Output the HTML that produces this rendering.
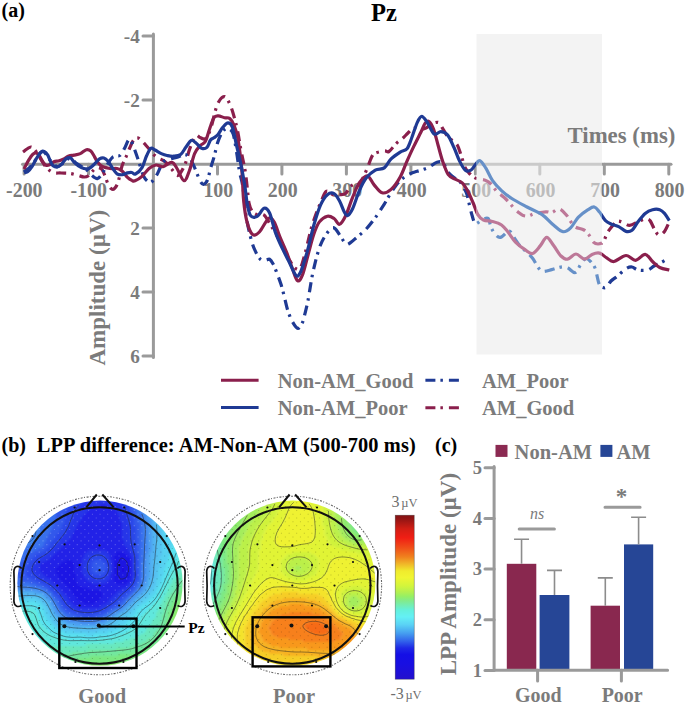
<!DOCTYPE html>
<html><head><meta charset="utf-8"><title>Figure</title>
<style>html,body{margin:0;padding:0;background:#fff;width:685px;height:707px;overflow:hidden}
svg{display:block}</style></head>
<body><svg width="685" height="707" viewBox="0 0 685 707">
<rect width="685" height="707" fill="#fff"/>
<rect x="476.5" y="34" width="125.5" height="320.5" fill="#f3f3f3"/>
<g stroke="#9a9a9a" stroke-width="3" stroke-linecap="round" fill="none">
<path d="M153.4,34V357.5"/>
<path d="M22.5,164.2H671"/>
<path d="M143,36.0H153.4"/>
<path d="M143,100.0H153.4"/>
<path d="M143,228.0H153.4"/>
<path d="M143,292.0H153.4"/>
<path d="M143,356.0H153.4"/>
<path d="M24.1,164.2V174"/>
<path d="M88.5,164.2V174"/>
<path d="M217.5,164.2V174"/>
<path d="M281.9,164.2V174"/>
<path d="M346.4,164.2V174"/>
<path d="M410.9,164.2V174"/>
<path d="M475.4,164.2V174"/>
<path d="M539.8,164.2V174"/>
<path d="M604.3,164.2V174"/>
<path d="M668.8,164.2V174"/>
</g>
<g fill="#7b7b7b" style='font-family:"Liberation Serif",serif;font-weight:bold;font-size:19.9px' text-anchor="middle">
<text x="24.3" y="197.3">-200</text>
<text x="88.7" y="197.3">-100</text>
<text x="218.3" y="197.3">100</text>
<text x="282.7" y="197.3">200</text>
<text x="347.2" y="197.3">300</text>
<text x="411.7" y="197.3">400</text>
<text x="476.2" y="197.3">500</text>
<text x="540.6" y="197.3">600</text>
<text x="605.1" y="197.3">700</text>
<text x="669.6" y="197.3">800</text>
</g>
<g fill="#7b7b7b" style='font-family:"Liberation Serif",serif;font-weight:bold;font-size:19.2px' text-anchor="end">
<text x="139.8" y="43.2">-4</text>
<text x="139.8" y="107.2">-2</text>
<text x="139.8" y="235.2">2</text>
<text x="139.8" y="299.2">4</text>
<text x="139.8" y="363.2">6</text>
</g>
<text x="567.5" y="142.5" fill="#7b7b7b" style='font-family:"Liberation Serif",serif;font-weight:bold;font-size:22.8px'>Times (ms)</text>
<text transform="translate(105.3,365.5) rotate(-90)" fill="#7b7b7b" style='font-family:"Liberation Serif",serif;font-weight:bold;font-size:23px'>Amplitude (&#181;V)</text>
<text x="1.5" y="17.3" fill="#000" style='font-family:"Liberation Serif",serif;font-weight:bold;font-size:20px'>(a)</text>
<text x="371" y="20.6" fill="#000" style='font-family:"Liberation Serif",serif;font-weight:bold;font-size:24.5px'>Pz</text>
<defs><clipPath id="cin"><rect x="476.5" y="0" width="125.5" height="400"/></clipPath><clipPath id="cout"><path d="M0,0H476.5V400H0Z M602,0H685V400H602Z"/></clipPath></defs>
<rect x="476.5" y="150" width="125.5" height="50" fill="#f3f3f3" fill-opacity="0.55"/>
<g clip-path="url(#cout)" fill="none" stroke-width="3.2" stroke-linejoin="round">
<path d="M23.0,152.0C23.7,151.5 25.7,149.8 27.0,149.0C28.3,148.2 29.7,146.8 31.0,147.0C32.3,147.2 33.5,148.2 35.0,150.0C36.5,151.8 38.2,155.2 40.0,158.0C41.8,160.8 43.8,164.6 46.0,167.0C48.2,169.4 50.5,171.5 53.0,172.5C55.5,173.5 58.2,172.8 61.0,173.0C63.8,173.2 67.2,173.1 70.0,173.5C72.8,173.9 75.7,174.8 78.0,175.4C80.3,176.0 82.3,176.9 84.0,177.0C85.7,177.1 86.6,177.0 88.0,176.0C89.4,175.0 91.0,172.6 92.5,171.2C94.0,169.8 95.4,167.8 97.0,167.5C98.6,167.2 100.7,168.1 102.0,169.5C103.3,170.9 104.0,173.6 105.0,176.0C106.0,178.4 107.0,181.9 108.0,184.0C109.0,186.1 110.0,187.7 111.0,188.5C112.0,189.3 112.8,190.0 114.0,189.0C115.2,188.0 116.7,186.3 118.0,182.5C119.3,178.7 120.7,170.2 122.0,166.0C123.3,161.8 124.8,159.9 126.0,157.0C127.2,154.1 128.3,151.2 129.5,148.5C130.7,145.8 131.8,142.8 133.0,141.0C134.2,139.2 135.7,138.0 137.0,137.8C138.3,137.6 139.6,138.8 141.0,140.0C142.4,141.2 144.0,143.1 145.5,144.8C147.0,146.5 148.8,148.5 150.0,150.0C151.2,151.5 151.3,152.3 152.6,153.6C153.9,154.9 156.0,156.7 158.0,158.0C160.0,159.3 162.5,159.6 164.8,161.5C167.1,163.4 169.8,167.0 171.8,169.3C173.8,171.6 175.5,175.1 177.0,175.5C178.5,175.9 179.5,174.2 181.0,172.0C182.5,169.8 184.4,166.0 185.8,162.3C187.2,158.7 187.7,154.5 189.3,150.1C190.9,145.7 193.7,138.2 195.5,136.1C197.3,134.0 198.4,137.0 200.0,137.5C201.6,138.0 203.5,139.8 205.0,139.0C206.5,138.2 207.8,135.5 209.0,133.0C210.2,130.5 211.1,127.3 212.1,123.8C213.1,120.3 214.0,115.5 215.0,112.0C216.0,108.5 216.8,105.4 218.0,103.0C219.2,100.6 220.7,98.4 222.0,97.5C223.3,96.6 224.5,95.9 226.0,97.5C227.5,99.1 229.5,103.2 231.0,107.0C232.5,110.8 233.8,115.7 235.0,120.0C236.2,124.3 237.1,128.6 238.0,133.0C238.9,137.4 239.5,142.1 240.3,146.6C241.1,151.1 242.1,155.6 243.0,160.0C243.9,164.4 244.8,168.0 245.5,173.0C246.2,178.0 246.9,185.0 247.5,190.0C248.1,195.0 248.2,199.3 249.0,203.0C249.8,206.7 251.1,210.0 252.6,212.0C254.1,214.0 256.1,214.5 258.0,215.0C259.9,215.5 261.9,213.4 264.0,215.1C266.1,216.8 268.6,221.7 270.8,225.3C273.1,228.9 275.2,232.4 277.5,236.6C279.8,240.8 282.4,246.4 284.3,250.2C286.2,254.0 287.1,256.2 288.9,259.2C290.7,262.2 293.1,266.5 295.0,268.0C296.9,269.5 298.6,270.5 300.2,268.3C301.8,266.1 303.4,259.2 304.7,254.7C306.0,250.2 307.0,245.6 308.1,241.1C309.2,236.6 310.2,232.0 311.5,227.5C312.8,223.0 314.5,218.1 316.0,214.0C317.5,209.9 318.8,206.8 320.5,203.0C322.2,199.2 324.1,192.7 326.2,191.3C328.3,189.9 330.7,194.1 333.0,194.7C335.3,195.3 337.7,194.9 339.8,194.7C341.9,194.5 343.8,194.9 345.5,193.6C347.2,192.3 348.4,188.6 350.0,187.0C351.6,185.4 353.4,184.3 355.0,184.0C356.6,183.7 358.1,186.0 359.4,185.0C360.7,184.0 361.7,180.8 363.0,178.0C364.3,175.2 365.9,171.5 367.4,167.9C368.9,164.3 370.6,159.1 371.9,156.6C373.2,154.1 373.2,154.1 375.3,153.2C377.4,152.2 382.0,151.2 384.3,150.9C386.6,150.6 387.1,152.6 389.0,151.5C390.9,150.4 393.4,146.3 395.6,144.1C397.8,141.9 400.3,140.3 402.4,138.5C404.5,136.7 406.1,134.7 408.0,133.0C409.9,131.3 411.7,128.9 413.8,128.3C415.9,127.7 418.6,129.5 420.6,129.4C422.6,129.3 424.1,128.9 426.0,128.0C427.9,127.1 429.8,124.7 431.9,123.8C434.0,122.9 436.8,121.7 438.7,122.6C440.6,123.5 441.6,127.0 443.2,129.4C444.8,131.8 446.4,135.1 448.0,137.0C449.6,138.9 451.4,139.6 453.0,141.0C454.6,142.4 456.1,143.1 457.4,145.3C458.7,147.5 459.5,150.5 460.8,154.3C462.1,158.1 463.8,164.6 465.3,167.9C466.8,171.2 468.3,172.3 470.0,174.0C471.7,175.7 472.9,177.0 475.5,178.1C478.1,179.2 483.1,179.4 485.7,180.4C488.3,181.4 489.1,182.1 491.0,184.0C492.9,185.9 494.8,189.4 497.0,191.7C499.2,194.0 502.4,195.9 504.5,197.8C506.6,199.7 507.8,201.2 509.5,203.0C511.2,204.8 512.9,207.2 514.6,208.9C516.4,210.7 518.6,212.4 520.0,213.5C521.4,214.6 521.8,215.1 523.1,215.5C524.4,215.9 526.0,216.3 528.0,216.0C530.0,215.7 532.0,214.2 535.0,213.5C538.0,212.8 543.1,212.0 545.9,211.8C548.7,211.6 549.8,213.0 552.0,212.5C554.2,212.0 556.7,208.4 559.2,208.9C561.7,209.4 564.8,213.3 566.8,215.5C568.8,217.7 569.6,220.1 571.0,222.0C572.4,223.9 573.1,225.7 575.3,227.0C577.5,228.3 581.7,228.7 584.0,230.0C586.3,231.3 587.4,233.0 589.0,235.0C590.6,237.0 591.9,240.6 593.4,242.1C594.9,243.6 596.4,244.0 598.0,244.0C599.6,244.0 601.7,243.6 603.0,242.3C604.3,241.0 605.0,238.0 606.0,236.0C607.0,234.0 607.4,232.6 609.1,230.2C610.8,227.8 614.1,223.2 616.3,221.8C618.4,220.4 619.8,221.4 622.0,222.0C624.2,222.6 626.9,225.4 629.6,225.4C632.3,225.4 635.4,222.9 638.0,221.8C640.6,220.7 643.0,219.2 645.0,219.0C647.0,218.8 648.4,218.7 650.0,220.6C651.6,222.5 653.4,227.8 654.9,230.2C656.4,232.6 657.4,234.8 659.0,235.0C660.6,235.2 662.8,233.6 664.5,231.4C666.2,229.2 668.5,223.4 669.3,221.8" stroke="#8a1f4c" stroke-dasharray="10 5 2.5 6"/>
<path d="M24.0,172.0C25.3,170.8 29.3,168.2 32.0,165.0C34.7,161.8 38.0,155.2 40.0,153.0C42.0,150.8 42.3,150.8 44.0,152.0C45.7,153.2 47.8,157.6 50.0,160.0C52.2,162.4 55.0,165.8 57.0,166.5C59.0,167.2 59.8,165.4 62.0,164.0C64.2,162.6 67.7,158.2 70.0,158.0C72.3,157.8 73.7,161.3 76.0,163.0C78.3,164.7 82.0,166.7 84.0,168.0C86.0,169.3 86.7,169.8 88.0,171.0C89.3,172.2 90.5,174.2 92.0,175.5C93.5,176.8 95.6,178.8 97.3,178.6C99.0,178.3 100.4,176.3 102.0,174.0C103.6,171.7 105.3,167.7 107.0,165.0C108.7,162.3 110.5,159.1 112.2,157.6C113.9,156.1 115.6,156.4 117.0,156.0C118.4,155.6 119.2,156.4 120.5,155.0C121.8,153.6 123.7,149.9 125.0,147.5C126.3,145.1 127.4,141.4 128.4,140.3C129.4,139.2 130.0,139.7 131.0,141.0C132.0,142.3 132.9,145.0 134.2,148.3C135.4,151.6 136.9,155.9 138.5,160.6C140.1,165.3 141.9,172.8 143.8,176.4C145.7,180.1 148.3,182.1 150.0,182.5C151.7,182.9 152.7,180.6 154.0,179.0C155.3,177.4 156.3,175.7 157.8,172.9C159.3,170.1 161.0,164.6 163.0,162.3C165.0,160.0 167.5,159.9 170.0,159.0C172.5,158.1 175.7,157.8 178.0,157.0C180.3,156.2 182.1,154.5 184.0,154.5C185.9,154.5 187.5,154.9 189.3,157.1C191.1,159.3 192.8,163.7 194.6,167.6C196.4,171.5 198.4,177.7 199.9,180.5C201.4,183.3 202.2,184.4 203.5,184.3C204.8,184.2 206.3,182.6 207.5,180.0C208.7,177.4 209.4,172.4 210.5,168.6C211.6,164.8 212.8,161.3 214.0,157.1C215.2,152.8 216.2,147.2 217.5,143.1C218.8,139.0 220.4,135.1 221.9,132.6C223.4,130.1 225.0,128.8 226.3,128.2C227.6,127.6 228.3,128.0 229.5,129.0C230.7,130.0 232.1,130.2 233.3,134.3C234.5,138.4 235.8,147.5 236.8,153.6C237.8,159.7 238.4,165.5 239.4,171.1C240.4,176.7 241.8,179.8 242.9,186.9C244.0,194.1 244.6,205.7 245.8,214.0C247.1,222.3 248.9,230.6 250.4,236.6C251.9,242.6 253.2,246.4 254.9,250.2C256.6,254.0 258.8,257.9 260.6,259.5C262.5,261.1 264.5,260.1 266.0,260.0C267.5,259.9 268.4,258.6 269.6,259.2C270.8,259.8 271.9,261.7 273.0,263.8C274.1,265.9 275.1,268.3 276.4,271.7C277.7,275.1 279.6,280.0 280.9,284.1C282.2,288.2 283.2,292.2 284.3,296.6C285.4,301.0 286.4,306.1 287.7,310.2C289.0,314.3 290.6,318.5 292.3,321.5C294.0,324.5 296.2,328.1 297.9,328.3C299.6,328.5 301.3,324.9 302.4,322.6C303.5,320.3 303.8,318.5 304.7,314.7C305.6,310.9 307.0,305.9 308.1,300.0C309.2,294.1 310.4,285.6 311.5,279.6C312.6,273.6 313.6,269.1 314.9,263.8C316.2,258.5 317.9,252.2 319.4,247.9C320.9,243.6 322.1,240.9 324.0,237.7C325.9,234.5 328.9,230.2 330.7,228.7C332.5,227.2 333.4,227.3 335.0,228.5C336.6,229.7 338.4,233.2 340.2,235.8C342.0,238.4 344.2,242.6 345.8,243.8C347.4,245.0 348.1,244.1 350.0,243.0C351.9,241.9 354.5,239.3 357.2,237.0C359.9,234.7 363.2,232.2 366.2,229.0C369.2,225.8 372.3,221.8 375.3,217.7C378.3,213.5 382.0,207.7 384.3,204.1C386.6,200.5 387.0,199.2 388.9,196.2C390.8,193.2 393.4,188.9 395.6,186.0C397.8,183.1 399.5,181.1 402.0,179.0C404.5,176.9 407.9,174.9 410.4,173.6C412.9,172.3 414.4,172.2 417.2,171.3C420.0,170.4 424.1,169.4 427.4,167.9C430.7,166.4 434.4,163.1 437.0,162.3C439.6,161.5 441.1,161.3 443.0,163.0C444.9,164.7 446.1,169.7 448.3,172.4C450.5,175.1 454.1,177.4 456.2,179.2C458.3,181.0 459.3,180.7 461.0,183.0C462.7,185.3 465.1,189.7 466.4,192.8C467.7,196.0 467.8,198.1 468.7,201.9C469.6,205.7 471.0,211.9 472.1,215.5C473.2,219.1 473.9,222.6 475.5,223.4C477.1,224.2 479.3,221.1 481.4,220.3C483.5,219.5 486.4,217.3 488.0,218.4C489.6,219.5 489.8,224.4 490.9,226.9C492.0,229.4 493.1,231.8 494.7,233.6C496.3,235.3 498.0,237.8 500.4,237.4C502.8,237.0 506.8,231.2 508.9,231.0C511.0,230.8 511.1,233.5 513.0,236.0C514.9,238.5 518.0,243.6 520.0,246.0C522.0,248.4 522.9,248.4 525.0,250.5C527.1,252.6 530.4,255.4 532.6,258.3C534.8,261.2 536.5,265.5 538.3,267.7C540.0,269.9 540.9,271.2 543.1,271.5C545.3,271.8 549.3,270.2 551.6,269.6C553.9,269.0 555.1,268.5 557.0,268.0C558.9,267.5 561.2,266.8 563.0,266.8C564.8,266.8 566.0,267.1 568.0,268.0C570.0,268.9 573.1,273.2 575.3,272.5C577.5,271.8 579.2,266.3 581.0,264.0C582.8,261.7 584.3,258.8 586.0,258.5C587.7,258.2 589.5,260.3 591.0,262.0C592.5,263.7 593.9,265.1 595.3,268.7C596.6,272.3 597.8,280.8 599.1,283.9C600.4,287.0 601.7,287.0 603.0,287.5C604.3,288.0 605.4,287.9 606.7,286.8C608.0,285.7 609.2,282.8 611.0,281.0C612.8,279.2 615.0,278.1 617.5,276.0C620.0,273.9 623.6,270.2 626.0,268.7C628.4,267.2 630.0,266.8 632.0,267.0C634.0,267.2 635.4,269.5 638.0,270.0C640.6,270.5 644.9,270.7 647.6,270.0C650.3,269.3 651.8,267.2 654.0,266.0C656.2,264.8 658.4,264.0 660.9,262.7C663.4,261.4 667.6,258.8 669.0,258.0" stroke="#1f3a94" stroke-dasharray="10 5 2.5 6"/>
<path d="M24.0,169.0C24.8,167.6 27.0,162.8 28.5,160.4C30.0,158.0 31.6,155.5 32.9,154.3C34.2,153.1 35.3,152.7 36.4,153.0C37.5,153.3 38.5,154.6 39.5,156.0C40.5,157.4 41.4,159.8 42.5,161.3C43.6,162.8 44.8,164.6 46.0,165.2C47.2,165.8 48.2,165.4 49.5,164.8C50.8,164.2 52.3,162.4 53.9,161.7C55.5,161.0 57.5,161.3 59.2,160.8C61.0,160.3 62.8,159.4 64.4,158.6C66.0,157.8 67.2,156.6 68.8,156.0C70.4,155.4 72.1,155.5 74.0,155.1C75.9,154.7 78.2,154.5 80.3,153.6C82.4,152.7 84.7,150.1 86.4,149.7C88.2,149.3 89.5,149.9 90.8,151.0C92.1,152.1 93.1,154.4 94.3,156.3C95.5,158.2 96.3,160.7 97.8,162.4C99.2,164.2 101.0,165.8 103.0,166.8C105.0,167.8 107.7,168.2 110.0,168.5C112.3,168.8 115.0,168.1 117.0,168.5C119.0,168.9 120.5,169.7 122.3,171.2C124.0,172.7 125.9,175.8 127.5,177.3C129.1,178.8 130.7,179.8 131.9,180.4C133.2,181.0 133.3,181.5 135.0,180.8C136.7,180.1 139.7,178.5 142.0,176.4C144.3,174.3 146.7,170.4 149.0,168.5C151.3,166.6 153.7,165.3 156.0,165.0C158.3,164.7 160.4,167.1 163.0,166.7C165.6,166.2 169.5,162.0 171.8,162.3C174.1,162.6 175.0,165.4 177.0,168.5C179.0,171.6 181.9,180.3 184.0,180.7C186.1,181.1 187.5,175.5 189.3,171.0C191.1,166.5 192.8,157.8 194.6,153.6C196.4,149.4 198.2,147.7 200.0,145.7C201.8,143.7 203.7,144.3 205.3,141.5C206.9,138.7 208.2,133.0 209.6,129.0C211.0,125.0 212.5,119.9 214.0,117.7C215.5,115.5 216.7,115.9 218.4,115.9C220.2,115.9 222.6,117.3 224.5,117.7C226.4,118.1 228.2,117.2 229.8,118.5C231.4,119.8 232.9,122.3 234.2,125.5C235.5,128.7 236.7,132.8 237.7,137.8C238.7,142.8 239.6,149.6 240.3,155.3C241.0,161.0 241.4,164.6 242.0,172.0C242.6,179.4 242.8,191.7 243.6,200.0C244.4,208.3 245.5,216.2 247.0,222.0C248.5,227.8 250.5,232.8 252.6,234.5C254.7,236.2 256.8,234.7 259.4,232.0C262.0,229.3 266.1,220.2 268.5,218.5C270.9,216.8 272.2,218.9 274.1,221.9C276.0,224.9 277.7,231.5 279.8,236.6C281.9,241.7 284.5,247.1 286.6,252.4C288.7,257.7 290.5,263.6 292.3,268.3C294.1,273.0 295.8,279.6 297.5,280.7C299.2,281.8 300.6,279.4 302.4,275.1C304.2,270.8 306.2,261.5 308.1,254.7C310.0,247.9 311.9,239.8 313.8,234.3C315.7,228.8 317.1,224.9 319.4,221.9C321.7,218.9 324.9,216.8 327.4,216.2C329.8,215.6 332.1,217.2 334.1,218.5C336.1,219.8 337.6,224.8 339.5,224.3C341.4,223.8 343.6,220.0 345.8,215.5C348.0,211.0 350.3,202.9 352.6,197.4C354.9,191.9 356.9,186.2 359.4,182.6C361.9,179.0 364.9,175.4 367.4,175.8C369.8,176.2 371.7,182.1 374.1,184.9C376.6,187.7 379.3,192.1 382.1,192.8C384.9,193.6 388.1,192.0 391.1,189.4C394.1,186.8 397.6,181.7 400.2,177.0C402.8,172.3 404.7,166.2 407.0,161.1C409.3,156.0 411.5,151.1 413.8,146.4C416.1,141.7 418.7,136.6 420.6,132.8C422.5,129.0 423.6,125.4 425.0,123.5C426.4,121.6 427.6,120.5 429.0,121.5C430.4,122.5 432.1,125.4 433.6,129.4C435.1,133.4 436.6,140.0 438.1,145.3C439.6,150.6 440.9,156.2 442.6,161.1C444.3,166.0 446.2,171.7 448.3,174.7C450.4,177.7 452.8,177.9 455.1,179.2C457.4,180.5 459.8,180.7 461.9,182.6C464.0,184.5 465.6,187.2 467.5,190.6C469.4,194.0 471.5,199.1 473.2,203.0C474.9,206.9 476.0,211.5 477.7,214.3C479.4,217.1 480.9,218.8 483.4,220.0C485.8,221.2 489.4,220.7 492.4,221.5C495.4,222.3 498.9,223.2 501.5,225.0C504.1,226.8 505.7,229.2 508.0,232.0C510.3,234.8 512.7,239.2 515.5,242.1C518.3,245.0 522.1,247.8 525.0,249.7C527.9,251.6 530.1,254.1 532.6,253.5C535.1,252.9 537.9,248.6 540.2,245.9C542.6,243.2 544.5,237.5 546.7,237.4C548.9,237.3 551.2,242.4 553.6,245.5C556.0,248.6 558.7,253.7 561.0,256.0C563.3,258.3 565.0,259.5 567.5,259.2C570.0,258.9 573.2,254.0 576.0,254.0C578.8,254.0 581.8,259.1 584.5,259.2C587.2,259.3 589.5,255.4 592.0,254.4C594.5,253.4 597.0,252.5 599.5,253.1C602.0,253.7 604.3,256.5 606.7,257.9C609.1,259.3 610.7,261.9 613.9,261.5C617.1,261.1 622.4,255.7 626.0,255.5C629.6,255.3 632.4,260.5 635.6,260.3C638.8,260.1 642.4,254.1 645.2,254.3C648.0,254.5 650.1,259.3 652.5,261.5C654.9,263.7 656.9,266.1 659.7,267.5C662.5,268.9 667.7,269.6 669.3,270.0" stroke="#8a1f4c"/>
<path d="M24.0,172.7C24.6,172.5 26.3,172.8 27.6,171.8C28.9,170.8 30.5,168.7 32.0,166.5C33.5,164.3 34.9,160.9 36.4,158.6C37.9,156.3 39.5,153.7 40.8,152.5C42.1,151.3 43.1,151.2 44.3,151.6C45.5,152.0 46.8,153.5 47.8,155.1C48.8,156.7 49.5,159.6 50.4,161.3C51.3,163.1 51.8,164.7 53.0,165.6C54.2,166.5 55.9,167.3 57.4,167.0C58.9,166.7 60.3,165.3 61.8,163.9C63.3,162.5 64.8,159.6 66.2,158.6C67.7,157.6 69.2,157.2 70.5,157.8C71.8,158.4 72.7,160.8 74.0,162.1C75.3,163.4 76.9,164.8 78.5,165.9C80.1,167.0 82.0,168.1 83.8,168.5C85.5,168.9 87.2,169.2 89.0,168.5C90.8,167.8 92.5,165.8 94.3,164.2C96.0,162.6 97.9,159.9 99.5,158.9C101.1,157.9 102.4,157.6 103.9,158.0C105.4,158.4 106.8,159.8 108.3,161.5C109.8,163.2 111.2,166.4 112.7,168.5C114.2,170.6 115.4,172.8 117.0,173.8C118.6,174.8 120.5,174.8 122.3,174.7C124.0,174.5 125.9,173.3 127.5,172.9C129.1,172.5 130.6,172.3 131.9,172.5C133.2,172.7 133.8,174.8 135.5,174.0C137.2,173.2 140.2,170.6 142.0,167.6C143.8,164.6 145.0,159.2 146.5,156.0C148.0,152.8 149.4,149.3 150.8,148.3C152.2,147.3 153.2,149.1 155.0,150.0C156.8,150.9 159.3,152.7 161.3,153.6C163.3,154.5 164.9,155.1 167.0,155.5C169.1,155.9 171.3,156.4 173.6,156.2C175.9,156.0 178.5,156.0 180.6,154.5C182.7,153.0 184.2,149.3 186.0,147.0C187.8,144.7 189.4,141.1 191.1,140.4C192.8,139.7 194.2,141.7 196.0,143.0C197.8,144.3 199.8,147.6 201.6,148.3C203.4,149.0 205.4,148.8 206.9,147.4C208.4,146.0 209.3,141.6 210.5,140.0C211.7,138.4 212.7,138.7 213.9,137.8C215.2,136.9 216.5,136.2 218.0,134.5C219.5,132.8 221.1,129.2 222.8,127.3C224.5,125.4 226.4,122.9 228.0,122.9C229.6,122.9 230.9,123.3 232.4,127.3C233.9,131.2 235.3,140.2 236.8,146.6C238.3,153.0 239.9,159.4 241.2,165.8C242.5,172.2 243.7,179.1 244.7,185.1C245.7,191.1 246.1,196.9 247.0,202.0C247.9,207.1 248.7,213.0 250.4,215.4C252.1,217.8 254.9,217.6 257.2,216.4C259.5,215.2 261.9,208.9 264.0,208.3C266.1,207.7 267.7,209.0 269.6,213.0C271.5,217.0 273.2,226.3 275.3,232.1C277.4,237.9 279.8,243.0 282.1,247.9C284.4,252.8 286.6,257.0 288.9,261.5C291.2,266.0 293.8,273.2 295.7,275.1C297.6,277.0 298.3,276.6 300.2,272.8C302.1,269.0 304.7,260.3 307.0,252.4C309.3,244.5 311.5,233.2 313.8,225.3C316.1,217.4 318.3,210.0 320.6,204.9C322.9,199.8 325.1,196.6 327.4,194.7C329.6,192.8 332.0,192.5 334.1,193.6C336.2,194.7 338.1,198.4 339.8,201.5C341.5,204.6 343.0,209.7 344.3,212.0C345.6,214.3 346.1,216.1 347.5,215.5C348.9,214.9 350.6,212.8 352.6,208.7C354.6,204.5 357.1,195.7 359.4,190.6C361.7,185.5 363.5,181.5 366.2,178.1C368.9,174.7 372.3,171.9 375.3,170.2C378.3,168.5 381.7,169.8 384.3,167.9C386.9,166.0 388.5,161.5 391.1,158.9C393.8,156.3 397.6,153.8 400.2,152.1C402.8,150.4 405.1,151.0 407.0,148.7C408.9,146.4 409.8,142.8 411.5,138.5C413.2,134.2 415.5,126.3 417.2,122.6C418.9,118.9 420.0,116.3 421.7,116.3C423.4,116.3 425.3,119.6 427.4,122.6C429.5,125.5 431.9,132.5 434.1,134.0C436.4,135.5 438.6,131.5 440.9,131.7C443.2,131.9 445.5,132.5 447.7,135.1C449.9,137.7 452.0,143.2 454.0,147.5C456.0,151.8 457.7,157.3 459.6,161.1C461.5,164.9 463.4,168.7 465.3,170.2C467.2,171.7 469.2,171.1 470.9,170.2C472.6,169.2 474.0,166.1 475.5,164.5C477.0,162.9 478.3,160.1 480.0,160.7C481.7,161.3 483.6,164.6 485.7,167.9C487.8,171.2 489.8,176.6 492.4,180.4C495.0,184.2 498.3,187.6 501.5,190.6C504.7,193.6 507.6,195.8 511.8,198.5C516.0,201.2 522.0,204.3 527.0,207.0C532.0,209.7 537.7,211.6 542.1,214.6C546.5,217.6 550.0,222.2 553.5,225.0C557.0,227.8 560.1,231.2 563.0,231.7C565.9,232.2 568.1,230.3 570.6,227.9C573.1,225.5 575.4,220.4 578.2,217.4C581.1,214.4 585.0,211.6 587.7,209.9C590.4,208.2 592.3,206.6 594.3,207.0C596.3,207.4 597.6,209.8 599.5,212.1C601.4,214.4 603.5,218.6 605.5,220.6C607.5,222.6 609.3,223.2 611.5,224.2C613.7,225.2 616.3,225.4 618.7,226.6C621.1,227.8 623.8,230.8 626.0,231.4C628.2,232.0 630.0,231.8 632.0,230.2C634.0,228.6 635.8,224.6 638.0,221.8C640.2,219.0 642.8,215.4 645.2,213.4C647.6,211.4 650.1,210.3 652.5,209.7C654.9,209.1 657.7,209.1 659.7,209.7C661.7,210.3 662.9,211.6 664.5,213.4C666.1,215.2 668.5,219.4 669.3,220.6" stroke="#1f3a94"/>
</g>
<g clip-path="url(#cin)" fill="none" stroke-width="3.2" stroke-linejoin="round">
<path d="M23.0,152.0C23.7,151.5 25.7,149.8 27.0,149.0C28.3,148.2 29.7,146.8 31.0,147.0C32.3,147.2 33.5,148.2 35.0,150.0C36.5,151.8 38.2,155.2 40.0,158.0C41.8,160.8 43.8,164.6 46.0,167.0C48.2,169.4 50.5,171.5 53.0,172.5C55.5,173.5 58.2,172.8 61.0,173.0C63.8,173.2 67.2,173.1 70.0,173.5C72.8,173.9 75.7,174.8 78.0,175.4C80.3,176.0 82.3,176.9 84.0,177.0C85.7,177.1 86.6,177.0 88.0,176.0C89.4,175.0 91.0,172.6 92.5,171.2C94.0,169.8 95.4,167.8 97.0,167.5C98.6,167.2 100.7,168.1 102.0,169.5C103.3,170.9 104.0,173.6 105.0,176.0C106.0,178.4 107.0,181.9 108.0,184.0C109.0,186.1 110.0,187.7 111.0,188.5C112.0,189.3 112.8,190.0 114.0,189.0C115.2,188.0 116.7,186.3 118.0,182.5C119.3,178.7 120.7,170.2 122.0,166.0C123.3,161.8 124.8,159.9 126.0,157.0C127.2,154.1 128.3,151.2 129.5,148.5C130.7,145.8 131.8,142.8 133.0,141.0C134.2,139.2 135.7,138.0 137.0,137.8C138.3,137.6 139.6,138.8 141.0,140.0C142.4,141.2 144.0,143.1 145.5,144.8C147.0,146.5 148.8,148.5 150.0,150.0C151.2,151.5 151.3,152.3 152.6,153.6C153.9,154.9 156.0,156.7 158.0,158.0C160.0,159.3 162.5,159.6 164.8,161.5C167.1,163.4 169.8,167.0 171.8,169.3C173.8,171.6 175.5,175.1 177.0,175.5C178.5,175.9 179.5,174.2 181.0,172.0C182.5,169.8 184.4,166.0 185.8,162.3C187.2,158.7 187.7,154.5 189.3,150.1C190.9,145.7 193.7,138.2 195.5,136.1C197.3,134.0 198.4,137.0 200.0,137.5C201.6,138.0 203.5,139.8 205.0,139.0C206.5,138.2 207.8,135.5 209.0,133.0C210.2,130.5 211.1,127.3 212.1,123.8C213.1,120.3 214.0,115.5 215.0,112.0C216.0,108.5 216.8,105.4 218.0,103.0C219.2,100.6 220.7,98.4 222.0,97.5C223.3,96.6 224.5,95.9 226.0,97.5C227.5,99.1 229.5,103.2 231.0,107.0C232.5,110.8 233.8,115.7 235.0,120.0C236.2,124.3 237.1,128.6 238.0,133.0C238.9,137.4 239.5,142.1 240.3,146.6C241.1,151.1 242.1,155.6 243.0,160.0C243.9,164.4 244.8,168.0 245.5,173.0C246.2,178.0 246.9,185.0 247.5,190.0C248.1,195.0 248.2,199.3 249.0,203.0C249.8,206.7 251.1,210.0 252.6,212.0C254.1,214.0 256.1,214.5 258.0,215.0C259.9,215.5 261.9,213.4 264.0,215.1C266.1,216.8 268.6,221.7 270.8,225.3C273.1,228.9 275.2,232.4 277.5,236.6C279.8,240.8 282.4,246.4 284.3,250.2C286.2,254.0 287.1,256.2 288.9,259.2C290.7,262.2 293.1,266.5 295.0,268.0C296.9,269.5 298.6,270.5 300.2,268.3C301.8,266.1 303.4,259.2 304.7,254.7C306.0,250.2 307.0,245.6 308.1,241.1C309.2,236.6 310.2,232.0 311.5,227.5C312.8,223.0 314.5,218.1 316.0,214.0C317.5,209.9 318.8,206.8 320.5,203.0C322.2,199.2 324.1,192.7 326.2,191.3C328.3,189.9 330.7,194.1 333.0,194.7C335.3,195.3 337.7,194.9 339.8,194.7C341.9,194.5 343.8,194.9 345.5,193.6C347.2,192.3 348.4,188.6 350.0,187.0C351.6,185.4 353.4,184.3 355.0,184.0C356.6,183.7 358.1,186.0 359.4,185.0C360.7,184.0 361.7,180.8 363.0,178.0C364.3,175.2 365.9,171.5 367.4,167.9C368.9,164.3 370.6,159.1 371.9,156.6C373.2,154.1 373.2,154.1 375.3,153.2C377.4,152.2 382.0,151.2 384.3,150.9C386.6,150.6 387.1,152.6 389.0,151.5C390.9,150.4 393.4,146.3 395.6,144.1C397.8,141.9 400.3,140.3 402.4,138.5C404.5,136.7 406.1,134.7 408.0,133.0C409.9,131.3 411.7,128.9 413.8,128.3C415.9,127.7 418.6,129.5 420.6,129.4C422.6,129.3 424.1,128.9 426.0,128.0C427.9,127.1 429.8,124.7 431.9,123.8C434.0,122.9 436.8,121.7 438.7,122.6C440.6,123.5 441.6,127.0 443.2,129.4C444.8,131.8 446.4,135.1 448.0,137.0C449.6,138.9 451.4,139.6 453.0,141.0C454.6,142.4 456.1,143.1 457.4,145.3C458.7,147.5 459.5,150.5 460.8,154.3C462.1,158.1 463.8,164.6 465.3,167.9C466.8,171.2 468.3,172.3 470.0,174.0C471.7,175.7 472.9,177.0 475.5,178.1C478.1,179.2 483.1,179.4 485.7,180.4C488.3,181.4 489.1,182.1 491.0,184.0C492.9,185.9 494.8,189.4 497.0,191.7C499.2,194.0 502.4,195.9 504.5,197.8C506.6,199.7 507.8,201.2 509.5,203.0C511.2,204.8 512.9,207.2 514.6,208.9C516.4,210.7 518.6,212.4 520.0,213.5C521.4,214.6 521.8,215.1 523.1,215.5C524.4,215.9 526.0,216.3 528.0,216.0C530.0,215.7 532.0,214.2 535.0,213.5C538.0,212.8 543.1,212.0 545.9,211.8C548.7,211.6 549.8,213.0 552.0,212.5C554.2,212.0 556.7,208.4 559.2,208.9C561.7,209.4 564.8,213.3 566.8,215.5C568.8,217.7 569.6,220.1 571.0,222.0C572.4,223.9 573.1,225.7 575.3,227.0C577.5,228.3 581.7,228.7 584.0,230.0C586.3,231.3 587.4,233.0 589.0,235.0C590.6,237.0 591.9,240.6 593.4,242.1C594.9,243.6 596.4,244.0 598.0,244.0C599.6,244.0 601.7,243.6 603.0,242.3C604.3,241.0 605.0,238.0 606.0,236.0C607.0,234.0 607.4,232.6 609.1,230.2C610.8,227.8 614.1,223.2 616.3,221.8C618.4,220.4 619.8,221.4 622.0,222.0C624.2,222.6 626.9,225.4 629.6,225.4C632.3,225.4 635.4,222.9 638.0,221.8C640.6,220.7 643.0,219.2 645.0,219.0C647.0,218.8 648.4,218.7 650.0,220.6C651.6,222.5 653.4,227.8 654.9,230.2C656.4,232.6 657.4,234.8 659.0,235.0C660.6,235.2 662.8,233.6 664.5,231.4C666.2,229.2 668.5,223.4 669.3,221.8" stroke="#bd7898" stroke-dasharray="10 5 2.5 6"/>
<path d="M24.0,172.0C25.3,170.8 29.3,168.2 32.0,165.0C34.7,161.8 38.0,155.2 40.0,153.0C42.0,150.8 42.3,150.8 44.0,152.0C45.7,153.2 47.8,157.6 50.0,160.0C52.2,162.4 55.0,165.8 57.0,166.5C59.0,167.2 59.8,165.4 62.0,164.0C64.2,162.6 67.7,158.2 70.0,158.0C72.3,157.8 73.7,161.3 76.0,163.0C78.3,164.7 82.0,166.7 84.0,168.0C86.0,169.3 86.7,169.8 88.0,171.0C89.3,172.2 90.5,174.2 92.0,175.5C93.5,176.8 95.6,178.8 97.3,178.6C99.0,178.3 100.4,176.3 102.0,174.0C103.6,171.7 105.3,167.7 107.0,165.0C108.7,162.3 110.5,159.1 112.2,157.6C113.9,156.1 115.6,156.4 117.0,156.0C118.4,155.6 119.2,156.4 120.5,155.0C121.8,153.6 123.7,149.9 125.0,147.5C126.3,145.1 127.4,141.4 128.4,140.3C129.4,139.2 130.0,139.7 131.0,141.0C132.0,142.3 132.9,145.0 134.2,148.3C135.4,151.6 136.9,155.9 138.5,160.6C140.1,165.3 141.9,172.8 143.8,176.4C145.7,180.1 148.3,182.1 150.0,182.5C151.7,182.9 152.7,180.6 154.0,179.0C155.3,177.4 156.3,175.7 157.8,172.9C159.3,170.1 161.0,164.6 163.0,162.3C165.0,160.0 167.5,159.9 170.0,159.0C172.5,158.1 175.7,157.8 178.0,157.0C180.3,156.2 182.1,154.5 184.0,154.5C185.9,154.5 187.5,154.9 189.3,157.1C191.1,159.3 192.8,163.7 194.6,167.6C196.4,171.5 198.4,177.7 199.9,180.5C201.4,183.3 202.2,184.4 203.5,184.3C204.8,184.2 206.3,182.6 207.5,180.0C208.7,177.4 209.4,172.4 210.5,168.6C211.6,164.8 212.8,161.3 214.0,157.1C215.2,152.8 216.2,147.2 217.5,143.1C218.8,139.0 220.4,135.1 221.9,132.6C223.4,130.1 225.0,128.8 226.3,128.2C227.6,127.6 228.3,128.0 229.5,129.0C230.7,130.0 232.1,130.2 233.3,134.3C234.5,138.4 235.8,147.5 236.8,153.6C237.8,159.7 238.4,165.5 239.4,171.1C240.4,176.7 241.8,179.8 242.9,186.9C244.0,194.1 244.6,205.7 245.8,214.0C247.1,222.3 248.9,230.6 250.4,236.6C251.9,242.6 253.2,246.4 254.9,250.2C256.6,254.0 258.8,257.9 260.6,259.5C262.5,261.1 264.5,260.1 266.0,260.0C267.5,259.9 268.4,258.6 269.6,259.2C270.8,259.8 271.9,261.7 273.0,263.8C274.1,265.9 275.1,268.3 276.4,271.7C277.7,275.1 279.6,280.0 280.9,284.1C282.2,288.2 283.2,292.2 284.3,296.6C285.4,301.0 286.4,306.1 287.7,310.2C289.0,314.3 290.6,318.5 292.3,321.5C294.0,324.5 296.2,328.1 297.9,328.3C299.6,328.5 301.3,324.9 302.4,322.6C303.5,320.3 303.8,318.5 304.7,314.7C305.6,310.9 307.0,305.9 308.1,300.0C309.2,294.1 310.4,285.6 311.5,279.6C312.6,273.6 313.6,269.1 314.9,263.8C316.2,258.5 317.9,252.2 319.4,247.9C320.9,243.6 322.1,240.9 324.0,237.7C325.9,234.5 328.9,230.2 330.7,228.7C332.5,227.2 333.4,227.3 335.0,228.5C336.6,229.7 338.4,233.2 340.2,235.8C342.0,238.4 344.2,242.6 345.8,243.8C347.4,245.0 348.1,244.1 350.0,243.0C351.9,241.9 354.5,239.3 357.2,237.0C359.9,234.7 363.2,232.2 366.2,229.0C369.2,225.8 372.3,221.8 375.3,217.7C378.3,213.5 382.0,207.7 384.3,204.1C386.6,200.5 387.0,199.2 388.9,196.2C390.8,193.2 393.4,188.9 395.6,186.0C397.8,183.1 399.5,181.1 402.0,179.0C404.5,176.9 407.9,174.9 410.4,173.6C412.9,172.3 414.4,172.2 417.2,171.3C420.0,170.4 424.1,169.4 427.4,167.9C430.7,166.4 434.4,163.1 437.0,162.3C439.6,161.5 441.1,161.3 443.0,163.0C444.9,164.7 446.1,169.7 448.3,172.4C450.5,175.1 454.1,177.4 456.2,179.2C458.3,181.0 459.3,180.7 461.0,183.0C462.7,185.3 465.1,189.7 466.4,192.8C467.7,196.0 467.8,198.1 468.7,201.9C469.6,205.7 471.0,211.9 472.1,215.5C473.2,219.1 473.9,222.6 475.5,223.4C477.1,224.2 479.3,221.1 481.4,220.3C483.5,219.5 486.4,217.3 488.0,218.4C489.6,219.5 489.8,224.4 490.9,226.9C492.0,229.4 493.1,231.8 494.7,233.6C496.3,235.3 498.0,237.8 500.4,237.4C502.8,237.0 506.8,231.2 508.9,231.0C511.0,230.8 511.1,233.5 513.0,236.0C514.9,238.5 518.0,243.6 520.0,246.0C522.0,248.4 522.9,248.4 525.0,250.5C527.1,252.6 530.4,255.4 532.6,258.3C534.8,261.2 536.5,265.5 538.3,267.7C540.0,269.9 540.9,271.2 543.1,271.5C545.3,271.8 549.3,270.2 551.6,269.6C553.9,269.0 555.1,268.5 557.0,268.0C558.9,267.5 561.2,266.8 563.0,266.8C564.8,266.8 566.0,267.1 568.0,268.0C570.0,268.9 573.1,273.2 575.3,272.5C577.5,271.8 579.2,266.3 581.0,264.0C582.8,261.7 584.3,258.8 586.0,258.5C587.7,258.2 589.5,260.3 591.0,262.0C592.5,263.7 593.9,265.1 595.3,268.7C596.6,272.3 597.8,280.8 599.1,283.9C600.4,287.0 601.7,287.0 603.0,287.5C604.3,288.0 605.4,287.9 606.7,286.8C608.0,285.7 609.2,282.8 611.0,281.0C612.8,279.2 615.0,278.1 617.5,276.0C620.0,273.9 623.6,270.2 626.0,268.7C628.4,267.2 630.0,266.8 632.0,267.0C634.0,267.2 635.4,269.5 638.0,270.0C640.6,270.5 644.9,270.7 647.6,270.0C650.3,269.3 651.8,267.2 654.0,266.0C656.2,264.8 658.4,264.0 660.9,262.7C663.4,261.4 667.6,258.8 669.0,258.0" stroke="#6690c8" stroke-dasharray="10 5 2.5 6"/>
<path d="M24.0,169.0C24.8,167.6 27.0,162.8 28.5,160.4C30.0,158.0 31.6,155.5 32.9,154.3C34.2,153.1 35.3,152.7 36.4,153.0C37.5,153.3 38.5,154.6 39.5,156.0C40.5,157.4 41.4,159.8 42.5,161.3C43.6,162.8 44.8,164.6 46.0,165.2C47.2,165.8 48.2,165.4 49.5,164.8C50.8,164.2 52.3,162.4 53.9,161.7C55.5,161.0 57.5,161.3 59.2,160.8C61.0,160.3 62.8,159.4 64.4,158.6C66.0,157.8 67.2,156.6 68.8,156.0C70.4,155.4 72.1,155.5 74.0,155.1C75.9,154.7 78.2,154.5 80.3,153.6C82.4,152.7 84.7,150.1 86.4,149.7C88.2,149.3 89.5,149.9 90.8,151.0C92.1,152.1 93.1,154.4 94.3,156.3C95.5,158.2 96.3,160.7 97.8,162.4C99.2,164.2 101.0,165.8 103.0,166.8C105.0,167.8 107.7,168.2 110.0,168.5C112.3,168.8 115.0,168.1 117.0,168.5C119.0,168.9 120.5,169.7 122.3,171.2C124.0,172.7 125.9,175.8 127.5,177.3C129.1,178.8 130.7,179.8 131.9,180.4C133.2,181.0 133.3,181.5 135.0,180.8C136.7,180.1 139.7,178.5 142.0,176.4C144.3,174.3 146.7,170.4 149.0,168.5C151.3,166.6 153.7,165.3 156.0,165.0C158.3,164.7 160.4,167.1 163.0,166.7C165.6,166.2 169.5,162.0 171.8,162.3C174.1,162.6 175.0,165.4 177.0,168.5C179.0,171.6 181.9,180.3 184.0,180.7C186.1,181.1 187.5,175.5 189.3,171.0C191.1,166.5 192.8,157.8 194.6,153.6C196.4,149.4 198.2,147.7 200.0,145.7C201.8,143.7 203.7,144.3 205.3,141.5C206.9,138.7 208.2,133.0 209.6,129.0C211.0,125.0 212.5,119.9 214.0,117.7C215.5,115.5 216.7,115.9 218.4,115.9C220.2,115.9 222.6,117.3 224.5,117.7C226.4,118.1 228.2,117.2 229.8,118.5C231.4,119.8 232.9,122.3 234.2,125.5C235.5,128.7 236.7,132.8 237.7,137.8C238.7,142.8 239.6,149.6 240.3,155.3C241.0,161.0 241.4,164.6 242.0,172.0C242.6,179.4 242.8,191.7 243.6,200.0C244.4,208.3 245.5,216.2 247.0,222.0C248.5,227.8 250.5,232.8 252.6,234.5C254.7,236.2 256.8,234.7 259.4,232.0C262.0,229.3 266.1,220.2 268.5,218.5C270.9,216.8 272.2,218.9 274.1,221.9C276.0,224.9 277.7,231.5 279.8,236.6C281.9,241.7 284.5,247.1 286.6,252.4C288.7,257.7 290.5,263.6 292.3,268.3C294.1,273.0 295.8,279.6 297.5,280.7C299.2,281.8 300.6,279.4 302.4,275.1C304.2,270.8 306.2,261.5 308.1,254.7C310.0,247.9 311.9,239.8 313.8,234.3C315.7,228.8 317.1,224.9 319.4,221.9C321.7,218.9 324.9,216.8 327.4,216.2C329.8,215.6 332.1,217.2 334.1,218.5C336.1,219.8 337.6,224.8 339.5,224.3C341.4,223.8 343.6,220.0 345.8,215.5C348.0,211.0 350.3,202.9 352.6,197.4C354.9,191.9 356.9,186.2 359.4,182.6C361.9,179.0 364.9,175.4 367.4,175.8C369.8,176.2 371.7,182.1 374.1,184.9C376.6,187.7 379.3,192.1 382.1,192.8C384.9,193.6 388.1,192.0 391.1,189.4C394.1,186.8 397.6,181.7 400.2,177.0C402.8,172.3 404.7,166.2 407.0,161.1C409.3,156.0 411.5,151.1 413.8,146.4C416.1,141.7 418.7,136.6 420.6,132.8C422.5,129.0 423.6,125.4 425.0,123.5C426.4,121.6 427.6,120.5 429.0,121.5C430.4,122.5 432.1,125.4 433.6,129.4C435.1,133.4 436.6,140.0 438.1,145.3C439.6,150.6 440.9,156.2 442.6,161.1C444.3,166.0 446.2,171.7 448.3,174.7C450.4,177.7 452.8,177.9 455.1,179.2C457.4,180.5 459.8,180.7 461.9,182.6C464.0,184.5 465.6,187.2 467.5,190.6C469.4,194.0 471.5,199.1 473.2,203.0C474.9,206.9 476.0,211.5 477.7,214.3C479.4,217.1 480.9,218.8 483.4,220.0C485.8,221.2 489.4,220.7 492.4,221.5C495.4,222.3 498.9,223.2 501.5,225.0C504.1,226.8 505.7,229.2 508.0,232.0C510.3,234.8 512.7,239.2 515.5,242.1C518.3,245.0 522.1,247.8 525.0,249.7C527.9,251.6 530.1,254.1 532.6,253.5C535.1,252.9 537.9,248.6 540.2,245.9C542.6,243.2 544.5,237.5 546.7,237.4C548.9,237.3 551.2,242.4 553.6,245.5C556.0,248.6 558.7,253.7 561.0,256.0C563.3,258.3 565.0,259.5 567.5,259.2C570.0,258.9 573.2,254.0 576.0,254.0C578.8,254.0 581.8,259.1 584.5,259.2C587.2,259.3 589.5,255.4 592.0,254.4C594.5,253.4 597.0,252.5 599.5,253.1C602.0,253.7 604.3,256.5 606.7,257.9C609.1,259.3 610.7,261.9 613.9,261.5C617.1,261.1 622.4,255.7 626.0,255.5C629.6,255.3 632.4,260.5 635.6,260.3C638.8,260.1 642.4,254.1 645.2,254.3C648.0,254.5 650.1,259.3 652.5,261.5C654.9,263.7 656.9,266.1 659.7,267.5C662.5,268.9 667.7,269.6 669.3,270.0" stroke="#bd7898"/>
<path d="M24.0,172.7C24.6,172.5 26.3,172.8 27.6,171.8C28.9,170.8 30.5,168.7 32.0,166.5C33.5,164.3 34.9,160.9 36.4,158.6C37.9,156.3 39.5,153.7 40.8,152.5C42.1,151.3 43.1,151.2 44.3,151.6C45.5,152.0 46.8,153.5 47.8,155.1C48.8,156.7 49.5,159.6 50.4,161.3C51.3,163.1 51.8,164.7 53.0,165.6C54.2,166.5 55.9,167.3 57.4,167.0C58.9,166.7 60.3,165.3 61.8,163.9C63.3,162.5 64.8,159.6 66.2,158.6C67.7,157.6 69.2,157.2 70.5,157.8C71.8,158.4 72.7,160.8 74.0,162.1C75.3,163.4 76.9,164.8 78.5,165.9C80.1,167.0 82.0,168.1 83.8,168.5C85.5,168.9 87.2,169.2 89.0,168.5C90.8,167.8 92.5,165.8 94.3,164.2C96.0,162.6 97.9,159.9 99.5,158.9C101.1,157.9 102.4,157.6 103.9,158.0C105.4,158.4 106.8,159.8 108.3,161.5C109.8,163.2 111.2,166.4 112.7,168.5C114.2,170.6 115.4,172.8 117.0,173.8C118.6,174.8 120.5,174.8 122.3,174.7C124.0,174.5 125.9,173.3 127.5,172.9C129.1,172.5 130.6,172.3 131.9,172.5C133.2,172.7 133.8,174.8 135.5,174.0C137.2,173.2 140.2,170.6 142.0,167.6C143.8,164.6 145.0,159.2 146.5,156.0C148.0,152.8 149.4,149.3 150.8,148.3C152.2,147.3 153.2,149.1 155.0,150.0C156.8,150.9 159.3,152.7 161.3,153.6C163.3,154.5 164.9,155.1 167.0,155.5C169.1,155.9 171.3,156.4 173.6,156.2C175.9,156.0 178.5,156.0 180.6,154.5C182.7,153.0 184.2,149.3 186.0,147.0C187.8,144.7 189.4,141.1 191.1,140.4C192.8,139.7 194.2,141.7 196.0,143.0C197.8,144.3 199.8,147.6 201.6,148.3C203.4,149.0 205.4,148.8 206.9,147.4C208.4,146.0 209.3,141.6 210.5,140.0C211.7,138.4 212.7,138.7 213.9,137.8C215.2,136.9 216.5,136.2 218.0,134.5C219.5,132.8 221.1,129.2 222.8,127.3C224.5,125.4 226.4,122.9 228.0,122.9C229.6,122.9 230.9,123.3 232.4,127.3C233.9,131.2 235.3,140.2 236.8,146.6C238.3,153.0 239.9,159.4 241.2,165.8C242.5,172.2 243.7,179.1 244.7,185.1C245.7,191.1 246.1,196.9 247.0,202.0C247.9,207.1 248.7,213.0 250.4,215.4C252.1,217.8 254.9,217.6 257.2,216.4C259.5,215.2 261.9,208.9 264.0,208.3C266.1,207.7 267.7,209.0 269.6,213.0C271.5,217.0 273.2,226.3 275.3,232.1C277.4,237.9 279.8,243.0 282.1,247.9C284.4,252.8 286.6,257.0 288.9,261.5C291.2,266.0 293.8,273.2 295.7,275.1C297.6,277.0 298.3,276.6 300.2,272.8C302.1,269.0 304.7,260.3 307.0,252.4C309.3,244.5 311.5,233.2 313.8,225.3C316.1,217.4 318.3,210.0 320.6,204.9C322.9,199.8 325.1,196.6 327.4,194.7C329.6,192.8 332.0,192.5 334.1,193.6C336.2,194.7 338.1,198.4 339.8,201.5C341.5,204.6 343.0,209.7 344.3,212.0C345.6,214.3 346.1,216.1 347.5,215.5C348.9,214.9 350.6,212.8 352.6,208.7C354.6,204.5 357.1,195.7 359.4,190.6C361.7,185.5 363.5,181.5 366.2,178.1C368.9,174.7 372.3,171.9 375.3,170.2C378.3,168.5 381.7,169.8 384.3,167.9C386.9,166.0 388.5,161.5 391.1,158.9C393.8,156.3 397.6,153.8 400.2,152.1C402.8,150.4 405.1,151.0 407.0,148.7C408.9,146.4 409.8,142.8 411.5,138.5C413.2,134.2 415.5,126.3 417.2,122.6C418.9,118.9 420.0,116.3 421.7,116.3C423.4,116.3 425.3,119.6 427.4,122.6C429.5,125.5 431.9,132.5 434.1,134.0C436.4,135.5 438.6,131.5 440.9,131.7C443.2,131.9 445.5,132.5 447.7,135.1C449.9,137.7 452.0,143.2 454.0,147.5C456.0,151.8 457.7,157.3 459.6,161.1C461.5,164.9 463.4,168.7 465.3,170.2C467.2,171.7 469.2,171.1 470.9,170.2C472.6,169.2 474.0,166.1 475.5,164.5C477.0,162.9 478.3,160.1 480.0,160.7C481.7,161.3 483.6,164.6 485.7,167.9C487.8,171.2 489.8,176.6 492.4,180.4C495.0,184.2 498.3,187.6 501.5,190.6C504.7,193.6 507.6,195.8 511.8,198.5C516.0,201.2 522.0,204.3 527.0,207.0C532.0,209.7 537.7,211.6 542.1,214.6C546.5,217.6 550.0,222.2 553.5,225.0C557.0,227.8 560.1,231.2 563.0,231.7C565.9,232.2 568.1,230.3 570.6,227.9C573.1,225.5 575.4,220.4 578.2,217.4C581.1,214.4 585.0,211.6 587.7,209.9C590.4,208.2 592.3,206.6 594.3,207.0C596.3,207.4 597.6,209.8 599.5,212.1C601.4,214.4 603.5,218.6 605.5,220.6C607.5,222.6 609.3,223.2 611.5,224.2C613.7,225.2 616.3,225.4 618.7,226.6C621.1,227.8 623.8,230.8 626.0,231.4C628.2,232.0 630.0,231.8 632.0,230.2C634.0,228.6 635.8,224.6 638.0,221.8C640.2,219.0 642.8,215.4 645.2,213.4C647.6,211.4 650.1,210.3 652.5,209.7C654.9,209.1 657.7,209.1 659.7,209.7C661.7,210.3 662.9,211.6 664.5,213.4C666.1,215.2 668.5,219.4 669.3,220.6" stroke="#6690c8"/>
</g>
<g stroke-width="3" fill="none">
<path d="M221,380.3H258.6" stroke="#8a1f4c"/>
<path d="M221,407.6H258.6" stroke="#1f3a94"/>
<path d="M425.4,380.2H460.8" stroke="#1f3a94" stroke-dasharray="10 5 2.5 6"/>
<path d="M425.4,407.8H460.8" stroke="#8a1f4c" stroke-dasharray="10 5 2.5 6"/>
</g>
<g fill="#7b7b7b" style='font-family:"Liberation Serif",serif;font-weight:bold;font-size:20.5px'>
<text x="277.8" y="387.5">Non-AM_Good</text>
<text x="277.8" y="414.9">Non-AM_Poor</text>
<text x="482" y="387.8">AM_Poor</text>
<text x="482" y="415">AM_Good</text>
</g>
<text x="1.5" y="451.8" fill="#000" style='font-family:"Liberation Serif",serif;font-weight:bold;font-size:20px'>(b)</text>
<text x="36.8" y="451.8" fill="#000" textLength="379" lengthAdjust="spacing" style='font-family:"Liberation Serif",serif;font-weight:bold;font-size:20.4px'>LPP difference: AM-Non-AM (500-700 ms)</text>
<defs><filter id="bl" x="-5%" y="-5%" width="110%" height="110%"><feGaussianBlur stdDeviation="0.9"/></filter>
<clipPath id="disk0"><circle cx="100" cy="583.2" r="82.6"/></clipPath>
<clipPath id="disk1"><circle cx="292.8" cy="583.2" r="82.6"/></clipPath>
</defs>
<g clip-path="url(#disk0)"><g filter="url(#bl)"><path fill="#1d11dd" d="M122 566h2v2h-2zM122 568h2v2h-2zM122 570h2v2h-2z"/>
<path fill="#1d14e1" d="M120 558h6v2h-6zM118 560h8v2h-8zM118 562h10v2h-10zM118 564h10v2h-10zM118 566h4v2h-4zM124 566h4v2h-4zM118 568h4v2h-4zM124 568h4v2h-4zM118 570h4v2h-4zM124 570h4v2h-4zM118 572h10v2h-10zM118 574h10v2h-10zM118 576h8v2h-8zM120 578h4v2h-4z"/>
<path fill="#1e18e4" d="M116 552h8v2h-8zM116 554h10v2h-10zM114 556h14v2h-14zM114 558h6v2h-6zM126 558h4v2h-4zM66 560h6v2h-6zM114 560h4v2h-4zM126 560h4v2h-4zM62 562h12v2h-12zM114 562h4v2h-4zM128 562h2v2h-2zM60 564h14v2h-14zM114 564h4v2h-4zM128 564h2v2h-2zM58 566h16v2h-16zM114 566h4v2h-4zM128 566h2v2h-2zM56 568h18v2h-18zM114 568h4v2h-4zM128 568h2v2h-2zM56 570h18v2h-18zM114 570h4v2h-4zM128 570h2v2h-2zM56 572h18v2h-18zM114 572h4v2h-4zM128 572h2v2h-2zM58 574h18v2h-18zM114 574h4v2h-4zM128 574h2v2h-2zM58 576h18v2h-18zM114 576h4v2h-4zM126 576h4v2h-4zM60 578h16v2h-16zM114 578h6v2h-6zM124 578h4v2h-4zM62 580h14v2h-14zM114 580h14v2h-14zM64 582h14v2h-14zM116 582h10v2h-10zM66 584h12v2h-12zM68 586h14v2h-14zM70 588h18v2h-18zM72 590h28v2h-28zM72 592h30v2h-30zM74 594h28v2h-28zM76 596h26v2h-26zM76 598h24v2h-24zM80 600h18v2h-18zM84 602h10v2h-10z"/>
<path fill="#2124e7" d="M100 504h6v2h-6zM94 506h18v2h-18zM90 508h24v2h-24zM88 510h28v2h-28zM86 512h32v2h-32zM84 514h34v2h-34zM82 516h38v2h-38zM82 518h38v2h-38zM80 520h40v2h-40zM78 522h44v2h-44zM78 524h44v2h-44zM76 526h46v2h-46zM76 528h46v2h-46zM74 530h48v2h-48zM74 532h48v2h-48zM72 534h50v2h-50zM72 536h50v2h-50zM70 538h52v2h-52zM68 540h56v2h-56zM66 542h58v2h-58zM64 544h60v2h-60zM62 546h64v2h-64zM60 548h68v2h-68zM58 550h30v2h-30zM106 550h22v2h-22zM56 552h30v2h-30zM108 552h8v2h-8zM124 552h6v2h-6zM54 554h30v2h-30zM110 554h6v2h-6zM126 554h4v2h-4zM52 556h32v2h-32zM110 556h4v2h-4zM128 556h4v2h-4zM50 558h32v2h-32zM110 558h4v2h-4zM130 558h2v2h-2zM46 560h20v2h-20zM72 560h10v2h-10zM112 560h2v2h-2zM130 560h2v2h-2zM42 562h20v2h-20zM74 562h8v2h-8zM112 562h2v2h-2zM130 562h2v2h-2zM40 564h20v2h-20zM74 564h8v2h-8zM112 564h2v2h-2zM130 564h2v2h-2zM40 566h18v2h-18zM74 566h8v2h-8zM112 566h2v2h-2zM130 566h2v2h-2zM40 568h16v2h-16zM74 568h8v2h-8zM112 568h2v2h-2zM130 568h2v2h-2zM40 570h16v2h-16zM74 570h8v2h-8zM112 570h2v2h-2zM130 570h2v2h-2zM42 572h14v2h-14zM74 572h8v2h-8zM112 572h2v2h-2zM130 572h2v2h-2zM44 574h14v2h-14zM76 574h8v2h-8zM110 574h4v2h-4zM130 574h2v2h-2zM46 576h12v2h-12zM76 576h8v2h-8zM110 576h4v2h-4zM130 576h2v2h-2zM50 578h10v2h-10zM76 578h10v2h-10zM110 578h4v2h-4zM128 578h4v2h-4zM52 580h10v2h-10zM76 580h12v2h-12zM108 580h6v2h-6zM128 580h4v2h-4zM54 582h10v2h-10zM78 582h14v2h-14zM106 582h10v2h-10zM126 582h4v2h-4zM56 584h10v2h-10zM78 584h50v2h-50zM58 586h10v2h-10zM82 586h44v2h-44zM60 588h10v2h-10zM88 588h34v2h-34zM62 590h10v2h-10zM100 590h18v2h-18zM64 592h8v2h-8zM102 592h14v2h-14zM66 594h8v2h-8zM102 594h12v2h-12zM68 596h8v2h-8zM102 596h10v2h-10zM68 598h8v2h-8zM100 598h10v2h-10zM70 600h10v2h-10zM98 600h10v2h-10zM72 602h12v2h-12zM94 602h12v2h-12zM74 604h28v2h-28zM78 606h22v2h-22z"/>
<path fill="#2636e8" d="M86 498h32v2h-32zM84 500h36v2h-36zM82 502h40v2h-40zM80 504h20v2h-20zM106 504h16v2h-16zM78 506h16v2h-16zM112 506h12v2h-12zM78 508h12v2h-12zM114 508h10v2h-10zM76 510h12v2h-12zM116 510h10v2h-10zM74 512h12v2h-12zM118 512h8v2h-8zM74 514h10v2h-10zM118 514h8v2h-8zM72 516h10v2h-10zM120 516h8v2h-8zM72 518h10v2h-10zM120 518h8v2h-8zM72 520h8v2h-8zM120 520h8v2h-8zM70 522h8v2h-8zM122 522h6v2h-6zM70 524h8v2h-8zM122 524h8v2h-8zM68 526h8v2h-8zM122 526h8v2h-8zM68 528h8v2h-8zM122 528h8v2h-8zM66 530h8v2h-8zM122 530h8v2h-8zM66 532h8v2h-8zM122 532h8v2h-8zM64 534h8v2h-8zM122 534h8v2h-8zM62 536h10v2h-10zM122 536h8v2h-8zM60 538h10v2h-10zM122 538h8v2h-8zM60 540h8v2h-8zM124 540h6v2h-6zM58 542h8v2h-8zM124 542h6v2h-6zM56 544h8v2h-8zM124 544h8v2h-8zM54 546h8v2h-8zM126 546h6v2h-6zM52 548h8v2h-8zM128 548h4v2h-4zM50 550h8v2h-8zM88 550h18v2h-18zM128 550h4v2h-4zM48 552h8v2h-8zM86 552h22v2h-22zM130 552h4v2h-4zM46 554h8v2h-8zM84 554h10v2h-10zM102 554h8v2h-8zM130 554h4v2h-4zM42 556h10v2h-10zM84 556h6v2h-6zM106 556h4v2h-4zM132 556h2v2h-2zM40 558h10v2h-10zM82 558h8v2h-8zM106 558h4v2h-4zM132 558h2v2h-2zM36 560h10v2h-10zM82 560h6v2h-6zM108 560h4v2h-4zM132 560h2v2h-2zM34 562h8v2h-8zM82 562h6v2h-6zM108 562h4v2h-4zM132 562h2v2h-2zM34 564h6v2h-6zM82 564h4v2h-4zM108 564h4v2h-4zM132 564h2v2h-2zM32 566h8v2h-8zM82 566h4v2h-4zM110 566h2v2h-2zM132 566h2v2h-2zM32 568h8v2h-8zM82 568h4v2h-4zM110 568h2v2h-2zM132 568h2v2h-2zM32 570h8v2h-8zM82 570h6v2h-6zM108 570h4v2h-4zM132 570h2v2h-2zM34 572h8v2h-8zM82 572h6v2h-6zM108 572h4v2h-4zM132 572h4v2h-4zM36 574h8v2h-8zM84 574h6v2h-6zM106 574h4v2h-4zM132 574h4v2h-4zM38 576h8v2h-8zM84 576h8v2h-8zM106 576h4v2h-4zM132 576h2v2h-2zM40 578h10v2h-10zM86 578h10v2h-10zM102 578h8v2h-8zM132 578h2v2h-2zM44 580h8v2h-8zM88 580h20v2h-20zM132 580h2v2h-2zM48 582h6v2h-6zM92 582h14v2h-14zM130 582h2v2h-2zM50 584h6v2h-6zM128 584h4v2h-4zM54 586h4v2h-4zM126 586h4v2h-4zM56 588h4v2h-4zM122 588h6v2h-6zM58 590h4v2h-4zM118 590h8v2h-8zM60 592h4v2h-4zM116 592h6v2h-6zM60 594h6v2h-6zM114 594h6v2h-6zM62 596h6v2h-6zM112 596h6v2h-6zM64 598h4v2h-4zM110 598h6v2h-6zM64 600h6v2h-6zM108 600h6v2h-6zM66 602h6v2h-6zM106 602h6v2h-6zM68 604h6v2h-6zM102 604h8v2h-8zM70 606h8v2h-8zM100 606h6v2h-6zM72 608h30v2h-30zM78 610h20v2h-20z"/>
<path fill="#2b47e9" d="M80 498h6v2h-6zM74 500h10v2h-10zM120 500h6v2h-6zM70 502h12v2h-12zM122 502h6v2h-6zM68 504h12v2h-12zM122 504h8v2h-8zM68 506h10v2h-10zM124 506h6v2h-6zM68 508h10v2h-10zM124 508h6v2h-6zM66 510h10v2h-10zM126 510h4v2h-4zM66 512h8v2h-8zM126 512h6v2h-6zM66 514h8v2h-8zM126 514h6v2h-6zM64 516h8v2h-8zM128 516h4v2h-4zM64 518h8v2h-8zM128 518h6v2h-6zM64 520h8v2h-8zM128 520h6v2h-6zM64 522h6v2h-6zM128 522h6v2h-6zM62 524h8v2h-8zM130 524h4v2h-4zM62 526h6v2h-6zM130 526h6v2h-6zM60 528h8v2h-8zM130 528h6v2h-6zM60 530h6v2h-6zM130 530h6v2h-6zM58 532h8v2h-8zM130 532h6v2h-6zM56 534h8v2h-8zM130 534h6v2h-6zM56 536h6v2h-6zM130 536h6v2h-6zM54 538h6v2h-6zM130 538h6v2h-6zM52 540h8v2h-8zM130 540h6v2h-6zM50 542h8v2h-8zM130 542h6v2h-6zM50 544h6v2h-6zM132 544h4v2h-4zM48 546h6v2h-6zM132 546h4v2h-4zM46 548h6v2h-6zM132 548h4v2h-4zM44 550h6v2h-6zM132 550h4v2h-4zM40 552h8v2h-8zM134 552h2v2h-2zM36 554h10v2h-10zM94 554h8v2h-8zM134 554h4v2h-4zM34 556h8v2h-8zM90 556h16v2h-16zM134 556h4v2h-4zM32 558h8v2h-8zM90 558h16v2h-16zM134 558h4v2h-4zM30 560h6v2h-6zM88 560h6v2h-6zM102 560h6v2h-6zM134 560h4v2h-4zM28 562h6v2h-6zM88 562h4v2h-4zM104 562h4v2h-4zM134 562h4v2h-4zM28 564h6v2h-6zM86 564h6v2h-6zM106 564h2v2h-2zM134 564h4v2h-4zM26 566h6v2h-6zM86 566h6v2h-6zM106 566h4v2h-4zM134 566h2v2h-2zM26 568h6v2h-6zM86 568h6v2h-6zM106 568h4v2h-4zM134 568h4v2h-4zM26 570h6v2h-6zM88 570h4v2h-4zM104 570h4v2h-4zM134 570h4v2h-4zM26 572h8v2h-8zM88 572h6v2h-6zM104 572h4v2h-4zM136 572h2v2h-2zM26 574h10v2h-10zM90 574h16v2h-16zM136 574h2v2h-2zM28 576h10v2h-10zM92 576h14v2h-14zM134 576h4v2h-4zM32 578h8v2h-8zM96 578h6v2h-6zM134 578h4v2h-4zM36 580h8v2h-8zM134 580h2v2h-2zM40 582h8v2h-8zM132 582h4v2h-4zM44 584h6v2h-6zM132 584h2v2h-2zM48 586h6v2h-6zM130 586h4v2h-4zM50 588h6v2h-6zM128 588h4v2h-4zM52 590h6v2h-6zM126 590h4v2h-4zM54 592h6v2h-6zM122 592h6v2h-6zM56 594h4v2h-4zM120 594h6v2h-6zM58 596h4v2h-4zM118 596h6v2h-6zM60 598h4v2h-4zM116 598h6v2h-6zM60 600h4v2h-4zM114 600h6v2h-6zM62 602h4v2h-4zM112 602h6v2h-6zM62 604h6v2h-6zM110 604h6v2h-6zM64 606h6v2h-6zM106 606h6v2h-6zM66 608h6v2h-6zM102 608h6v2h-6zM70 610h8v2h-8zM98 610h8v2h-8zM74 612h28v2h-28zM82 614h12v2h-12z"/>
<path fill="#3059eb" d="M68 502h2v2h-2zM128 502h4v2h-4zM62 504h6v2h-6zM130 504h4v2h-4zM58 506h10v2h-10zM130 506h4v2h-4zM56 508h12v2h-12zM130 508h4v2h-4zM56 510h10v2h-10zM130 510h6v2h-6zM56 512h10v2h-10zM132 512h4v2h-4zM56 514h10v2h-10zM132 514h4v2h-4zM56 516h8v2h-8zM132 516h6v2h-6zM56 518h8v2h-8zM134 518h4v2h-4zM54 520h10v2h-10zM134 520h4v2h-4zM54 522h10v2h-10zM134 522h6v2h-6zM54 524h8v2h-8zM134 524h6v2h-6zM52 526h10v2h-10zM136 526h4v2h-4zM52 528h8v2h-8zM136 528h4v2h-4zM50 530h10v2h-10zM136 530h4v2h-4zM50 532h8v2h-8zM136 532h4v2h-4zM48 534h8v2h-8zM136 534h4v2h-4zM48 536h8v2h-8zM136 536h4v2h-4zM46 538h8v2h-8zM136 538h4v2h-4zM46 540h6v2h-6zM136 540h4v2h-4zM44 542h6v2h-6zM136 542h4v2h-4zM44 544h6v2h-6zM136 544h4v2h-4zM42 546h6v2h-6zM136 546h4v2h-4zM38 548h8v2h-8zM136 548h4v2h-4zM34 550h10v2h-10zM136 550h4v2h-4zM30 552h10v2h-10zM136 552h4v2h-4zM28 554h8v2h-8zM138 554h2v2h-2zM26 556h8v2h-8zM138 556h2v2h-2zM24 558h8v2h-8zM138 558h2v2h-2zM22 560h8v2h-8zM94 560h8v2h-8zM138 560h2v2h-2zM20 562h8v2h-8zM92 562h12v2h-12zM138 562h2v2h-2zM20 564h8v2h-8zM92 564h14v2h-14zM138 564h2v2h-2zM18 566h8v2h-8zM92 566h6v2h-6zM100 566h6v2h-6zM136 566h4v2h-4zM18 568h8v2h-8zM92 568h14v2h-14zM138 568h2v2h-2zM16 570h10v2h-10zM92 570h12v2h-12zM138 570h2v2h-2zM16 572h10v2h-10zM94 572h10v2h-10zM138 572h2v2h-2zM18 574h8v2h-8zM138 574h2v2h-2zM18 576h10v2h-10zM138 576h2v2h-2zM20 578h12v2h-12zM138 578h2v2h-2zM22 580h14v2h-14zM136 580h4v2h-4zM30 582h10v2h-10zM136 582h2v2h-2zM36 584h8v2h-8zM134 584h4v2h-4zM42 586h6v2h-6zM134 586h2v2h-2zM46 588h4v2h-4zM132 588h4v2h-4zM48 590h4v2h-4zM130 590h4v2h-4zM52 592h2v2h-2zM128 592h4v2h-4zM52 594h4v2h-4zM126 594h4v2h-4zM54 596h4v2h-4zM124 596h4v2h-4zM56 598h4v2h-4zM122 598h4v2h-4zM58 600h2v2h-2zM120 600h4v2h-4zM58 602h4v2h-4zM118 602h4v2h-4zM60 604h2v2h-2zM116 604h4v2h-4zM60 606h4v2h-4zM112 606h6v2h-6zM62 608h4v2h-4zM108 608h6v2h-6zM64 610h6v2h-6zM106 610h4v2h-4zM66 612h8v2h-8zM102 612h6v2h-6zM70 614h12v2h-12zM94 614h10v2h-10zM76 616h22v2h-22z"/>
<path fill="#396fed" d="M134 504h2v2h-2zM134 506h4v2h-4zM134 508h4v2h-4zM52 510h4v2h-4zM136 510h4v2h-4zM48 512h8v2h-8zM136 512h4v2h-4zM46 514h10v2h-10zM136 514h6v2h-6zM44 516h12v2h-12zM138 516h4v2h-4zM42 518h14v2h-14zM138 518h4v2h-4zM42 520h12v2h-12zM138 520h4v2h-4zM42 522h12v2h-12zM140 522h4v2h-4zM40 524h14v2h-14zM140 524h4v2h-4zM40 526h12v2h-12zM140 526h4v2h-4zM40 528h12v2h-12zM140 528h4v2h-4zM40 530h10v2h-10zM140 530h4v2h-4zM40 532h10v2h-10zM140 532h4v2h-4zM38 534h10v2h-10zM140 534h4v2h-4zM38 536h10v2h-10zM140 536h4v2h-4zM38 538h8v2h-8zM140 538h4v2h-4zM36 540h10v2h-10zM140 540h4v2h-4zM34 542h10v2h-10zM140 542h4v2h-4zM30 544h14v2h-14zM140 544h4v2h-4zM26 546h16v2h-16zM140 546h4v2h-4zM24 548h14v2h-14zM140 548h4v2h-4zM20 550h14v2h-14zM140 550h4v2h-4zM18 552h12v2h-12zM140 552h4v2h-4zM16 554h12v2h-12zM140 554h4v2h-4zM16 556h10v2h-10zM140 556h4v2h-4zM16 558h8v2h-8zM140 558h4v2h-4zM14 560h8v2h-8zM140 560h4v2h-4zM14 562h6v2h-6zM140 562h2v2h-2zM14 564h6v2h-6zM140 564h2v2h-2zM12 566h6v2h-6zM98 566h2v2h-2zM140 566h2v2h-2zM12 568h6v2h-6zM140 568h2v2h-2zM12 570h4v2h-4zM140 570h2v2h-2zM12 572h4v2h-4zM140 572h2v2h-2zM12 574h6v2h-6zM140 574h2v2h-2zM12 576h6v2h-6zM140 576h2v2h-2zM12 578h8v2h-8zM140 578h2v2h-2zM12 580h10v2h-10zM140 580h2v2h-2zM12 582h18v2h-18zM138 582h4v2h-4zM16 584h20v2h-20zM138 584h2v2h-2zM32 586h10v2h-10zM136 586h4v2h-4zM40 588h6v2h-6zM136 588h2v2h-2zM44 590h4v2h-4zM134 590h2v2h-2zM48 592h4v2h-4zM132 592h2v2h-2zM50 594h2v2h-2zM130 594h2v2h-2zM52 596h2v2h-2zM128 596h2v2h-2zM52 598h4v2h-4zM126 598h2v2h-2zM54 600h4v2h-4zM124 600h2v2h-2zM56 602h2v2h-2zM122 602h4v2h-4zM56 604h4v2h-4zM120 604h4v2h-4zM58 606h2v2h-2zM118 606h4v2h-4zM58 608h4v2h-4zM114 608h4v2h-4zM60 610h4v2h-4zM110 610h4v2h-4zM62 612h4v2h-4zM108 612h4v2h-4zM64 614h6v2h-6zM104 614h4v2h-4zM66 616h10v2h-10zM98 616h8v2h-8zM72 618h30v2h-30z"/>
<path fill="#4287ef" d="M138 506h2v2h-2zM138 508h6v2h-6zM140 510h4v2h-4zM140 512h4v2h-4zM142 514h4v2h-4zM142 516h4v2h-4zM142 518h4v2h-4zM38 520h4v2h-4zM142 520h6v2h-6zM36 522h6v2h-6zM144 522h4v2h-4zM34 524h6v2h-6zM144 524h4v2h-4zM34 526h6v2h-6zM144 526h4v2h-4zM32 528h8v2h-8zM144 528h4v2h-4zM30 530h10v2h-10zM144 530h4v2h-4zM28 532h12v2h-12zM144 532h4v2h-4zM26 534h12v2h-12zM144 534h4v2h-4zM26 536h12v2h-12zM144 536h4v2h-4zM24 538h14v2h-14zM144 538h4v2h-4zM24 540h12v2h-12zM144 540h4v2h-4zM22 542h12v2h-12zM144 542h4v2h-4zM20 544h10v2h-10zM144 544h4v2h-4zM20 546h6v2h-6zM144 546h4v2h-4zM18 548h6v2h-6zM144 548h4v2h-4zM18 550h2v2h-2zM144 550h4v2h-4zM144 552h4v2h-4zM144 554h2v2h-2zM144 556h2v2h-2zM144 558h2v2h-2zM144 560h2v2h-2zM142 562h4v2h-4zM142 564h4v2h-4zM142 566h4v2h-4zM142 568h4v2h-4zM142 570h4v2h-4zM142 572h4v2h-4zM142 574h4v2h-4zM142 576h4v2h-4zM142 578h4v2h-4zM142 580h4v2h-4zM142 582h2v2h-2zM12 584h4v2h-4zM140 584h4v2h-4zM12 586h20v2h-20zM140 586h2v2h-2zM14 588h26v2h-26zM138 588h4v2h-4zM38 590h6v2h-6zM136 590h4v2h-4zM44 592h4v2h-4zM134 592h4v2h-4zM46 594h4v2h-4zM132 594h4v2h-4zM48 596h4v2h-4zM130 596h4v2h-4zM50 598h2v2h-2zM128 598h4v2h-4zM52 600h2v2h-2zM126 600h4v2h-4zM52 602h4v2h-4zM126 602h2v2h-2zM54 604h2v2h-2zM124 604h2v2h-2zM54 606h4v2h-4zM122 606h2v2h-2zM56 608h2v2h-2zM118 608h4v2h-4zM56 610h4v2h-4zM114 610h6v2h-6zM58 612h4v2h-4zM112 612h4v2h-4zM60 614h4v2h-4zM108 614h6v2h-6zM62 616h4v2h-4zM106 616h4v2h-4zM64 618h8v2h-8zM102 618h6v2h-6zM68 620h36v2h-36zM80 622h16v2h-16z"/>
<path fill="#4c9ff1" d="M144 510h4v2h-4zM144 512h6v2h-6zM146 514h4v2h-4zM146 516h4v2h-4zM146 518h6v2h-6zM148 520h4v2h-4zM148 522h4v2h-4zM148 524h4v2h-4zM148 526h4v2h-4zM148 528h4v2h-4zM148 530h4v2h-4zM148 532h4v2h-4zM148 534h4v2h-4zM148 536h4v2h-4zM148 538h4v2h-4zM148 540h4v2h-4zM148 542h4v2h-4zM148 544h4v2h-4zM148 546h4v2h-4zM148 548h4v2h-4zM148 550h4v2h-4zM148 552h2v2h-2zM146 554h4v2h-4zM146 556h4v2h-4zM146 558h4v2h-4zM146 560h4v2h-4zM146 562h4v2h-4zM146 564h4v2h-4zM146 566h4v2h-4zM146 568h4v2h-4zM146 570h4v2h-4zM146 572h4v2h-4zM146 574h4v2h-4zM146 576h4v2h-4zM146 578h2v2h-2zM146 580h2v2h-2zM144 582h4v2h-4zM144 584h4v2h-4zM142 586h4v2h-4zM12 588h2v2h-2zM142 588h4v2h-4zM12 590h26v2h-26zM140 590h4v2h-4zM34 592h10v2h-10zM138 592h4v2h-4zM42 594h4v2h-4zM136 594h4v2h-4zM44 596h4v2h-4zM134 596h4v2h-4zM46 598h4v2h-4zM132 598h4v2h-4zM48 600h4v2h-4zM130 600h4v2h-4zM50 602h2v2h-2zM128 602h4v2h-4zM50 604h4v2h-4zM126 604h4v2h-4zM52 606h2v2h-2zM124 606h4v2h-4zM52 608h4v2h-4zM122 608h4v2h-4zM54 610h2v2h-2zM120 610h4v2h-4zM54 612h4v2h-4zM116 612h4v2h-4zM56 614h4v2h-4zM114 614h4v2h-4zM58 616h4v2h-4zM110 616h4v2h-4zM60 618h4v2h-4zM108 618h4v2h-4zM62 620h6v2h-6zM104 620h6v2h-6zM66 622h14v2h-14zM96 622h10v2h-10zM74 624h26v2h-26z"/>
<path fill="#51b3f2" d="M150 514h2v2h-2zM150 516h6v2h-6zM152 518h4v2h-4zM152 520h4v2h-4zM152 522h4v2h-4zM152 524h4v2h-4zM152 526h4v2h-4zM152 528h4v2h-4zM152 530h6v2h-6zM152 532h6v2h-6zM152 534h6v2h-6zM152 536h6v2h-6zM152 538h4v2h-4zM152 540h4v2h-4zM152 542h4v2h-4zM152 544h4v2h-4zM152 546h4v2h-4zM152 548h4v2h-4zM152 550h4v2h-4zM150 552h6v2h-6zM150 554h6v2h-6zM150 556h6v2h-6zM150 558h4v2h-4zM150 560h4v2h-4zM150 562h4v2h-4zM150 564h4v2h-4zM150 566h4v2h-4zM150 568h4v2h-4zM150 570h4v2h-4zM150 572h4v2h-4zM150 574h4v2h-4zM150 576h4v2h-4zM148 578h4v2h-4zM148 580h4v2h-4zM148 582h4v2h-4zM148 584h2v2h-2zM146 586h4v2h-4zM146 588h2v2h-2zM144 590h4v2h-4zM12 592h22v2h-22zM142 592h4v2h-4zM12 594h30v2h-30zM140 594h4v2h-4zM40 596h4v2h-4zM138 596h4v2h-4zM42 598h4v2h-4zM136 598h4v2h-4zM44 600h4v2h-4zM134 600h4v2h-4zM46 602h4v2h-4zM132 602h4v2h-4zM48 604h2v2h-2zM130 604h4v2h-4zM48 606h4v2h-4zM128 606h4v2h-4zM50 608h2v2h-2zM126 608h4v2h-4zM50 610h4v2h-4zM124 610h4v2h-4zM52 612h2v2h-2zM120 612h6v2h-6zM52 614h4v2h-4zM118 614h4v2h-4zM54 616h4v2h-4zM114 616h6v2h-6zM56 618h4v2h-4zM112 618h6v2h-6zM56 620h6v2h-6zM110 620h4v2h-4zM58 622h8v2h-8zM106 622h6v2h-6zM62 624h12v2h-12zM100 624h8v2h-8zM68 626h36v2h-36z"/>
<path fill="#54c3f1" d="M156 518h2v2h-2zM156 520h4v2h-4zM156 522h6v2h-6zM156 524h6v2h-6zM156 526h6v2h-6zM156 528h6v2h-6zM158 530h4v2h-4zM158 532h4v2h-4zM158 534h4v2h-4zM158 536h4v2h-4zM156 538h6v2h-6zM156 540h6v2h-6zM156 542h6v2h-6zM156 544h6v2h-6zM156 546h6v2h-6zM156 548h6v2h-6zM156 550h6v2h-6zM156 552h6v2h-6zM156 554h6v2h-6zM156 556h4v2h-4zM154 558h6v2h-6zM154 560h6v2h-6zM154 562h6v2h-6zM154 564h6v2h-6zM154 566h6v2h-6zM154 568h4v2h-4zM154 570h4v2h-4zM154 572h4v2h-4zM154 574h4v2h-4zM154 576h4v2h-4zM152 578h4v2h-4zM152 580h4v2h-4zM152 582h4v2h-4zM150 584h6v2h-6zM150 586h4v2h-4zM148 588h6v2h-6zM148 590h4v2h-4zM146 592h4v2h-4zM144 594h4v2h-4zM12 596h28v2h-28zM142 596h6v2h-6zM12 598h12v2h-12zM36 598h6v2h-6zM140 598h4v2h-4zM40 600h4v2h-4zM138 600h4v2h-4zM42 602h4v2h-4zM136 602h4v2h-4zM44 604h4v2h-4zM134 604h2v2h-2zM46 606h2v2h-2zM132 606h4v2h-4zM46 608h4v2h-4zM130 608h4v2h-4zM48 610h2v2h-2zM128 610h4v2h-4zM48 612h4v2h-4zM126 612h4v2h-4zM50 614h2v2h-2zM122 614h6v2h-6zM50 616h4v2h-4zM120 616h6v2h-6zM52 618h4v2h-4zM118 618h4v2h-4zM52 620h4v2h-4zM114 620h6v2h-6zM54 622h4v2h-4zM112 622h6v2h-6zM56 624h6v2h-6zM108 624h8v2h-8zM58 626h10v2h-10zM104 626h8v2h-8zM64 628h44v2h-44zM74 630h24v2h-24z"/>
<path fill="#57d2f1" d="M162 524h2v2h-2zM162 526h4v2h-4zM162 528h6v2h-6zM162 530h8v2h-8zM162 532h8v2h-8zM162 534h8v2h-8zM162 536h8v2h-8zM162 538h10v2h-10zM162 540h10v2h-10zM162 542h10v2h-10zM162 544h10v2h-10zM162 546h10v2h-10zM162 548h8v2h-8zM162 550h8v2h-8zM162 552h8v2h-8zM162 554h8v2h-8zM160 556h8v2h-8zM160 558h8v2h-8zM160 560h8v2h-8zM160 562h6v2h-6zM160 564h6v2h-6zM160 566h6v2h-6zM158 568h6v2h-6zM158 570h6v2h-6zM158 572h6v2h-6zM158 574h6v2h-6zM158 576h4v2h-4zM156 578h6v2h-6zM156 580h6v2h-6zM156 582h4v2h-4zM156 584h4v2h-4zM154 586h4v2h-4zM154 588h4v2h-4zM152 590h4v2h-4zM150 592h6v2h-6zM148 594h6v2h-6zM148 596h4v2h-4zM24 598h12v2h-12zM144 598h6v2h-6zM12 600h28v2h-28zM142 600h6v2h-6zM12 602h8v2h-8zM36 602h6v2h-6zM140 602h6v2h-6zM40 604h4v2h-4zM136 604h6v2h-6zM42 606h4v2h-4zM136 606h4v2h-4zM42 608h4v2h-4zM134 608h4v2h-4zM44 610h4v2h-4zM132 610h4v2h-4zM44 612h4v2h-4zM130 612h6v2h-6zM44 614h6v2h-6zM128 614h6v2h-6zM46 616h4v2h-4zM126 616h6v2h-6zM46 618h6v2h-6zM122 618h8v2h-8zM48 620h4v2h-4zM120 620h8v2h-8zM50 622h4v2h-4zM118 622h8v2h-8zM52 624h4v2h-4zM116 624h8v2h-8zM54 626h4v2h-4zM112 626h8v2h-8zM56 628h8v2h-8zM108 628h10v2h-10zM58 630h16v2h-16zM98 630h16v2h-16zM64 632h44v2h-44zM86 634h8v2h-8z"/>
<path fill="#59e2f0" d="M170 534h2v2h-2zM170 536h4v2h-4zM172 538h2v2h-2zM172 540h4v2h-4zM172 542h6v2h-6zM172 544h6v2h-6zM172 546h8v2h-8zM170 548h10v2h-10zM170 550h10v2h-10zM170 552h10v2h-10zM170 554h8v2h-8zM168 556h10v2h-10zM168 558h10v2h-10zM168 560h8v2h-8zM166 562h10v2h-10zM166 564h8v2h-8zM166 566h8v2h-8zM164 568h8v2h-8zM164 570h8v2h-8zM164 572h6v2h-6zM164 574h6v2h-6zM162 576h6v2h-6zM162 578h6v2h-6zM162 580h4v2h-4zM160 582h6v2h-6zM160 584h4v2h-4zM158 586h6v2h-6zM158 588h4v2h-4zM156 590h6v2h-6zM156 592h4v2h-4zM154 594h6v2h-6zM152 596h6v2h-6zM150 598h8v2h-8zM148 600h8v2h-8zM20 602h16v2h-16zM146 602h8v2h-8zM14 604h26v2h-26zM142 604h10v2h-10zM14 606h28v2h-28zM140 606h10v2h-10zM14 608h6v2h-6zM34 608h8v2h-8zM138 608h10v2h-10zM14 610h2v2h-2zM36 610h8v2h-8zM136 610h10v2h-10zM38 612h6v2h-6zM136 612h8v2h-8zM38 614h6v2h-6zM134 614h8v2h-8zM38 616h8v2h-8zM132 616h8v2h-8zM40 618h6v2h-6zM130 618h10v2h-10zM40 620h8v2h-8zM128 620h10v2h-10zM40 622h10v2h-10zM126 622h10v2h-10zM42 624h10v2h-10zM124 624h12v2h-12zM44 626h10v2h-10zM120 626h14v2h-14zM46 628h10v2h-10zM118 628h12v2h-12zM48 630h10v2h-10zM114 630h14v2h-14zM50 632h14v2h-14zM108 632h16v2h-16zM54 634h32v2h-32zM94 634h24v2h-24zM60 636h52v2h-52zM68 638h30v2h-30z"/>
<path fill="#60e8dd" d="M180 552h2v2h-2zM178 554h4v2h-4zM178 556h6v2h-6zM178 558h6v2h-6zM176 560h8v2h-8zM176 562h8v2h-8zM174 564h8v2h-8zM174 566h8v2h-8zM172 568h8v2h-8zM172 570h8v2h-8zM170 572h8v2h-8zM170 574h6v2h-6zM168 576h8v2h-8zM168 578h6v2h-6zM166 580h6v2h-6zM166 582h6v2h-6zM164 584h6v2h-6zM164 586h6v2h-6zM162 588h6v2h-6zM162 590h6v2h-6zM160 592h6v2h-6zM160 594h6v2h-6zM158 596h6v2h-6zM158 598h6v2h-6zM156 600h6v2h-6zM154 602h8v2h-8zM152 604h8v2h-8zM150 606h10v2h-10zM20 608h14v2h-14zM148 608h10v2h-10zM16 610h20v2h-20zM146 610h12v2h-12zM16 612h22v2h-22zM144 612h12v2h-12zM16 614h22v2h-22zM142 614h14v2h-14zM16 616h22v2h-22zM140 616h16v2h-16zM18 618h22v2h-22zM140 618h14v2h-14zM18 620h22v2h-22zM138 620h14v2h-14zM20 622h20v2h-20zM136 622h16v2h-16zM22 624h20v2h-20zM136 624h14v2h-14zM24 626h20v2h-20zM134 626h14v2h-14zM28 628h18v2h-18zM130 628h16v2h-16zM28 630h20v2h-20zM128 630h18v2h-18zM30 632h20v2h-20zM124 632h20v2h-20zM32 634h22v2h-22zM118 634h22v2h-22zM34 636h26v2h-26zM112 636h24v2h-24zM36 638h32v2h-32zM98 638h32v2h-32zM38 640h86v2h-86zM42 642h72v2h-72zM50 644h36v2h-36z"/>
<path fill="#69e8be" d="M184 562h2v2h-2zM182 564h4v2h-4zM182 566h4v2h-4zM180 568h6v2h-6zM180 570h6v2h-6zM178 572h8v2h-8zM176 574h8v2h-8zM176 576h6v2h-6zM174 578h8v2h-8zM172 580h8v2h-8zM172 582h6v2h-6zM170 584h6v2h-6zM170 586h6v2h-6zM168 588h6v2h-6zM168 590h6v2h-6zM166 592h6v2h-6zM166 594h4v2h-4zM164 596h6v2h-6zM164 598h4v2h-4zM162 600h6v2h-6zM162 602h4v2h-4zM160 604h6v2h-6zM160 606h6v2h-6zM158 608h6v2h-6zM158 610h6v2h-6zM156 612h8v2h-8zM156 614h6v2h-6zM156 616h6v2h-6zM154 618h8v2h-8zM152 620h10v2h-10zM152 622h8v2h-8zM20 624h2v2h-2zM150 624h10v2h-10zM22 626h2v2h-2zM148 626h10v2h-10zM22 628h6v2h-6zM146 628h12v2h-12zM24 630h4v2h-4zM146 630h10v2h-10zM24 632h6v2h-6zM144 632h10v2h-10zM26 634h6v2h-6zM140 634h14v2h-14zM28 636h6v2h-6zM136 636h16v2h-16zM30 638h6v2h-6zM130 638h18v2h-18zM30 640h8v2h-8zM124 640h22v2h-22zM32 642h10v2h-10zM114 642h28v2h-28zM34 644h16v2h-16zM86 644h50v2h-50zM36 646h94v2h-94zM38 648h78v2h-78zM40 650h48v2h-48zM42 652h30v2h-30zM44 654h16v2h-16z"/>
<path fill="#72e89f" d="M186 572h2v2h-2zM184 574h4v2h-4zM182 576h6v2h-6zM182 578h6v2h-6zM180 580h8v2h-8zM178 582h8v2h-8zM176 584h8v2h-8zM176 586h6v2h-6zM174 588h6v2h-6zM174 590h6v2h-6zM172 592h6v2h-6zM170 594h6v2h-6zM170 596h6v2h-6zM168 598h6v2h-6zM168 600h6v2h-6zM166 602h6v2h-6zM166 604h6v2h-6zM166 606h4v2h-4zM164 608h6v2h-6zM164 610h6v2h-6zM164 612h4v2h-4zM162 614h6v2h-6zM162 616h6v2h-6zM162 618h6v2h-6zM162 620h4v2h-4zM160 622h6v2h-6zM160 624h6v2h-6zM158 626h6v2h-6zM158 628h6v2h-6zM156 630h8v2h-8zM154 632h8v2h-8zM154 634h8v2h-8zM152 636h8v2h-8zM148 638h10v2h-10zM146 640h12v2h-12zM142 642h14v2h-14zM136 644h16v2h-16zM130 646h20v2h-20zM116 648h30v2h-30zM88 650h54v2h-54zM72 652h64v2h-64zM60 654h58v2h-58zM48 656h42v2h-42zM50 658h28v2h-28zM54 660h18v2h-18zM56 662h10v2h-10z"/>
<path fill="#7ae881" d="M186 582h2v2h-2zM184 584h4v2h-4zM182 586h6v2h-6zM180 588h8v2h-8zM180 590h6v2h-6zM178 592h8v2h-8zM176 594h8v2h-8zM176 596h6v2h-6zM174 598h6v2h-6zM174 600h6v2h-6zM172 602h6v2h-6zM172 604h6v2h-6zM170 606h6v2h-6zM170 608h6v2h-6zM170 610h4v2h-4zM168 612h6v2h-6zM168 614h6v2h-6zM168 616h4v2h-4zM168 618h4v2h-4zM166 620h6v2h-6zM166 622h6v2h-6zM166 624h4v2h-4zM164 626h6v2h-6zM164 628h6v2h-6zM164 630h6v2h-6zM162 632h6v2h-6zM162 634h6v2h-6zM160 636h6v2h-6zM158 638h8v2h-8zM158 640h6v2h-6zM156 642h8v2h-8zM152 644h10v2h-10zM150 646h10v2h-10zM146 648h12v2h-12zM142 650h14v2h-14zM136 652h18v2h-18zM118 654h34v2h-34zM90 656h58v2h-58zM78 658h66v2h-66zM72 660h66v2h-66zM66 662h44v2h-44zM60 664h24v2h-24zM66 666h12v2h-12zM70 668h4v2h-4z"/>
<path fill="#8dea6c" d="M186 590h2v2h-2zM186 592h2v2h-2zM184 594h4v2h-4zM182 596h6v2h-6zM180 598h6v2h-6zM180 600h6v2h-6zM178 602h8v2h-8zM178 604h6v2h-6zM176 606h6v2h-6zM176 608h6v2h-6zM174 610h6v2h-6zM174 612h6v2h-6zM174 614h4v2h-4zM172 616h6v2h-6zM172 618h6v2h-6zM172 620h6v2h-6zM172 622h4v2h-4zM170 624h6v2h-6zM170 626h6v2h-6zM170 628h6v2h-6zM170 630h4v2h-4zM168 632h6v2h-6zM168 634h4v2h-4zM166 636h6v2h-6zM166 638h4v2h-4zM164 640h4v2h-4zM164 642h2v2h-2zM162 644h4v2h-4zM160 646h4v2h-4zM158 648h4v2h-4zM156 650h4v2h-4zM154 652h2v2h-2zM152 654h2v2h-2zM148 656h4v2h-4zM144 658h4v2h-4zM138 660h8v2h-8zM110 662h32v2h-32zM84 664h54v2h-54zM78 666h56v2h-56zM74 668h54v2h-54zM76 670h46v2h-46zM86 672h16v2h-16z"/>
<path fill="#a4ed5b" d="M184 604h2v2h-2zM182 606h4v2h-4zM182 608h2v2h-2zM180 610h4v2h-4zM180 612h4v2h-4zM178 614h4v2h-4zM178 616h4v2h-4zM178 618h4v2h-4zM178 620h2v2h-2zM176 622h4v2h-4zM176 624h2v2h-2zM176 626h2v2h-2zM174 630h2v2h-2zM102 672h10v2h-10z"/></g></g>
<path d="M76.7 506.1h1.1v1.1h-1.1zM84.3 506.1h1.1v1.1h-1.1zM91.9 506.1h1.1v1.1h-1.1zM95.7 502.2h1.1v1.1h-1.1zM99.5 506.1h1.1v1.1h-1.1zM103.3 502.2h1.1v1.1h-1.1zM107.1 506.1h1.1v1.1h-1.1zM114.7 506.1h1.1v1.1h-1.1zM122.3 506.1h1.1v1.1h-1.1zM61.5 513.7h1.1v1.1h-1.1zM65.3 509.9h1.1v1.1h-1.1zM69.1 513.7h1.1v1.1h-1.1zM72.9 509.9h1.1v1.1h-1.1zM76.7 513.7h1.1v1.1h-1.1zM80.5 509.9h1.1v1.1h-1.1zM84.3 513.7h1.1v1.1h-1.1zM88.1 509.9h1.1v1.1h-1.1zM91.9 513.7h1.1v1.1h-1.1zM95.7 509.9h1.1v1.1h-1.1zM99.5 513.7h1.1v1.1h-1.1zM103.3 509.9h1.1v1.1h-1.1zM107.1 513.7h1.1v1.1h-1.1zM110.9 509.9h1.1v1.1h-1.1zM114.7 513.7h1.1v1.1h-1.1zM118.5 509.9h1.1v1.1h-1.1zM122.3 513.7h1.1v1.1h-1.1zM126.1 509.9h1.1v1.1h-1.1zM129.9 513.7h1.1v1.1h-1.1zM133.7 509.9h1.1v1.1h-1.1zM137.5 513.7h1.1v1.1h-1.1zM53.9 521.2h1.1v1.1h-1.1zM57.7 517.5h1.1v1.1h-1.1zM61.5 521.2h1.1v1.1h-1.1zM65.3 517.5h1.1v1.1h-1.1zM69.1 521.2h1.1v1.1h-1.1zM72.9 517.5h1.1v1.1h-1.1zM76.7 521.2h1.1v1.1h-1.1zM80.5 517.5h1.1v1.1h-1.1zM84.3 521.2h1.1v1.1h-1.1zM88.1 517.5h1.1v1.1h-1.1zM91.9 521.2h1.1v1.1h-1.1zM95.7 517.5h1.1v1.1h-1.1zM99.5 521.2h1.1v1.1h-1.1zM103.3 517.5h1.1v1.1h-1.1zM107.1 521.2h1.1v1.1h-1.1zM110.9 517.5h1.1v1.1h-1.1zM114.7 521.2h1.1v1.1h-1.1zM118.5 517.5h1.1v1.1h-1.1zM122.3 521.2h1.1v1.1h-1.1zM126.1 517.5h1.1v1.1h-1.1zM129.9 521.2h1.1v1.1h-1.1zM133.7 517.5h1.1v1.1h-1.1zM137.5 521.2h1.1v1.1h-1.1zM141.3 517.5h1.1v1.1h-1.1zM145.1 521.2h1.1v1.1h-1.1zM38.7 528.9h1.1v1.1h-1.1zM42.5 525.1h1.1v1.1h-1.1zM46.3 528.9h1.1v1.1h-1.1zM50.1 525.1h1.1v1.1h-1.1zM53.9 528.9h1.1v1.1h-1.1zM57.7 525.1h1.1v1.1h-1.1zM61.5 528.9h1.1v1.1h-1.1zM65.3 525.1h1.1v1.1h-1.1zM69.1 528.9h1.1v1.1h-1.1zM72.9 525.1h1.1v1.1h-1.1zM76.7 528.9h1.1v1.1h-1.1zM80.5 525.1h1.1v1.1h-1.1zM84.3 528.9h1.1v1.1h-1.1zM88.1 525.1h1.1v1.1h-1.1zM91.9 528.9h1.1v1.1h-1.1zM95.7 525.1h1.1v1.1h-1.1zM99.5 528.9h1.1v1.1h-1.1zM103.3 525.1h1.1v1.1h-1.1zM107.1 528.9h1.1v1.1h-1.1zM110.9 525.1h1.1v1.1h-1.1zM114.7 528.9h1.1v1.1h-1.1zM118.5 525.1h1.1v1.1h-1.1zM122.3 528.9h1.1v1.1h-1.1zM126.1 525.1h1.1v1.1h-1.1zM129.9 528.9h1.1v1.1h-1.1zM133.7 525.1h1.1v1.1h-1.1zM137.5 528.9h1.1v1.1h-1.1zM141.3 525.1h1.1v1.1h-1.1zM145.1 528.9h1.1v1.1h-1.1zM148.9 525.1h1.1v1.1h-1.1zM38.7 536.5h1.1v1.1h-1.1zM42.5 532.7h1.1v1.1h-1.1zM46.3 536.5h1.1v1.1h-1.1zM50.1 532.7h1.1v1.1h-1.1zM53.9 536.5h1.1v1.1h-1.1zM57.7 532.7h1.1v1.1h-1.1zM61.5 536.5h1.1v1.1h-1.1zM65.3 532.7h1.1v1.1h-1.1zM69.1 536.5h1.1v1.1h-1.1zM72.9 532.7h1.1v1.1h-1.1zM76.7 536.5h1.1v1.1h-1.1zM80.5 532.7h1.1v1.1h-1.1zM84.3 536.5h1.1v1.1h-1.1zM88.1 532.7h1.1v1.1h-1.1zM91.9 536.5h1.1v1.1h-1.1zM95.7 532.7h1.1v1.1h-1.1zM99.5 536.5h1.1v1.1h-1.1zM103.3 532.7h1.1v1.1h-1.1zM107.1 536.5h1.1v1.1h-1.1zM110.9 532.7h1.1v1.1h-1.1zM114.7 536.5h1.1v1.1h-1.1zM118.5 532.7h1.1v1.1h-1.1zM122.3 536.5h1.1v1.1h-1.1zM126.1 532.7h1.1v1.1h-1.1zM129.9 536.5h1.1v1.1h-1.1zM133.7 532.7h1.1v1.1h-1.1zM137.5 536.5h1.1v1.1h-1.1zM141.3 532.7h1.1v1.1h-1.1zM145.1 536.5h1.1v1.1h-1.1zM148.9 532.7h1.1v1.1h-1.1zM31.1 544.1h1.1v1.1h-1.1zM34.9 540.3h1.1v1.1h-1.1zM38.7 544.1h1.1v1.1h-1.1zM42.5 540.3h1.1v1.1h-1.1zM46.3 544.1h1.1v1.1h-1.1zM50.1 540.3h1.1v1.1h-1.1zM53.9 544.1h1.1v1.1h-1.1zM57.7 540.3h1.1v1.1h-1.1zM61.5 544.1h1.1v1.1h-1.1zM65.3 540.3h1.1v1.1h-1.1zM69.1 544.1h1.1v1.1h-1.1zM72.9 540.3h1.1v1.1h-1.1zM76.7 544.1h1.1v1.1h-1.1zM80.5 540.3h1.1v1.1h-1.1zM84.3 544.1h1.1v1.1h-1.1zM88.1 540.3h1.1v1.1h-1.1zM91.9 544.1h1.1v1.1h-1.1zM95.7 540.3h1.1v1.1h-1.1zM99.5 544.1h1.1v1.1h-1.1zM103.3 540.3h1.1v1.1h-1.1zM107.1 544.1h1.1v1.1h-1.1zM110.9 540.3h1.1v1.1h-1.1zM114.7 544.1h1.1v1.1h-1.1zM118.5 540.3h1.1v1.1h-1.1zM122.3 544.1h1.1v1.1h-1.1zM126.1 540.3h1.1v1.1h-1.1zM129.9 544.1h1.1v1.1h-1.1zM133.7 540.3h1.1v1.1h-1.1zM137.5 544.1h1.1v1.1h-1.1zM141.3 540.3h1.1v1.1h-1.1zM145.1 544.1h1.1v1.1h-1.1zM148.9 540.3h1.1v1.1h-1.1zM27.3 547.9h1.1v1.1h-1.1zM31.1 551.6h1.1v1.1h-1.1zM34.9 547.9h1.1v1.1h-1.1zM38.7 551.6h1.1v1.1h-1.1zM42.5 547.9h1.1v1.1h-1.1zM46.3 551.6h1.1v1.1h-1.1zM50.1 547.9h1.1v1.1h-1.1zM53.9 551.6h1.1v1.1h-1.1zM57.7 547.9h1.1v1.1h-1.1zM61.5 551.6h1.1v1.1h-1.1zM65.3 547.9h1.1v1.1h-1.1zM69.1 551.6h1.1v1.1h-1.1zM72.9 547.9h1.1v1.1h-1.1zM76.7 551.6h1.1v1.1h-1.1zM80.5 547.9h1.1v1.1h-1.1zM84.3 551.6h1.1v1.1h-1.1zM88.1 547.9h1.1v1.1h-1.1zM91.9 551.6h1.1v1.1h-1.1zM95.7 547.9h1.1v1.1h-1.1zM99.5 551.6h1.1v1.1h-1.1zM103.3 547.9h1.1v1.1h-1.1zM107.1 551.6h1.1v1.1h-1.1zM110.9 547.9h1.1v1.1h-1.1zM114.7 551.6h1.1v1.1h-1.1zM118.5 547.9h1.1v1.1h-1.1zM122.3 551.6h1.1v1.1h-1.1zM126.1 547.9h1.1v1.1h-1.1zM129.9 551.6h1.1v1.1h-1.1zM133.7 547.9h1.1v1.1h-1.1zM137.5 551.6h1.1v1.1h-1.1zM141.3 547.9h1.1v1.1h-1.1zM145.1 551.6h1.1v1.1h-1.1zM23.5 559.2h1.1v1.1h-1.1zM27.3 555.5h1.1v1.1h-1.1zM31.1 559.2h1.1v1.1h-1.1zM34.9 555.5h1.1v1.1h-1.1zM38.7 559.2h1.1v1.1h-1.1zM42.5 555.5h1.1v1.1h-1.1zM46.3 559.2h1.1v1.1h-1.1zM50.1 555.5h1.1v1.1h-1.1zM53.9 559.2h1.1v1.1h-1.1zM57.7 555.5h1.1v1.1h-1.1zM61.5 559.2h1.1v1.1h-1.1zM65.3 555.5h1.1v1.1h-1.1zM69.1 559.2h1.1v1.1h-1.1zM72.9 555.5h1.1v1.1h-1.1zM76.7 559.2h1.1v1.1h-1.1zM80.5 555.5h1.1v1.1h-1.1zM84.3 559.2h1.1v1.1h-1.1zM88.1 555.5h1.1v1.1h-1.1zM91.9 559.2h1.1v1.1h-1.1zM95.7 555.5h1.1v1.1h-1.1zM99.5 559.2h1.1v1.1h-1.1zM103.3 555.5h1.1v1.1h-1.1zM107.1 559.2h1.1v1.1h-1.1zM110.9 555.5h1.1v1.1h-1.1zM114.7 559.2h1.1v1.1h-1.1zM118.5 555.5h1.1v1.1h-1.1zM122.3 559.2h1.1v1.1h-1.1zM126.1 555.5h1.1v1.1h-1.1zM129.9 559.2h1.1v1.1h-1.1zM133.7 555.5h1.1v1.1h-1.1zM137.5 559.2h1.1v1.1h-1.1zM141.3 555.5h1.1v1.1h-1.1zM145.1 559.2h1.1v1.1h-1.1zM23.5 566.9h1.1v1.1h-1.1zM27.3 563.1h1.1v1.1h-1.1zM31.1 566.9h1.1v1.1h-1.1zM34.9 563.1h1.1v1.1h-1.1zM38.7 566.9h1.1v1.1h-1.1zM42.5 563.1h1.1v1.1h-1.1zM46.3 566.9h1.1v1.1h-1.1zM50.1 563.1h1.1v1.1h-1.1zM53.9 566.9h1.1v1.1h-1.1zM57.7 563.1h1.1v1.1h-1.1zM61.5 566.9h1.1v1.1h-1.1zM65.3 563.1h1.1v1.1h-1.1zM69.1 566.9h1.1v1.1h-1.1zM72.9 563.1h1.1v1.1h-1.1zM76.7 566.9h1.1v1.1h-1.1zM80.5 563.1h1.1v1.1h-1.1zM84.3 566.9h1.1v1.1h-1.1zM88.1 563.1h1.1v1.1h-1.1zM91.9 566.9h1.1v1.1h-1.1zM95.7 563.1h1.1v1.1h-1.1zM99.5 566.9h1.1v1.1h-1.1zM103.3 563.1h1.1v1.1h-1.1zM107.1 566.9h1.1v1.1h-1.1zM110.9 563.1h1.1v1.1h-1.1zM114.7 566.9h1.1v1.1h-1.1zM118.5 563.1h1.1v1.1h-1.1zM122.3 566.9h1.1v1.1h-1.1zM126.1 563.1h1.1v1.1h-1.1zM129.9 566.9h1.1v1.1h-1.1zM133.7 563.1h1.1v1.1h-1.1zM137.5 566.9h1.1v1.1h-1.1zM141.3 563.1h1.1v1.1h-1.1zM145.1 566.9h1.1v1.1h-1.1zM19.7 570.7h1.1v1.1h-1.1zM23.5 574.5h1.1v1.1h-1.1zM27.3 570.7h1.1v1.1h-1.1zM31.1 574.5h1.1v1.1h-1.1zM34.9 570.7h1.1v1.1h-1.1zM38.7 574.5h1.1v1.1h-1.1zM42.5 570.7h1.1v1.1h-1.1zM46.3 574.5h1.1v1.1h-1.1zM50.1 570.7h1.1v1.1h-1.1zM53.9 574.5h1.1v1.1h-1.1zM57.7 570.7h1.1v1.1h-1.1zM61.5 574.5h1.1v1.1h-1.1zM65.3 570.7h1.1v1.1h-1.1zM69.1 574.5h1.1v1.1h-1.1zM72.9 570.7h1.1v1.1h-1.1zM76.7 574.5h1.1v1.1h-1.1zM80.5 570.7h1.1v1.1h-1.1zM84.3 574.5h1.1v1.1h-1.1zM88.1 570.7h1.1v1.1h-1.1zM91.9 574.5h1.1v1.1h-1.1zM95.7 570.7h1.1v1.1h-1.1zM99.5 574.5h1.1v1.1h-1.1zM103.3 570.7h1.1v1.1h-1.1zM107.1 574.5h1.1v1.1h-1.1zM110.9 570.7h1.1v1.1h-1.1zM114.7 574.5h1.1v1.1h-1.1zM118.5 570.7h1.1v1.1h-1.1zM122.3 574.5h1.1v1.1h-1.1zM126.1 570.7h1.1v1.1h-1.1zM129.9 574.5h1.1v1.1h-1.1zM133.7 570.7h1.1v1.1h-1.1zM137.5 574.5h1.1v1.1h-1.1zM141.3 570.7h1.1v1.1h-1.1zM145.1 574.5h1.1v1.1h-1.1zM19.7 578.3h1.1v1.1h-1.1zM23.5 582.1h1.1v1.1h-1.1zM27.3 578.3h1.1v1.1h-1.1zM31.1 582.1h1.1v1.1h-1.1zM34.9 578.3h1.1v1.1h-1.1zM38.7 582.1h1.1v1.1h-1.1zM42.5 578.3h1.1v1.1h-1.1zM46.3 582.1h1.1v1.1h-1.1zM50.1 578.3h1.1v1.1h-1.1zM53.9 582.1h1.1v1.1h-1.1zM57.7 578.3h1.1v1.1h-1.1zM61.5 582.1h1.1v1.1h-1.1zM65.3 578.3h1.1v1.1h-1.1zM69.1 582.1h1.1v1.1h-1.1zM72.9 578.3h1.1v1.1h-1.1zM76.7 582.1h1.1v1.1h-1.1zM80.5 578.3h1.1v1.1h-1.1zM84.3 582.1h1.1v1.1h-1.1zM88.1 578.3h1.1v1.1h-1.1zM91.9 582.1h1.1v1.1h-1.1zM95.7 578.3h1.1v1.1h-1.1zM99.5 582.1h1.1v1.1h-1.1zM103.3 578.3h1.1v1.1h-1.1zM107.1 582.1h1.1v1.1h-1.1zM110.9 578.3h1.1v1.1h-1.1zM114.7 582.1h1.1v1.1h-1.1zM118.5 578.3h1.1v1.1h-1.1zM122.3 582.1h1.1v1.1h-1.1zM126.1 578.3h1.1v1.1h-1.1zM129.9 582.1h1.1v1.1h-1.1zM133.7 578.3h1.1v1.1h-1.1zM137.5 582.1h1.1v1.1h-1.1zM141.3 578.3h1.1v1.1h-1.1zM145.1 582.1h1.1v1.1h-1.1zM19.7 585.9h1.1v1.1h-1.1zM23.5 589.6h1.1v1.1h-1.1zM27.3 585.9h1.1v1.1h-1.1zM31.1 589.6h1.1v1.1h-1.1zM34.9 585.9h1.1v1.1h-1.1zM38.7 589.6h1.1v1.1h-1.1zM42.5 585.9h1.1v1.1h-1.1zM46.3 589.6h1.1v1.1h-1.1zM50.1 585.9h1.1v1.1h-1.1zM53.9 589.6h1.1v1.1h-1.1zM57.7 585.9h1.1v1.1h-1.1zM61.5 589.6h1.1v1.1h-1.1zM65.3 585.9h1.1v1.1h-1.1zM69.1 589.6h1.1v1.1h-1.1zM72.9 585.9h1.1v1.1h-1.1zM76.7 589.6h1.1v1.1h-1.1zM80.5 585.9h1.1v1.1h-1.1zM84.3 589.6h1.1v1.1h-1.1zM88.1 585.9h1.1v1.1h-1.1zM91.9 589.6h1.1v1.1h-1.1zM95.7 585.9h1.1v1.1h-1.1zM99.5 589.6h1.1v1.1h-1.1zM103.3 585.9h1.1v1.1h-1.1zM107.1 589.6h1.1v1.1h-1.1zM110.9 585.9h1.1v1.1h-1.1zM114.7 589.6h1.1v1.1h-1.1zM118.5 585.9h1.1v1.1h-1.1zM122.3 589.6h1.1v1.1h-1.1zM126.1 585.9h1.1v1.1h-1.1zM129.9 589.6h1.1v1.1h-1.1zM133.7 585.9h1.1v1.1h-1.1zM137.5 589.6h1.1v1.1h-1.1zM141.3 585.9h1.1v1.1h-1.1zM42.5 593.5h1.1v1.1h-1.1zM50.1 593.5h1.1v1.1h-1.1zM53.9 597.2h1.1v1.1h-1.1zM57.7 593.5h1.1v1.1h-1.1zM61.5 597.2h1.1v1.1h-1.1zM65.3 593.5h1.1v1.1h-1.1zM69.1 597.2h1.1v1.1h-1.1zM72.9 593.5h1.1v1.1h-1.1zM76.7 597.2h1.1v1.1h-1.1zM80.5 593.5h1.1v1.1h-1.1zM84.3 597.2h1.1v1.1h-1.1zM88.1 593.5h1.1v1.1h-1.1zM91.9 597.2h1.1v1.1h-1.1zM95.7 593.5h1.1v1.1h-1.1zM99.5 597.2h1.1v1.1h-1.1zM103.3 593.5h1.1v1.1h-1.1zM107.1 597.2h1.1v1.1h-1.1zM110.9 593.5h1.1v1.1h-1.1zM114.7 597.2h1.1v1.1h-1.1zM118.5 593.5h1.1v1.1h-1.1zM122.3 597.2h1.1v1.1h-1.1zM126.1 593.5h1.1v1.1h-1.1zM129.9 597.2h1.1v1.1h-1.1zM133.7 593.5h1.1v1.1h-1.1zM50.1 601.1h1.1v1.1h-1.1zM53.9 604.9h1.1v1.1h-1.1zM57.7 601.1h1.1v1.1h-1.1zM61.5 604.9h1.1v1.1h-1.1zM65.3 601.1h1.1v1.1h-1.1zM69.1 604.9h1.1v1.1h-1.1zM72.9 601.1h1.1v1.1h-1.1zM76.7 604.9h1.1v1.1h-1.1zM80.5 601.1h1.1v1.1h-1.1zM84.3 604.9h1.1v1.1h-1.1zM88.1 601.1h1.1v1.1h-1.1zM91.9 604.9h1.1v1.1h-1.1zM95.7 601.1h1.1v1.1h-1.1zM99.5 604.9h1.1v1.1h-1.1zM103.3 601.1h1.1v1.1h-1.1zM107.1 604.9h1.1v1.1h-1.1zM110.9 601.1h1.1v1.1h-1.1zM114.7 604.9h1.1v1.1h-1.1zM118.5 601.1h1.1v1.1h-1.1zM122.3 604.9h1.1v1.1h-1.1zM126.1 601.1h1.1v1.1h-1.1zM57.7 608.7h1.1v1.1h-1.1zM61.5 612.5h1.1v1.1h-1.1zM65.3 608.7h1.1v1.1h-1.1zM69.1 612.5h1.1v1.1h-1.1zM72.9 608.7h1.1v1.1h-1.1zM76.7 612.5h1.1v1.1h-1.1zM80.5 608.7h1.1v1.1h-1.1zM84.3 612.5h1.1v1.1h-1.1zM88.1 608.7h1.1v1.1h-1.1zM91.9 612.5h1.1v1.1h-1.1zM95.7 608.7h1.1v1.1h-1.1zM99.5 612.5h1.1v1.1h-1.1zM103.3 608.7h1.1v1.1h-1.1zM107.1 612.5h1.1v1.1h-1.1zM110.9 608.7h1.1v1.1h-1.1zM114.7 612.5h1.1v1.1h-1.1zM118.5 608.7h1.1v1.1h-1.1zM65.3 616.2h1.1v1.1h-1.1zM69.1 620.0h1.1v1.1h-1.1zM72.9 616.2h1.1v1.1h-1.1zM76.7 620.0h1.1v1.1h-1.1zM80.5 616.2h1.1v1.1h-1.1zM84.3 620.0h1.1v1.1h-1.1zM88.1 616.2h1.1v1.1h-1.1zM91.9 620.0h1.1v1.1h-1.1zM95.7 616.2h1.1v1.1h-1.1zM99.5 620.0h1.1v1.1h-1.1zM103.3 616.2h1.1v1.1h-1.1zM107.1 620.0h1.1v1.1h-1.1zM110.9 616.2h1.1v1.1h-1.1zM80.5 623.9h1.1v1.1h-1.1zM88.1 623.9h1.1v1.1h-1.1zM95.7 623.9h1.1v1.1h-1.1z" fill="#fff" fill-opacity="0.25"/>
<path d="M152.8 528.9h1.1v1.1h-1.1zM152.8 536.5h1.1v1.1h-1.1zM156.5 532.7h1.1v1.1h-1.1zM160.3 536.5h1.1v1.1h-1.1zM152.8 544.1h1.1v1.1h-1.1zM156.5 540.3h1.1v1.1h-1.1zM160.3 544.1h1.1v1.1h-1.1zM164.1 540.3h1.1v1.1h-1.1zM167.9 544.1h1.1v1.1h-1.1zM148.9 547.9h1.1v1.1h-1.1zM152.8 551.6h1.1v1.1h-1.1zM156.5 547.9h1.1v1.1h-1.1zM160.3 551.6h1.1v1.1h-1.1zM164.1 547.9h1.1v1.1h-1.1zM167.9 551.6h1.1v1.1h-1.1zM171.7 547.9h1.1v1.1h-1.1zM148.9 555.5h1.1v1.1h-1.1zM152.8 559.2h1.1v1.1h-1.1zM156.5 555.5h1.1v1.1h-1.1zM160.3 559.2h1.1v1.1h-1.1zM164.1 555.5h1.1v1.1h-1.1zM167.9 559.2h1.1v1.1h-1.1zM171.7 555.5h1.1v1.1h-1.1zM175.5 559.2h1.1v1.1h-1.1zM148.9 563.1h1.1v1.1h-1.1zM152.8 566.9h1.1v1.1h-1.1zM156.5 563.1h1.1v1.1h-1.1zM160.3 566.9h1.1v1.1h-1.1zM164.1 563.1h1.1v1.1h-1.1zM167.9 566.9h1.1v1.1h-1.1zM171.7 563.1h1.1v1.1h-1.1zM175.5 566.9h1.1v1.1h-1.1zM148.9 570.7h1.1v1.1h-1.1zM152.8 574.5h1.1v1.1h-1.1zM156.5 570.7h1.1v1.1h-1.1zM160.3 574.5h1.1v1.1h-1.1zM164.1 570.7h1.1v1.1h-1.1zM167.9 574.5h1.1v1.1h-1.1zM171.7 570.7h1.1v1.1h-1.1zM175.5 574.5h1.1v1.1h-1.1zM148.9 578.3h1.1v1.1h-1.1zM152.8 582.1h1.1v1.1h-1.1zM156.5 578.3h1.1v1.1h-1.1zM160.3 582.1h1.1v1.1h-1.1zM164.1 578.3h1.1v1.1h-1.1zM167.9 582.1h1.1v1.1h-1.1zM171.7 578.3h1.1v1.1h-1.1zM175.5 582.1h1.1v1.1h-1.1zM179.3 578.3h1.1v1.1h-1.1zM145.1 589.6h1.1v1.1h-1.1zM148.9 585.9h1.1v1.1h-1.1zM152.8 589.6h1.1v1.1h-1.1zM156.5 585.9h1.1v1.1h-1.1zM160.3 589.6h1.1v1.1h-1.1zM164.1 585.9h1.1v1.1h-1.1zM167.9 589.6h1.1v1.1h-1.1zM171.7 585.9h1.1v1.1h-1.1zM175.5 589.6h1.1v1.1h-1.1zM179.3 585.9h1.1v1.1h-1.1zM19.7 593.5h1.1v1.1h-1.1zM23.5 597.2h1.1v1.1h-1.1zM27.3 593.5h1.1v1.1h-1.1zM31.1 597.2h1.1v1.1h-1.1zM34.9 593.5h1.1v1.1h-1.1zM38.7 597.2h1.1v1.1h-1.1zM46.3 597.2h1.1v1.1h-1.1zM137.5 597.2h1.1v1.1h-1.1zM141.3 593.5h1.1v1.1h-1.1zM145.1 597.2h1.1v1.1h-1.1zM148.9 593.5h1.1v1.1h-1.1zM152.8 597.2h1.1v1.1h-1.1zM156.5 593.5h1.1v1.1h-1.1zM160.3 597.2h1.1v1.1h-1.1zM164.1 593.5h1.1v1.1h-1.1zM167.9 597.2h1.1v1.1h-1.1zM171.7 593.5h1.1v1.1h-1.1zM175.5 597.2h1.1v1.1h-1.1zM23.5 604.9h1.1v1.1h-1.1zM27.3 601.1h1.1v1.1h-1.1zM31.1 604.9h1.1v1.1h-1.1zM34.9 601.1h1.1v1.1h-1.1zM38.7 604.9h1.1v1.1h-1.1zM42.5 601.1h1.1v1.1h-1.1zM46.3 604.9h1.1v1.1h-1.1zM129.9 604.9h1.1v1.1h-1.1zM133.7 601.1h1.1v1.1h-1.1zM137.5 604.9h1.1v1.1h-1.1zM141.3 601.1h1.1v1.1h-1.1zM145.1 604.9h1.1v1.1h-1.1zM148.9 601.1h1.1v1.1h-1.1zM152.8 604.9h1.1v1.1h-1.1zM156.5 601.1h1.1v1.1h-1.1zM160.3 604.9h1.1v1.1h-1.1zM164.1 601.1h1.1v1.1h-1.1zM167.9 604.9h1.1v1.1h-1.1zM171.7 601.1h1.1v1.1h-1.1zM175.5 604.9h1.1v1.1h-1.1zM23.5 612.5h1.1v1.1h-1.1zM27.3 608.7h1.1v1.1h-1.1zM31.1 612.5h1.1v1.1h-1.1zM34.9 608.7h1.1v1.1h-1.1zM38.7 612.5h1.1v1.1h-1.1zM42.5 608.7h1.1v1.1h-1.1zM46.3 612.5h1.1v1.1h-1.1zM50.1 608.7h1.1v1.1h-1.1zM53.9 612.5h1.1v1.1h-1.1zM122.3 612.5h1.1v1.1h-1.1zM126.1 608.7h1.1v1.1h-1.1zM129.9 612.5h1.1v1.1h-1.1zM133.7 608.7h1.1v1.1h-1.1zM137.5 612.5h1.1v1.1h-1.1zM141.3 608.7h1.1v1.1h-1.1zM145.1 612.5h1.1v1.1h-1.1zM148.9 608.7h1.1v1.1h-1.1zM152.8 612.5h1.1v1.1h-1.1zM156.5 608.7h1.1v1.1h-1.1zM160.3 612.5h1.1v1.1h-1.1zM164.1 608.7h1.1v1.1h-1.1zM167.9 612.5h1.1v1.1h-1.1zM171.7 608.7h1.1v1.1h-1.1zM27.3 616.2h1.1v1.1h-1.1zM31.1 620.0h1.1v1.1h-1.1zM34.9 616.2h1.1v1.1h-1.1zM38.7 620.0h1.1v1.1h-1.1zM42.5 616.2h1.1v1.1h-1.1zM46.3 620.0h1.1v1.1h-1.1zM50.1 616.2h1.1v1.1h-1.1zM53.9 620.0h1.1v1.1h-1.1zM57.7 616.2h1.1v1.1h-1.1zM61.5 620.0h1.1v1.1h-1.1zM114.7 620.0h1.1v1.1h-1.1zM118.5 616.2h1.1v1.1h-1.1zM122.3 620.0h1.1v1.1h-1.1zM126.1 616.2h1.1v1.1h-1.1zM129.9 620.0h1.1v1.1h-1.1zM133.7 616.2h1.1v1.1h-1.1zM137.5 620.0h1.1v1.1h-1.1zM141.3 616.2h1.1v1.1h-1.1zM145.1 620.0h1.1v1.1h-1.1zM148.9 616.2h1.1v1.1h-1.1zM152.8 620.0h1.1v1.1h-1.1zM156.5 616.2h1.1v1.1h-1.1zM160.3 620.0h1.1v1.1h-1.1zM164.1 616.2h1.1v1.1h-1.1zM167.9 620.0h1.1v1.1h-1.1zM171.7 616.2h1.1v1.1h-1.1zM34.9 623.9h1.1v1.1h-1.1zM38.7 627.6h1.1v1.1h-1.1zM42.5 623.9h1.1v1.1h-1.1zM46.3 627.6h1.1v1.1h-1.1zM50.1 623.9h1.1v1.1h-1.1zM53.9 627.6h1.1v1.1h-1.1zM57.7 623.9h1.1v1.1h-1.1zM61.5 627.6h1.1v1.1h-1.1zM65.3 623.9h1.1v1.1h-1.1zM69.1 627.6h1.1v1.1h-1.1zM72.9 623.9h1.1v1.1h-1.1zM76.7 627.6h1.1v1.1h-1.1zM84.3 627.6h1.1v1.1h-1.1zM91.9 627.6h1.1v1.1h-1.1zM99.5 627.6h1.1v1.1h-1.1zM103.3 623.9h1.1v1.1h-1.1zM107.1 627.6h1.1v1.1h-1.1zM110.9 623.9h1.1v1.1h-1.1zM114.7 627.6h1.1v1.1h-1.1zM118.5 623.9h1.1v1.1h-1.1zM122.3 627.6h1.1v1.1h-1.1zM126.1 623.9h1.1v1.1h-1.1zM129.9 627.6h1.1v1.1h-1.1zM133.7 623.9h1.1v1.1h-1.1zM137.5 627.6h1.1v1.1h-1.1zM141.3 623.9h1.1v1.1h-1.1zM145.1 627.6h1.1v1.1h-1.1zM148.9 623.9h1.1v1.1h-1.1zM152.8 627.6h1.1v1.1h-1.1zM156.5 623.9h1.1v1.1h-1.1zM160.3 627.6h1.1v1.1h-1.1zM164.1 623.9h1.1v1.1h-1.1zM34.9 631.5h1.1v1.1h-1.1zM38.7 635.2h1.1v1.1h-1.1zM42.5 631.5h1.1v1.1h-1.1zM46.3 635.2h1.1v1.1h-1.1zM50.1 631.5h1.1v1.1h-1.1zM53.9 635.2h1.1v1.1h-1.1zM57.7 631.5h1.1v1.1h-1.1zM61.5 635.2h1.1v1.1h-1.1zM65.3 631.5h1.1v1.1h-1.1zM69.1 635.2h1.1v1.1h-1.1zM72.9 631.5h1.1v1.1h-1.1zM76.7 635.2h1.1v1.1h-1.1zM80.5 631.5h1.1v1.1h-1.1zM84.3 635.2h1.1v1.1h-1.1zM88.1 631.5h1.1v1.1h-1.1zM91.9 635.2h1.1v1.1h-1.1zM95.7 631.5h1.1v1.1h-1.1zM99.5 635.2h1.1v1.1h-1.1zM103.3 631.5h1.1v1.1h-1.1zM107.1 635.2h1.1v1.1h-1.1zM110.9 631.5h1.1v1.1h-1.1zM114.7 635.2h1.1v1.1h-1.1zM118.5 631.5h1.1v1.1h-1.1zM122.3 635.2h1.1v1.1h-1.1zM126.1 631.5h1.1v1.1h-1.1zM129.9 635.2h1.1v1.1h-1.1zM133.7 631.5h1.1v1.1h-1.1zM137.5 635.2h1.1v1.1h-1.1zM141.3 631.5h1.1v1.1h-1.1zM145.1 635.2h1.1v1.1h-1.1zM148.9 631.5h1.1v1.1h-1.1zM152.8 635.2h1.1v1.1h-1.1zM156.5 631.5h1.1v1.1h-1.1zM160.3 635.2h1.1v1.1h-1.1zM42.5 639.1h1.1v1.1h-1.1zM46.3 642.9h1.1v1.1h-1.1zM50.1 639.1h1.1v1.1h-1.1zM53.9 642.9h1.1v1.1h-1.1zM57.7 639.1h1.1v1.1h-1.1zM61.5 642.9h1.1v1.1h-1.1zM65.3 639.1h1.1v1.1h-1.1zM69.1 642.9h1.1v1.1h-1.1zM72.9 639.1h1.1v1.1h-1.1zM76.7 642.9h1.1v1.1h-1.1zM80.5 639.1h1.1v1.1h-1.1zM84.3 642.9h1.1v1.1h-1.1zM88.1 639.1h1.1v1.1h-1.1zM91.9 642.9h1.1v1.1h-1.1zM95.7 639.1h1.1v1.1h-1.1zM99.5 642.9h1.1v1.1h-1.1zM103.3 639.1h1.1v1.1h-1.1zM107.1 642.9h1.1v1.1h-1.1zM110.9 639.1h1.1v1.1h-1.1zM114.7 642.9h1.1v1.1h-1.1zM118.5 639.1h1.1v1.1h-1.1zM122.3 642.9h1.1v1.1h-1.1zM126.1 639.1h1.1v1.1h-1.1zM129.9 642.9h1.1v1.1h-1.1zM133.7 639.1h1.1v1.1h-1.1zM137.5 642.9h1.1v1.1h-1.1zM141.3 639.1h1.1v1.1h-1.1zM145.1 642.9h1.1v1.1h-1.1zM148.9 639.1h1.1v1.1h-1.1zM152.8 642.9h1.1v1.1h-1.1zM156.5 639.1h1.1v1.1h-1.1zM50.1 646.7h1.1v1.1h-1.1zM57.7 646.7h1.1v1.1h-1.1zM61.5 650.5h1.1v1.1h-1.1zM65.3 646.7h1.1v1.1h-1.1zM69.1 650.5h1.1v1.1h-1.1zM72.9 646.7h1.1v1.1h-1.1zM76.7 650.5h1.1v1.1h-1.1zM80.5 646.7h1.1v1.1h-1.1zM84.3 650.5h1.1v1.1h-1.1zM88.1 646.7h1.1v1.1h-1.1zM91.9 650.5h1.1v1.1h-1.1zM95.7 646.7h1.1v1.1h-1.1zM99.5 650.5h1.1v1.1h-1.1zM103.3 646.7h1.1v1.1h-1.1zM107.1 650.5h1.1v1.1h-1.1zM110.9 646.7h1.1v1.1h-1.1zM114.7 650.5h1.1v1.1h-1.1zM118.5 646.7h1.1v1.1h-1.1zM122.3 650.5h1.1v1.1h-1.1zM126.1 646.7h1.1v1.1h-1.1zM129.9 650.5h1.1v1.1h-1.1zM133.7 646.7h1.1v1.1h-1.1zM137.5 650.5h1.1v1.1h-1.1zM141.3 646.7h1.1v1.1h-1.1zM148.9 646.7h1.1v1.1h-1.1zM65.3 654.2h1.1v1.1h-1.1zM69.1 658.0h1.1v1.1h-1.1zM72.9 654.2h1.1v1.1h-1.1zM76.7 658.0h1.1v1.1h-1.1zM80.5 654.2h1.1v1.1h-1.1zM84.3 658.0h1.1v1.1h-1.1zM88.1 654.2h1.1v1.1h-1.1zM91.9 658.0h1.1v1.1h-1.1zM95.7 654.2h1.1v1.1h-1.1zM99.5 658.0h1.1v1.1h-1.1zM103.3 654.2h1.1v1.1h-1.1zM107.1 658.0h1.1v1.1h-1.1zM110.9 654.2h1.1v1.1h-1.1zM114.7 658.0h1.1v1.1h-1.1zM118.5 654.2h1.1v1.1h-1.1zM122.3 658.0h1.1v1.1h-1.1zM126.1 654.2h1.1v1.1h-1.1zM133.7 654.2h1.1v1.1h-1.1zM88.1 661.9h1.1v1.1h-1.1zM95.7 661.9h1.1v1.1h-1.1zM103.3 661.9h1.1v1.1h-1.1zM110.9 661.9h1.1v1.1h-1.1z" fill="#000" fill-opacity="0.18"/>
<path d="M121.5,557.9 120.1,559.3 118.8,562.1 117.4,563.5 117.4,566.3 117.4,569.2 117.4,572.0 117.4,574.8 118.8,576.3 120.1,579.0 122.9,579.0 125.7,577.7 127.1,576.3 127.1,573.4 128.5,572.0 128.5,569.2 128.5,566.3 127.1,564.9 127.1,562.1 125.7,560.6 124.3,559.2 121.5,557.9M78.2,505.3 77.5,506.7 76.1,508.6 74.7,510.9 74.2,512.4 73.2,514.0 72.2,516.6 71.7,518.0 70.4,520.9 69.9,522.3 69.0,524.9 68.4,526.6 67.5,528.0 66.1,530.8 65.3,532.2 64.2,533.7 63.3,535.1 61.9,536.7 60.4,538.7 59.0,540.3 57.6,542.0 56.2,543.6 55.2,545.0 54.2,546.4 52.9,547.9 51.7,549.3 50.4,550.7 48.7,552.1 47.1,553.5 44.8,555.0 43.4,555.9 42.0,556.6 40.1,557.8 37.8,559.2 36.3,560.6 34.9,562.1 33.8,563.5 33.1,564.9 32.0,567.7 32.0,569.2 32.0,570.6 33.3,573.4 34.4,574.8 35.8,576.3 37.7,577.7 39.1,578.5 40.6,579.4 42.8,580.5 44.8,581.7 46.2,582.5 47.7,583.4 49.9,584.8 51.7,586.2 53.3,587.6 54.8,589.0 56.2,590.5 57.6,591.9 58.9,593.3 60.1,594.7 61.0,596.2 61.9,597.6 63.3,599.6 64.7,601.8 65.7,603.3 66.8,604.7 68.2,606.1 69.9,607.5 71.8,608.9 73.2,609.7 74.6,610.4 77.5,611.3 79.1,611.8 81.7,612.2 84.6,612.5 87.4,612.6 90.3,612.5 93.1,612.3 95.9,611.8 97.4,611.4 100.2,610.6 101.6,609.9 103.6,608.9 105.9,607.7 107.3,606.8 108.7,605.8 110.5,604.7 112.6,603.3 114.4,601.9 115.8,600.8 117.3,599.3 118.7,597.8 120.1,596.2 121.5,594.7 122.9,593.4 124.4,592.2 125.8,591.1 127.2,589.8 128.6,588.6 130.0,587.2 131.5,585.6 132.9,583.7 133.8,581.9 134.3,580.5 135.0,577.7 135.3,574.8 135.2,572.0 134.9,569.2 134.9,566.3 134.9,563.5 134.9,560.6 134.8,557.8 134.3,555.0 134.0,553.5 133.2,550.7 132.9,549.3 132.1,546.4 131.5,543.6 131.2,542.2 130.8,539.3 130.6,536.5 130.5,533.7 130.5,530.8 130.4,528.0 130.0,525.1 129.6,523.7 128.9,520.9 128.6,519.5 127.6,516.6 127.2,515.2 126.4,512.4 125.8,509.7 125.0,508.1 124.5,506.7M93.1,556.2 95.9,555.1 98.8,555.0 101.6,555.4 103.4,556.4 105.3,557.8 106.4,559.2 107.3,560.9 108.2,563.5 108.7,566.3 108.8,567.7 108.7,569.2 108.0,572.0 107.3,573.4 105.9,575.7 104.5,577.0 103.1,577.8 100.2,578.8 97.4,578.8 94.5,578.3 93.1,577.6 91.1,576.3 89.7,574.8 88.8,573.4 87.6,570.6 87.4,569.2 87.2,566.3 87.4,564.9 88.0,562.1 88.8,560.5 90.3,558.3 91.7,556.9 93.1,556.2M36.0,531.1 35.5,533.7 34.9,535.7 33.7,537.9 32.6,539.3 31.1,540.8 29.2,542.1 27.8,543.0M16.4,586.3 19.3,586.8 22.1,587.1 24.9,587.2 27.8,587.3 30.6,587.6 32.0,587.8 34.9,588.3 37.7,589.0 39.1,589.4 42.0,590.5 43.4,591.2 44.8,592.0 46.7,593.3 48.3,594.7 49.7,596.2 50.9,597.6 51.9,599.1 53.3,601.3 54.4,603.3 55.2,604.7 56.2,606.6 57.5,608.9 58.4,610.4 59.4,611.8 60.5,613.2 61.9,614.7 63.5,616.0 65.8,617.5 67.5,618.3 69.0,618.9 71.8,619.7 74.3,620.3 76.1,620.6 78.9,621.0 81.7,621.2 84.6,621.4 87.4,621.5 90.3,621.5 93.1,621.3 95.9,621.1 98.8,620.5 100.2,620.0 103.1,619.0 104.5,618.3 106.2,617.5 108.6,616.0 110.2,615.1 111.6,614.0 113.0,613.0 114.9,611.8 117.1,610.4 118.7,609.4 120.1,608.4 121.5,607.4 123.1,606.1 124.5,604.7 125.8,603.3 127.2,601.7 128.6,600.1 130.0,598.6 131.5,597.2 132.9,595.8 134.3,594.4 135.7,593.1 137.1,591.6 138.6,590.0 140.0,588.1 141.0,586.2 141.8,584.8 142.8,581.9 143.1,580.5 143.6,577.7 143.7,574.8 143.7,572.0 143.6,569.2 143.6,566.3 143.8,563.5 143.9,560.6 144.1,557.8 144.2,555.9 144.3,553.5 144.4,550.7 144.5,547.9 144.6,545.0 144.8,542.2 144.9,539.3 145.2,536.5 145.3,533.7 145.4,530.8 145.3,528.0 144.9,525.1 144.4,522.3 144.0,520.9 143.3,518.0 142.8,516.6 141.8,513.8M16.4,596.2 17.8,596.1 20.7,596.0 23.5,595.7 26.4,595.6 29.2,595.5 32.0,595.6 34.9,595.7 37.1,596.2 39.1,596.7 40.9,597.6 43.0,599.0 44.5,600.4 45.7,601.8 46.6,603.3 47.7,605.0 48.9,607.5 49.6,608.9 50.5,610.7 51.7,613.2 52.5,614.6 53.4,616.0 54.8,618.1 56.2,620.0 57.6,621.5 59.0,622.9 60.4,624.0 61.9,624.8 64.4,626.0 66.1,626.5 69.0,627.2 70.4,627.4 73.2,627.8 76.1,628.0 78.9,628.2 81.7,628.3 84.6,628.5 87.4,628.7 90.3,628.7 93.1,628.6 95.9,628.3 98.8,627.9 101.6,627.5 103.1,627.1 105.9,626.2 107.3,625.6 109.4,624.6 111.6,623.3 113.0,622.4 114.4,621.3 115.8,620.1 117.3,618.8 118.8,617.5 120.5,616.0 122.6,614.6 124.4,613.5 125.8,612.5 127.2,611.3 128.6,610.0 130.0,608.5 131.5,606.8 132.9,605.3 134.3,603.6 135.7,602.2 137.1,600.9 138.6,599.8 140.0,598.6 141.4,597.4 143.0,596.2 144.5,594.7 145.8,593.3 147.1,591.6 148.5,589.5 149.7,587.6 150.3,586.2 151.3,583.7 151.9,581.9 152.5,579.1 152.9,577.7 153.3,574.8 153.5,572.0 153.8,569.2 153.9,566.3 154.2,564.4 154.5,562.1 154.8,559.2 155.1,556.4 155.3,553.5 155.6,551.0 155.8,549.3 155.9,546.4 156.3,543.6 156.7,540.8 156.8,537.9 157.0,535.1 157.0,532.2 156.8,529.4 156.6,526.6 156.4,524.5M19.3,606.7 21.4,606.1 23.5,605.8 26.4,605.7 29.2,605.7 32.0,605.9 33.5,606.2 36.3,607.0 37.7,608.1 39.1,609.9 39.9,611.8 40.6,613.5 41.4,616.0 42.0,617.9 42.8,620.3 43.6,621.7 44.8,623.8 46.2,625.5 47.7,627.0 49.1,628.4 50.5,629.7 51.9,630.9 53.3,632.0 55.5,633.1 57.6,634.0 59.0,634.5 61.9,635.5 63.3,636.1 66.1,636.8 69.0,637.1 71.1,637.3 73.2,637.4 74.8,637.3 77.5,637.2 80.3,637.1 82.3,637.3 84.6,637.6 87.4,637.8 90.3,637.8 93.1,637.8 95.9,637.6 97.4,637.3 100.2,636.9 103.1,636.7 105.9,636.4 108.7,636.0 110.2,635.6 113.0,634.9 114.4,634.3 117.3,633.3 118.7,632.6 120.7,631.7 122.9,630.5 124.4,629.6 125.8,628.6 127.7,627.4 129.4,626.0 131.0,624.6 132.4,623.1 133.7,621.7 134.9,620.3 136.0,618.9 137.1,617.0 138.6,615.0 139.7,613.2 140.8,611.8 142.1,610.4 143.6,608.9 145.5,607.5 147.1,606.5 148.5,605.4 149.9,604.3 151.3,603.0 152.8,601.6 154.2,600.0 155.6,598.3 157.0,596.2 157.9,594.7 158.8,593.3 159.9,591.4 161.0,589.1 161.8,587.6 162.7,585.6 163.7,583.4 164.4,581.9 165.4,579.1 166.1,577.7 167.0,575.5 167.8,573.4 168.5,572.0 169.7,569.2 170.4,567.7 171.2,565.9 172.3,563.5 173.0,562.1 173.9,559.2 174.5,557.8 175.4,555.0 176.0,553.5 176.2,552.8M20.7,611.7 23.5,611.1 26.4,611.1 29.2,611.5 30.7,611.8 33.3,613.2 34.5,614.6 35.2,616.0 36.3,618.8 36.7,620.3 37.7,623.1 38.1,624.6 39.1,626.3 40.6,628.3 42.0,629.9 43.4,631.3 44.8,632.4 46.2,633.4 47.9,634.5 50.5,635.9 51.9,636.5 54.0,637.3 56.2,638.1 58.5,638.8 60.4,639.3 63.3,640.0 64.7,640.2 67.5,640.5 70.4,640.7 73.2,640.7 76.1,640.6 78.9,640.6 81.7,640.6 84.6,640.6 87.4,640.7 90.3,640.7 93.1,640.7 95.9,640.6 98.8,640.4 101.0,640.2 103.1,640.1 105.9,639.6 108.7,639.2 111.6,638.8 113.0,638.5 115.8,637.8 117.3,637.3 120.1,636.3 121.5,635.8 124.4,634.6 125.8,634.1 127.9,633.1 130.0,632.0 131.5,631.4 133.3,630.2 135.4,628.8 137.0,627.4 138.3,626.0 139.3,624.6 140.2,623.1 141.4,621.3 142.8,618.9 143.8,617.5 144.7,616.0 145.8,614.6 147.1,613.2 148.5,611.8 150.0,610.4 151.4,608.9 152.8,607.5 154.2,605.8 155.6,603.9 157.0,601.8 157.9,600.4 158.8,599.0 159.9,597.3 161.3,594.7 162.1,593.3 162.8,591.9 164.1,589.3 165.0,587.6 165.7,586.2 167.0,583.5 167.7,581.9 168.4,580.5 169.8,577.8 170.6,576.3 171.4,574.8 172.6,572.7 173.9,570.6 174.7,569.2 175.6,567.7 176.9,565.3 177.7,563.5 178.3,561.9 178.6,561.0M58.3,657.9 60.4,657.7 63.2,657.2 64.7,656.9 67.5,656.4 70.2,655.8 71.8,655.4 74.6,654.9 77.3,654.4 78.9,654.1 81.7,653.7 84.6,653.2 86.7,653.0 88.8,652.7 91.7,652.5 94.5,652.4 97.4,652.2 100.2,652.1 103.1,651.9 105.9,651.7 107.3,651.5 110.2,651.3 113.0,651.0 115.8,650.8 118.7,650.5 121.5,650.3 123.2,650.1 125.8,649.8 128.6,649.4 131.5,648.8 132.9,648.4 135.7,647.6 137.1,647.1 140.0,646.1 141.4,645.6 144.1,644.4 145.7,643.7 147.1,642.8 149.0,641.6 150.8,640.2 152.5,638.8 153.9,637.3 155.1,635.9 156.2,634.5 157.3,633.1 158.4,631.3 159.9,628.9 160.6,627.4 161.3,625.9 162.3,623.1 162.7,621.7 163.5,618.9 164.1,616.6 164.6,614.6 165.4,611.8 165.8,610.4 166.7,607.5 167.2,606.1 168.4,603.3 169.0,601.8 169.8,600.2 171.1,597.6 171.9,596.2 172.7,594.7 174.1,592.4 175.3,590.5 176.2,589.1 177.1,587.6 178.3,585.9 179.7,583.9 181.2,582.0 182.3,580.5 182.6,580.2" fill="none" stroke="#222" stroke-width="0.8" stroke-opacity="0.62" clip-path="url(#disk0)"/>
<circle cx="99.5" cy="585.5" r="89.3" fill="none" stroke="#333" stroke-width="1.1" stroke-dasharray="2 1.3 1 1.6" stroke-opacity="0.75"/>
<circle cx="99.5" cy="585.5" r="78.2" fill="none" stroke="#111" stroke-width="2"/>
<path d="M86.3,507.3L96.8,494.5 M102.3,494.5L113.7,507.3" stroke="#111" stroke-width="2" fill="none"/>
<path d="M21.7,568.5C18.7,564.7 14.1,566.0 13.9,571.5L14.3,586.0L13.9,601.0C14.1,607.0 18.7,607.3 21.4,605.5" stroke="#111" stroke-width="1.7" fill="none" stroke-linejoin="round"/>
<path d="M177.3,568.5C180.3,564.7 184.9,566.0 185.1,571.5L184.7,586.0L185.1,601.0C184.9,607.0 180.3,607.3 177.6,605.5" stroke="#111" stroke-width="1.7" fill="none" stroke-linejoin="round"/>
<g fill="#111">
<circle cx="74.6" cy="507.5" r="1.1"/>
<circle cx="124.2" cy="507.5" r="1.1"/>
<circle cx="32.5" cy="536.1" r="1.1"/>
<circle cx="64.6" cy="544.3" r="1.1"/>
<circle cx="99.5" cy="545.4" r="1.1"/>
<circle cx="134.7" cy="544.3" r="1.1"/>
<circle cx="166.8" cy="536.1" r="1.1"/>
<circle cx="39.1" cy="562.0" r="1.1"/>
<circle cx="79.6" cy="565.1" r="1.1"/>
<circle cx="119.2" cy="565.1" r="1.1"/>
<circle cx="160.2" cy="562.0" r="1.1"/>
<circle cx="99.5" cy="570.2" r="1.1"/>
<circle cx="21.3" cy="585.5" r="1.1"/>
<circle cx="57.3" cy="585.5" r="1.1"/>
<circle cx="99.5" cy="585.5" r="1.1"/>
<circle cx="141.7" cy="585.5" r="1.1"/>
<circle cx="177.7" cy="585.5" r="1.1"/>
<circle cx="39.1" cy="608.0" r="1.1"/>
<circle cx="79.6" cy="605.5" r="1.1"/>
<circle cx="119.2" cy="605.5" r="1.1"/>
<circle cx="160.2" cy="608.0" r="1.1"/>
<circle cx="32.5" cy="634.1" r="1.1"/>
<circle cx="166.8" cy="634.1" r="1.1"/>
<circle cx="75.4" cy="662.0" r="1.1"/>
<circle cx="123.4" cy="662.0" r="1.1"/>
<circle cx="64.4" cy="626.3" r="2"/>
<circle cx="98.7" cy="625.5" r="2"/>
<circle cx="133.3" cy="626.3" r="2"/>
</g>
<g clip-path="url(#disk1)"><g filter="url(#bl)"><path fill="#59e2f0" d="M206.8 562h2v2h-2zM206.8 564h2v2h-2zM204.8 566h4v2h-4zM204.8 568h4v2h-4zM204.8 570h4v2h-4zM204.8 572h4v2h-4zM204.8 574h4v2h-4zM204.8 576h4v2h-4zM204.8 578h4v2h-4zM204.8 580h4v2h-4zM204.8 582h4v2h-4zM204.8 584h2v2h-2zM204.8 586h2v2h-2zM204.8 588h2v2h-2z"/>
<path fill="#60e8dd" d="M208.8 554h2v2h-2zM208.8 556h4v2h-4zM208.8 558h4v2h-4zM206.8 560h6v2h-6zM208.8 562h6v2h-6zM208.8 564h6v2h-6zM208.8 566h6v2h-6zM208.8 568h6v2h-6zM208.8 570h6v2h-6zM208.8 572h6v2h-6zM208.8 574h6v2h-6zM208.8 576h6v2h-6zM208.8 578h6v2h-6zM208.8 580h6v2h-6zM208.8 582h6v2h-6zM206.8 584h8v2h-8zM206.8 586h8v2h-8zM206.8 588h6v2h-6zM204.8 590h8v2h-8zM204.8 592h6v2h-6zM204.8 594h6v2h-6zM204.8 596h4v2h-4zM204.8 598h4v2h-4zM204.8 600h2v2h-2zM204.8 602h2v2h-2z"/>
<path fill="#69e8be" d="M212.8 544h2v2h-2zM212.8 546h2v2h-2zM210.8 548h4v2h-4zM210.8 550h6v2h-6zM210.8 552h6v2h-6zM210.8 554h6v2h-6zM212.8 556h4v2h-4zM212.8 558h6v2h-6zM212.8 560h6v2h-6zM214.8 562h4v2h-4zM214.8 564h4v2h-4zM214.8 566h4v2h-4zM214.8 568h4v2h-4zM214.8 570h6v2h-6zM214.8 572h6v2h-6zM214.8 574h6v2h-6zM214.8 576h6v2h-6zM214.8 578h6v2h-6zM214.8 580h6v2h-6zM214.8 582h6v2h-6zM214.8 584h4v2h-4zM214.8 586h4v2h-4zM212.8 588h6v2h-6zM212.8 590h6v2h-6zM210.8 592h6v2h-6zM210.8 594h6v2h-6zM208.8 596h6v2h-6zM208.8 598h6v2h-6zM206.8 600h6v2h-6zM206.8 602h6v2h-6zM206.8 604h4v2h-4zM206.8 606h4v2h-4zM206.8 608h2v2h-2z"/>
<path fill="#72e89f" d="M220.8 532h2v2h-2zM218.8 534h4v2h-4zM218.8 536h2v2h-2zM216.8 538h4v2h-4zM216.8 540h4v2h-4zM214.8 542h6v2h-6zM214.8 544h6v2h-6zM214.8 546h6v2h-6zM214.8 548h6v2h-6zM216.8 550h4v2h-4zM216.8 552h4v2h-4zM216.8 554h4v2h-4zM216.8 556h6v2h-6zM218.8 558h4v2h-4zM218.8 560h4v2h-4zM218.8 562h4v2h-4zM218.8 564h4v2h-4zM218.8 566h4v2h-4zM218.8 568h6v2h-6zM220.8 570h4v2h-4zM220.8 572h4v2h-4zM220.8 574h4v2h-4zM220.8 576h4v2h-4zM220.8 578h4v2h-4zM220.8 580h4v2h-4zM220.8 582h4v2h-4zM218.8 584h4v2h-4zM218.8 586h4v2h-4zM218.8 588h4v2h-4zM218.8 590h4v2h-4zM216.8 592h4v2h-4zM216.8 594h4v2h-4zM214.8 596h6v2h-6zM214.8 598h4v2h-4zM212.8 600h6v2h-6zM212.8 602h4v2h-4zM210.8 604h6v2h-6zM210.8 606h4v2h-4zM208.8 608h6v2h-6zM206.8 610h6v2h-6zM208.8 612h4v2h-4zM208.8 614h2v2h-2z"/>
<path fill="#7ae881" d="M234.8 518h2v2h-2zM348.8 518h2v2h-2zM230.8 520h4v2h-4zM348.8 520h4v2h-4zM228.8 522h6v2h-6zM348.8 522h6v2h-6zM226.8 524h6v2h-6zM348.8 524h8v2h-8zM226.8 526h6v2h-6zM350.8 526h8v2h-8zM224.8 528h6v2h-6zM350.8 528h10v2h-10zM222.8 530h8v2h-8zM352.8 530h10v2h-10zM222.8 532h6v2h-6zM354.8 532h8v2h-8zM222.8 534h6v2h-6zM220.8 536h8v2h-8zM220.8 538h6v2h-6zM220.8 540h6v2h-6zM220.8 542h6v2h-6zM220.8 544h6v2h-6zM220.8 546h6v2h-6zM220.8 548h6v2h-6zM220.8 550h6v2h-6zM220.8 552h6v2h-6zM220.8 554h6v2h-6zM222.8 556h4v2h-4zM222.8 558h4v2h-4zM222.8 560h4v2h-4zM222.8 562h4v2h-4zM222.8 564h6v2h-6zM222.8 566h6v2h-6zM224.8 568h4v2h-4zM224.8 570h4v2h-4zM224.8 572h4v2h-4zM224.8 574h4v2h-4zM224.8 576h4v2h-4zM224.8 578h4v2h-4zM224.8 580h4v2h-4zM224.8 582h4v2h-4zM222.8 584h4v2h-4zM222.8 586h4v2h-4zM222.8 588h4v2h-4zM222.8 590h4v2h-4zM220.8 592h6v2h-6zM220.8 594h4v2h-4zM220.8 596h4v2h-4zM218.8 598h6v2h-6zM218.8 600h4v2h-4zM216.8 602h6v2h-6zM216.8 604h4v2h-4zM214.8 606h6v2h-6zM214.8 608h4v2h-4zM212.8 610h6v2h-6zM212.8 612h4v2h-4zM210.8 614h6v2h-6zM208.8 616h6v2h-6zM210.8 618h4v2h-4zM210.8 620h2v2h-2z"/>
<path fill="#8dea6c" d="M250.8 506h2v2h-2zM248.8 508h2v2h-2zM244.8 510h4v2h-4zM240.8 512h8v2h-8zM238.8 514h8v2h-8zM342.8 514h2v2h-2zM236.8 516h8v2h-8zM342.8 516h6v2h-6zM236.8 518h8v2h-8zM342.8 518h6v2h-6zM234.8 520h8v2h-8zM342.8 520h6v2h-6zM234.8 522h8v2h-8zM342.8 522h6v2h-6zM232.8 524h8v2h-8zM342.8 524h6v2h-6zM232.8 526h8v2h-8zM342.8 526h8v2h-8zM230.8 528h8v2h-8zM344.8 528h6v2h-6zM230.8 530h8v2h-8zM344.8 530h8v2h-8zM228.8 532h8v2h-8zM346.8 532h8v2h-8zM228.8 534h8v2h-8zM346.8 534h18v2h-18zM228.8 536h6v2h-6zM350.8 536h16v2h-16zM226.8 538h8v2h-8zM352.8 538h10v2h-10zM226.8 540h6v2h-6zM226.8 542h6v2h-6zM226.8 544h6v2h-6zM226.8 546h6v2h-6zM226.8 548h6v2h-6zM226.8 550h6v2h-6zM226.8 552h6v2h-6zM226.8 554h6v2h-6zM226.8 556h6v2h-6zM226.8 558h6v2h-6zM226.8 560h6v2h-6zM226.8 562h6v2h-6zM228.8 564h4v2h-4zM228.8 566h4v2h-4zM228.8 568h4v2h-4zM228.8 570h4v2h-4zM228.8 572h4v2h-4zM228.8 574h4v2h-4zM228.8 576h4v2h-4zM228.8 578h4v2h-4zM228.8 580h4v2h-4zM228.8 582h4v2h-4zM226.8 584h6v2h-6zM226.8 586h4v2h-4zM226.8 588h4v2h-4zM226.8 590h4v2h-4zM226.8 592h4v2h-4zM224.8 594h6v2h-6zM224.8 596h4v2h-4zM224.8 598h4v2h-4zM222.8 600h6v2h-6zM222.8 602h4v2h-4zM220.8 604h6v2h-6zM220.8 606h4v2h-4zM218.8 608h6v2h-6zM218.8 610h4v2h-4zM216.8 612h6v2h-6zM216.8 614h4v2h-4zM214.8 616h4v2h-4zM214.8 618h4v2h-4zM212.8 620h4v2h-4zM212.8 622h4v2h-4zM212.8 624h2v2h-2z"/>
<path fill="#a4ed5b" d="M260.8 502h4v2h-4zM254.8 504h8v2h-8zM252.8 506h10v2h-10zM250.8 508h10v2h-10zM334.8 508h2v2h-2zM248.8 510h10v2h-10zM334.8 510h6v2h-6zM248.8 512h10v2h-10zM334.8 512h8v2h-8zM246.8 514h10v2h-10zM334.8 514h8v2h-8zM244.8 516h10v2h-10zM334.8 516h8v2h-8zM244.8 518h8v2h-8zM336.8 518h6v2h-6zM242.8 520h10v2h-10zM336.8 520h6v2h-6zM242.8 522h8v2h-8zM336.8 522h6v2h-6zM240.8 524h8v2h-8zM336.8 524h6v2h-6zM240.8 526h8v2h-8zM336.8 526h6v2h-6zM238.8 528h8v2h-8zM338.8 528h6v2h-6zM238.8 530h8v2h-8zM338.8 530h6v2h-6zM236.8 532h8v2h-8zM340.8 532h6v2h-6zM236.8 534h8v2h-8zM340.8 534h6v2h-6zM234.8 536h8v2h-8zM342.8 536h8v2h-8zM234.8 538h8v2h-8zM344.8 538h8v2h-8zM362.8 538h4v2h-4zM232.8 540h8v2h-8zM348.8 540h20v2h-20zM232.8 542h8v2h-8zM352.8 542h16v2h-16zM232.8 544h8v2h-8zM232.8 546h6v2h-6zM232.8 548h6v2h-6zM232.8 550h6v2h-6zM232.8 552h6v2h-6zM232.8 554h6v2h-6zM232.8 556h6v2h-6zM232.8 558h6v2h-6zM232.8 560h6v2h-6zM232.8 562h6v2h-6zM232.8 564h6v2h-6zM232.8 566h6v2h-6zM294.8 566h6v2h-6zM232.8 568h6v2h-6zM294.8 568h6v2h-6zM232.8 570h6v2h-6zM232.8 572h6v2h-6zM232.8 574h6v2h-6zM232.8 576h6v2h-6zM232.8 578h6v2h-6zM232.8 580h4v2h-4zM232.8 582h4v2h-4zM232.8 584h4v2h-4zM230.8 586h6v2h-6zM230.8 588h6v2h-6zM230.8 590h4v2h-4zM230.8 592h4v2h-4zM230.8 594h4v2h-4zM228.8 596h6v2h-6zM350.8 596h6v2h-6zM228.8 598h4v2h-4zM348.8 598h10v2h-10zM228.8 600h4v2h-4zM348.8 600h12v2h-12zM226.8 602h4v2h-4zM348.8 602h10v2h-10zM226.8 604h4v2h-4zM348.8 604h10v2h-10zM224.8 606h4v2h-4zM352.8 606h2v2h-2zM224.8 608h4v2h-4zM222.8 610h4v2h-4zM222.8 612h4v2h-4zM220.8 614h4v2h-4zM218.8 616h6v2h-6zM218.8 618h4v2h-4zM216.8 620h6v2h-6zM216.8 622h4v2h-4zM214.8 624h6v2h-6zM214.8 626h4v2h-4zM214.8 628h4v2h-4zM216.8 630h2v2h-2z"/>
<path fill="#bbf04a" d="M272.8 498h2v2h-2zM266.8 500h8v2h-8zM264.8 502h10v2h-10zM262.8 504h10v2h-10zM262.8 506h10v2h-10zM328.8 506h4v2h-4zM260.8 508h10v2h-10zM328.8 508h6v2h-6zM258.8 510h10v2h-10zM328.8 510h6v2h-6zM258.8 512h10v2h-10zM328.8 512h6v2h-6zM256.8 514h10v2h-10zM328.8 514h6v2h-6zM254.8 516h10v2h-10zM328.8 516h6v2h-6zM252.8 518h10v2h-10zM328.8 518h8v2h-8zM252.8 520h10v2h-10zM330.8 520h6v2h-6zM250.8 522h10v2h-10zM330.8 522h6v2h-6zM248.8 524h10v2h-10zM330.8 524h6v2h-6zM248.8 526h8v2h-8zM330.8 526h6v2h-6zM246.8 528h10v2h-10zM330.8 528h8v2h-8zM246.8 530h8v2h-8zM332.8 530h6v2h-6zM244.8 532h10v2h-10zM332.8 532h8v2h-8zM244.8 534h8v2h-8zM334.8 534h6v2h-6zM242.8 536h10v2h-10zM334.8 536h8v2h-8zM242.8 538h8v2h-8zM336.8 538h8v2h-8zM240.8 540h10v2h-10zM338.8 540h10v2h-10zM240.8 542h10v2h-10zM342.8 542h10v2h-10zM368.8 542h2v2h-2zM240.8 544h10v2h-10zM346.8 544h24v2h-24zM238.8 546h10v2h-10zM352.8 546h20v2h-20zM238.8 548h10v2h-10zM370.8 548h2v2h-2zM238.8 550h10v2h-10zM238.8 552h10v2h-10zM238.8 554h10v2h-10zM238.8 556h10v2h-10zM238.8 558h10v2h-10zM292.8 558h14v2h-14zM238.8 560h10v2h-10zM288.8 560h20v2h-20zM238.8 562h10v2h-10zM288.8 562h22v2h-22zM238.8 564h10v2h-10zM286.8 564h24v2h-24zM238.8 566h10v2h-10zM286.8 566h8v2h-8zM300.8 566h10v2h-10zM238.8 568h8v2h-8zM286.8 568h8v2h-8zM300.8 568h10v2h-10zM238.8 570h8v2h-8zM288.8 570h20v2h-20zM238.8 572h8v2h-8zM290.8 572h16v2h-16zM238.8 574h8v2h-8zM294.8 574h8v2h-8zM238.8 576h6v2h-6zM238.8 578h6v2h-6zM236.8 580h8v2h-8zM236.8 582h6v2h-6zM236.8 584h6v2h-6zM236.8 586h6v2h-6zM236.8 588h4v2h-4zM234.8 590h6v2h-6zM234.8 592h6v2h-6zM348.8 592h12v2h-12zM234.8 594h4v2h-4zM344.8 594h18v2h-18zM234.8 596h4v2h-4zM344.8 596h6v2h-6zM356.8 596h8v2h-8zM232.8 598h6v2h-6zM344.8 598h4v2h-4zM358.8 598h6v2h-6zM232.8 600h4v2h-4zM344.8 600h4v2h-4zM360.8 600h4v2h-4zM230.8 602h6v2h-6zM344.8 602h4v2h-4zM358.8 602h6v2h-6zM230.8 604h4v2h-4zM344.8 604h4v2h-4zM358.8 604h6v2h-6zM228.8 606h6v2h-6zM346.8 606h6v2h-6zM354.8 606h8v2h-8zM228.8 608h4v2h-4zM348.8 608h12v2h-12zM226.8 610h6v2h-6zM226.8 612h4v2h-4zM224.8 614h6v2h-6zM224.8 616h4v2h-4zM222.8 618h6v2h-6zM222.8 620h4v2h-4zM220.8 622h6v2h-6zM220.8 624h4v2h-4zM218.8 626h6v2h-6zM218.8 628h4v2h-4zM218.8 630h4v2h-4zM216.8 632h6v2h-6zM218.8 634h2v2h-2z"/>
<path fill="#d0f23b" d="M274.8 498h10v2h-10zM274.8 500h8v2h-8zM274.8 502h8v2h-8zM320.8 502h4v2h-4zM272.8 504h8v2h-8zM322.8 504h6v2h-6zM272.8 506h8v2h-8zM322.8 506h6v2h-6zM270.8 508h8v2h-8zM322.8 508h6v2h-6zM268.8 510h10v2h-10zM322.8 510h6v2h-6zM268.8 512h8v2h-8zM322.8 512h6v2h-6zM266.8 514h10v2h-10zM322.8 514h6v2h-6zM264.8 516h10v2h-10zM322.8 516h6v2h-6zM262.8 518h10v2h-10zM322.8 518h6v2h-6zM262.8 520h10v2h-10zM322.8 520h8v2h-8zM260.8 522h10v2h-10zM322.8 522h8v2h-8zM258.8 524h10v2h-10zM322.8 524h8v2h-8zM256.8 526h10v2h-10zM324.8 526h6v2h-6zM256.8 528h10v2h-10zM324.8 528h6v2h-6zM254.8 530h10v2h-10zM324.8 530h8v2h-8zM254.8 532h10v2h-10zM324.8 532h8v2h-8zM252.8 534h10v2h-10zM324.8 534h10v2h-10zM252.8 536h10v2h-10zM326.8 536h8v2h-8zM250.8 538h12v2h-12zM326.8 538h10v2h-10zM250.8 540h10v2h-10zM328.8 540h10v2h-10zM250.8 542h10v2h-10zM328.8 542h14v2h-14zM250.8 544h10v2h-10zM330.8 544h16v2h-16zM248.8 546h12v2h-12zM334.8 546h18v2h-18zM248.8 548h12v2h-12zM340.8 548h30v2h-30zM248.8 550h10v2h-10zM348.8 550h24v2h-24zM248.8 552h10v2h-10zM292.8 552h18v2h-18zM356.8 552h18v2h-18zM248.8 554h10v2h-10zM286.8 554h28v2h-28zM362.8 554h12v2h-12zM248.8 556h10v2h-10zM284.8 556h32v2h-32zM368.8 556h8v2h-8zM248.8 558h10v2h-10zM282.8 558h10v2h-10zM306.8 558h12v2h-12zM372.8 558h4v2h-4zM248.8 560h10v2h-10zM280.8 560h8v2h-8zM308.8 560h10v2h-10zM248.8 562h10v2h-10zM280.8 562h8v2h-8zM310.8 562h8v2h-8zM248.8 564h10v2h-10zM280.8 564h6v2h-6zM310.8 564h8v2h-8zM248.8 566h10v2h-10zM280.8 566h6v2h-6zM310.8 566h8v2h-8zM246.8 568h12v2h-12zM280.8 568h6v2h-6zM310.8 568h8v2h-8zM246.8 570h10v2h-10zM280.8 570h8v2h-8zM308.8 570h8v2h-8zM246.8 572h10v2h-10zM282.8 572h8v2h-8zM306.8 572h10v2h-10zM246.8 574h8v2h-8zM284.8 574h10v2h-10zM302.8 574h12v2h-12zM244.8 576h10v2h-10zM286.8 576h24v2h-24zM244.8 578h8v2h-8zM292.8 578h14v2h-14zM244.8 580h8v2h-8zM242.8 582h8v2h-8zM242.8 584h8v2h-8zM242.8 586h6v2h-6zM350.8 586h10v2h-10zM240.8 588h8v2h-8zM344.8 588h20v2h-20zM240.8 590h6v2h-6zM342.8 590h26v2h-26zM240.8 592h6v2h-6zM340.8 592h8v2h-8zM360.8 592h10v2h-10zM238.8 594h6v2h-6zM340.8 594h4v2h-4zM362.8 594h8v2h-8zM238.8 596h6v2h-6zM340.8 596h4v2h-4zM364.8 596h8v2h-8zM238.8 598h4v2h-4zM340.8 598h4v2h-4zM364.8 598h8v2h-8zM236.8 600h6v2h-6zM340.8 600h4v2h-4zM364.8 600h8v2h-8zM236.8 602h4v2h-4zM340.8 602h4v2h-4zM364.8 602h6v2h-6zM234.8 604h6v2h-6zM340.8 604h4v2h-4zM364.8 604h6v2h-6zM234.8 606h4v2h-4zM342.8 606h4v2h-4zM362.8 606h8v2h-8zM232.8 608h6v2h-6zM344.8 608h4v2h-4zM360.8 608h8v2h-8zM232.8 610h4v2h-4zM346.8 610h20v2h-20zM230.8 612h6v2h-6zM352.8 612h10v2h-10zM230.8 614h4v2h-4zM228.8 616h4v2h-4zM228.8 618h4v2h-4zM226.8 620h4v2h-4zM226.8 622h4v2h-4zM224.8 624h4v2h-4zM224.8 626h4v2h-4zM222.8 628h6v2h-6zM222.8 630h4v2h-4zM222.8 632h4v2h-4zM220.8 634h6v2h-6zM220.8 636h6v2h-6zM222.8 638h4v2h-4zM222.8 640h2v2h-2z"/>
<path fill="#e1f436" d="M284.8 498h26v2h-26zM282.8 500h14v2h-14zM302.8 500h16v2h-16zM282.8 502h10v2h-10zM306.8 502h14v2h-14zM280.8 504h10v2h-10zM308.8 504h14v2h-14zM280.8 506h10v2h-10zM310.8 506h12v2h-12zM278.8 508h10v2h-10zM310.8 508h12v2h-12zM278.8 510h10v2h-10zM312.8 510h10v2h-10zM276.8 512h10v2h-10zM312.8 512h10v2h-10zM276.8 514h10v2h-10zM312.8 514h10v2h-10zM274.8 516h10v2h-10zM314.8 516h8v2h-8zM272.8 518h12v2h-12zM314.8 518h8v2h-8zM272.8 520h12v2h-12zM314.8 520h8v2h-8zM270.8 522h12v2h-12zM314.8 522h8v2h-8zM268.8 524h12v2h-12zM314.8 524h8v2h-8zM266.8 526h14v2h-14zM314.8 526h10v2h-10zM266.8 528h12v2h-12zM314.8 528h10v2h-10zM264.8 530h14v2h-14zM314.8 530h10v2h-10zM264.8 532h12v2h-12zM314.8 532h10v2h-10zM262.8 534h14v2h-14zM314.8 534h10v2h-10zM262.8 536h14v2h-14zM314.8 536h12v2h-12zM262.8 538h12v2h-12zM312.8 538h14v2h-14zM260.8 540h14v2h-14zM312.8 540h16v2h-16zM260.8 542h16v2h-16zM308.8 542h20v2h-20zM260.8 544h16v2h-16zM296.8 544h34v2h-34zM260.8 546h74v2h-74zM260.8 548h80v2h-80zM258.8 550h90v2h-90zM258.8 552h34v2h-34zM310.8 552h46v2h-46zM258.8 554h28v2h-28zM314.8 554h48v2h-48zM258.8 556h26v2h-26zM316.8 556h52v2h-52zM258.8 558h24v2h-24zM318.8 558h16v2h-16zM352.8 558h20v2h-20zM258.8 560h22v2h-22zM318.8 560h12v2h-12zM358.8 560h18v2h-18zM258.8 562h22v2h-22zM318.8 562h12v2h-12zM360.8 562h18v2h-18zM258.8 564h22v2h-22zM318.8 564h10v2h-10zM364.8 564h14v2h-14zM258.8 566h22v2h-22zM318.8 566h10v2h-10zM366.8 566h12v2h-12zM258.8 568h22v2h-22zM318.8 568h10v2h-10zM368.8 568h10v2h-10zM256.8 570h24v2h-24zM316.8 570h10v2h-10zM370.8 570h8v2h-8zM256.8 572h26v2h-26zM316.8 572h10v2h-10zM372.8 572h8v2h-8zM254.8 574h30v2h-30zM314.8 574h10v2h-10zM374.8 574h6v2h-6zM254.8 576h32v2h-32zM310.8 576h12v2h-12zM376.8 576h4v2h-4zM252.8 578h14v2h-14zM276.8 578h16v2h-16zM306.8 578h14v2h-14zM356.8 578h12v2h-12zM378.8 578h2v2h-2zM252.8 580h12v2h-12zM282.8 580h34v2h-34zM346.8 580h32v2h-32zM250.8 582h12v2h-12zM292.8 582h16v2h-16zM342.8 582h38v2h-38zM250.8 584h10v2h-10zM338.8 584h42v2h-42zM248.8 586h10v2h-10zM336.8 586h14v2h-14zM360.8 586h20v2h-20zM248.8 588h8v2h-8zM336.8 588h8v2h-8zM364.8 588h16v2h-16zM246.8 590h8v2h-8zM334.8 590h8v2h-8zM368.8 590h12v2h-12zM246.8 592h6v2h-6zM334.8 592h6v2h-6zM370.8 592h10v2h-10zM244.8 594h8v2h-8zM334.8 594h6v2h-6zM370.8 594h10v2h-10zM244.8 596h6v2h-6zM334.8 596h6v2h-6zM372.8 596h8v2h-8zM242.8 598h8v2h-8zM336.8 598h4v2h-4zM372.8 598h6v2h-6zM242.8 600h6v2h-6zM336.8 600h4v2h-4zM372.8 600h6v2h-6zM240.8 602h6v2h-6zM336.8 602h4v2h-4zM370.8 602h8v2h-8zM240.8 604h6v2h-6zM338.8 604h2v2h-2zM370.8 604h8v2h-8zM238.8 606h6v2h-6zM338.8 606h4v2h-4zM370.8 606h8v2h-8zM238.8 608h6v2h-6zM340.8 608h4v2h-4zM368.8 608h8v2h-8zM236.8 610h6v2h-6zM342.8 610h4v2h-4zM366.8 610h10v2h-10zM236.8 612h4v2h-4zM346.8 612h6v2h-6zM362.8 612h12v2h-12zM234.8 614h6v2h-6zM350.8 614h22v2h-22zM232.8 616h6v2h-6zM358.8 616h6v2h-6zM232.8 618h4v2h-4zM230.8 620h6v2h-6zM230.8 622h4v2h-4zM228.8 624h6v2h-6zM228.8 626h6v2h-6zM228.8 628h4v2h-4zM226.8 630h6v2h-6zM226.8 632h6v2h-6zM226.8 634h6v2h-6zM226.8 636h4v2h-4zM226.8 638h4v2h-4zM224.8 640h6v2h-6zM224.8 642h6v2h-6zM226.8 644h4v2h-4zM228.8 646h2v2h-2z"/>
<path fill="#eff231" d="M296.8 500h6v2h-6zM292.8 502h14v2h-14zM290.8 504h18v2h-18zM290.8 506h20v2h-20zM288.8 508h22v2h-22zM288.8 510h24v2h-24zM286.8 512h26v2h-26zM286.8 514h26v2h-26zM284.8 516h30v2h-30zM284.8 518h30v2h-30zM284.8 520h30v2h-30zM282.8 522h32v2h-32zM280.8 524h34v2h-34zM280.8 526h34v2h-34zM278.8 528h36v2h-36zM278.8 530h36v2h-36zM276.8 532h38v2h-38zM276.8 534h38v2h-38zM276.8 536h38v2h-38zM274.8 538h38v2h-38zM274.8 540h38v2h-38zM276.8 542h32v2h-32zM276.8 544h20v2h-20zM334.8 558h18v2h-18zM330.8 560h28v2h-28zM330.8 562h30v2h-30zM328.8 564h36v2h-36zM328.8 566h38v2h-38zM328.8 568h40v2h-40zM326.8 570h44v2h-44zM326.8 572h46v2h-46zM324.8 574h50v2h-50zM322.8 576h54v2h-54zM266.8 578h10v2h-10zM320.8 578h36v2h-36zM368.8 578h10v2h-10zM264.8 580h18v2h-18zM316.8 580h30v2h-30zM378.8 580h2v2h-2zM262.8 582h30v2h-30zM308.8 582h34v2h-34zM260.8 584h78v2h-78zM258.8 586h20v2h-20zM288.8 586h48v2h-48zM256.8 588h12v2h-12zM324.8 588h12v2h-12zM254.8 590h10v2h-10zM326.8 590h8v2h-8zM252.8 592h10v2h-10zM328.8 592h6v2h-6zM252.8 594h8v2h-8zM328.8 594h6v2h-6zM250.8 596h8v2h-8zM330.8 596h4v2h-4zM250.8 598h6v2h-6zM330.8 598h6v2h-6zM248.8 600h6v2h-6zM332.8 600h4v2h-4zM246.8 602h8v2h-8zM332.8 602h4v2h-4zM246.8 604h6v2h-6zM334.8 604h4v2h-4zM244.8 606h6v2h-6zM334.8 606h4v2h-4zM244.8 608h4v2h-4zM336.8 608h4v2h-4zM242.8 610h6v2h-6zM338.8 610h4v2h-4zM240.8 612h6v2h-6zM340.8 612h6v2h-6zM374.8 612h2v2h-2zM240.8 614h4v2h-4zM344.8 614h6v2h-6zM372.8 614h2v2h-2zM238.8 616h6v2h-6zM348.8 616h10v2h-10zM364.8 616h10v2h-10zM236.8 618h6v2h-6zM354.8 618h20v2h-20zM236.8 620h6v2h-6zM360.8 620h12v2h-12zM234.8 622h6v2h-6zM368.8 622h4v2h-4zM234.8 624h6v2h-6zM234.8 626h4v2h-4zM232.8 628h6v2h-6zM232.8 630h6v2h-6zM232.8 632h6v2h-6zM232.8 634h4v2h-4zM230.8 636h6v2h-6zM230.8 638h6v2h-6zM230.8 640h6v2h-6zM230.8 642h6v2h-6zM230.8 644h8v2h-8zM230.8 646h8v2h-8zM230.8 648h8v2h-8zM232.8 650h6v2h-6zM234.8 652h6v2h-6zM236.8 654h4v2h-4zM240.8 656h2v2h-2zM242.8 658h2v2h-2zM262.8 668h2v2h-2zM268.8 670h10v2h-10zM278.8 672h8v2h-8z"/>
<path fill="#f4e32a" d="M278.8 586h10v2h-10zM268.8 588h56v2h-56zM264.8 590h62v2h-62zM262.8 592h18v2h-18zM298.8 592h30v2h-30zM260.8 594h12v2h-12zM318.8 594h10v2h-10zM258.8 596h10v2h-10zM322.8 596h8v2h-8zM256.8 598h10v2h-10zM324.8 598h6v2h-6zM254.8 600h8v2h-8zM326.8 600h6v2h-6zM254.8 602h6v2h-6zM328.8 602h4v2h-4zM252.8 604h6v2h-6zM330.8 604h4v2h-4zM250.8 606h8v2h-8zM330.8 606h4v2h-4zM248.8 608h8v2h-8zM332.8 608h4v2h-4zM248.8 610h6v2h-6zM334.8 610h4v2h-4zM246.8 612h6v2h-6zM336.8 612h4v2h-4zM244.8 614h8v2h-8zM338.8 614h6v2h-6zM244.8 616h6v2h-6zM342.8 616h6v2h-6zM242.8 618h6v2h-6zM346.8 618h8v2h-8zM242.8 620h6v2h-6zM352.8 620h8v2h-8zM240.8 622h6v2h-6zM356.8 622h12v2h-12zM240.8 624h6v2h-6zM360.8 624h10v2h-10zM238.8 626h6v2h-6zM362.8 626h8v2h-8zM238.8 628h6v2h-6zM366.8 628h2v2h-2zM238.8 630h6v2h-6zM238.8 632h6v2h-6zM236.8 634h8v2h-8zM236.8 636h8v2h-8zM236.8 638h8v2h-8zM236.8 640h8v2h-8zM236.8 642h8v2h-8zM238.8 644h6v2h-6zM238.8 646h8v2h-8zM238.8 648h8v2h-8zM238.8 650h10v2h-10zM240.8 652h10v2h-10zM240.8 654h12v2h-12zM242.8 656h12v2h-12zM244.8 658h16v2h-16zM246.8 660h28v2h-28zM248.8 662h38v2h-38zM252.8 664h62v2h-62zM258.8 666h62v2h-62zM264.8 668h56v2h-56zM278.8 670h36v2h-36zM286.8 672h18v2h-18z"/>
<path fill="#f6cd26" d="M280.8 592h18v2h-18zM272.8 594h46v2h-46zM268.8 596h54v2h-54zM266.8 598h16v2h-16zM306.8 598h18v2h-18zM262.8 600h12v2h-12zM316.8 600h10v2h-10zM260.8 602h10v2h-10zM320.8 602h8v2h-8zM258.8 604h10v2h-10zM322.8 604h8v2h-8zM258.8 606h8v2h-8zM326.8 606h4v2h-4zM256.8 608h6v2h-6zM328.8 608h4v2h-4zM254.8 610h8v2h-8zM330.8 610h4v2h-4zM252.8 612h8v2h-8zM332.8 612h4v2h-4zM252.8 614h6v2h-6zM334.8 614h4v2h-4zM250.8 616h6v2h-6zM336.8 616h6v2h-6zM248.8 618h8v2h-8zM340.8 618h6v2h-6zM248.8 620h6v2h-6zM344.8 620h8v2h-8zM246.8 622h8v2h-8zM348.8 622h8v2h-8zM246.8 624h6v2h-6zM352.8 624h8v2h-8zM244.8 626h8v2h-8zM354.8 626h8v2h-8zM244.8 628h8v2h-8zM358.8 628h8v2h-8zM244.8 630h6v2h-6zM360.8 630h8v2h-8zM244.8 632h6v2h-6zM362.8 632h4v2h-4zM244.8 634h6v2h-6zM362.8 634h2v2h-2zM244.8 636h6v2h-6zM244.8 638h6v2h-6zM244.8 640h8v2h-8zM244.8 642h8v2h-8zM244.8 644h10v2h-10zM246.8 646h10v2h-10zM246.8 648h12v2h-12zM248.8 650h14v2h-14zM250.8 652h18v2h-18zM252.8 654h30v2h-30zM254.8 656h62v2h-62zM260.8 658h70v2h-70zM274.8 660h62v2h-62zM286.8 662h48v2h-48zM314.8 664h16v2h-16zM320.8 666h6v2h-6z"/>
<path fill="#f7b223" d="M282.8 598h24v2h-24zM274.8 600h42v2h-42zM270.8 602h50v2h-50zM268.8 604h20v2h-20zM304.8 604h18v2h-18zM266.8 606h12v2h-12zM314.8 606h12v2h-12zM262.8 608h12v2h-12zM320.8 608h8v2h-8zM262.8 610h8v2h-8zM322.8 610h8v2h-8zM260.8 612h8v2h-8zM326.8 612h6v2h-6zM258.8 614h8v2h-8zM328.8 614h6v2h-6zM256.8 616h8v2h-8zM332.8 616h4v2h-4zM256.8 618h6v2h-6zM334.8 618h6v2h-6zM254.8 620h8v2h-8zM336.8 620h8v2h-8zM254.8 622h6v2h-6zM340.8 622h8v2h-8zM252.8 624h8v2h-8zM342.8 624h10v2h-10zM252.8 626h8v2h-8zM346.8 626h8v2h-8zM252.8 628h6v2h-6zM350.8 628h8v2h-8zM250.8 630h8v2h-8zM352.8 630h8v2h-8zM250.8 632h8v2h-8zM352.8 632h10v2h-10zM250.8 634h10v2h-10zM354.8 634h8v2h-8zM250.8 636h10v2h-10zM354.8 636h10v2h-10zM250.8 638h12v2h-12zM354.8 638h8v2h-8zM252.8 640h10v2h-10zM354.8 640h6v2h-6zM252.8 642h14v2h-14zM354.8 642h4v2h-4zM254.8 644h16v2h-16zM354.8 644h4v2h-4zM256.8 646h22v2h-22zM354.8 646h2v2h-2zM258.8 648h48v2h-48zM350.8 648h4v2h-4zM262.8 650h90v2h-90zM268.8 652h80v2h-80zM282.8 654h64v2h-64zM316.8 656h28v2h-28zM330.8 658h10v2h-10zM336.8 660h2v2h-2z"/>
<path fill="#f8981f" d="M288.8 604h16v2h-16zM278.8 606h36v2h-36zM274.8 608h46v2h-46zM270.8 610h52v2h-52zM268.8 612h20v2h-20zM312.8 612h14v2h-14zM266.8 614h14v2h-14zM320.8 614h8v2h-8zM264.8 616h12v2h-12zM324.8 616h8v2h-8zM262.8 618h12v2h-12zM326.8 618h8v2h-8zM262.8 620h10v2h-10zM330.8 620h6v2h-6zM260.8 622h10v2h-10zM332.8 622h8v2h-8zM260.8 624h10v2h-10zM334.8 624h8v2h-8zM260.8 626h8v2h-8zM336.8 626h10v2h-10zM258.8 628h10v2h-10zM338.8 628h12v2h-12zM258.8 630h12v2h-12zM340.8 630h12v2h-12zM258.8 632h12v2h-12zM342.8 632h10v2h-10zM260.8 634h12v2h-12zM342.8 634h12v2h-12zM260.8 636h16v2h-16zM340.8 636h14v2h-14zM262.8 638h26v2h-26zM340.8 638h14v2h-14zM262.8 640h40v2h-40zM334.8 640h20v2h-20zM266.8 642h88v2h-88zM270.8 644h84v2h-84zM278.8 646h76v2h-76zM306.8 648h44v2h-44z"/>
<path fill="#f7801c" d="M288.8 612h24v2h-24zM280.8 614h40v2h-40zM276.8 616h48v2h-48zM274.8 618h52v2h-52zM272.8 620h58v2h-58zM270.8 622h38v2h-38zM320.8 622h12v2h-12zM270.8 624h34v2h-34zM324.8 624h10v2h-10zM268.8 626h36v2h-36zM326.8 626h10v2h-10zM268.8 628h38v2h-38zM328.8 628h10v2h-10zM270.8 630h38v2h-38zM328.8 630h12v2h-12zM270.8 632h42v2h-42zM326.8 632h16v2h-16zM272.8 634h70v2h-70zM276.8 636h64v2h-64zM288.8 638h52v2h-52zM302.8 640h32v2h-32z"/>
<path fill="#f76a19" d="M308.8 622h12v2h-12zM304.8 624h20v2h-20zM304.8 626h22v2h-22zM306.8 628h22v2h-22zM308.8 630h20v2h-20zM312.8 632h14v2h-14z"/></g></g>
<path d="" fill="#fff" fill-opacity="0.25"/>
<path d="M269.6 506.1h1.1v1.1h-1.1zM277.1 506.1h1.1v1.1h-1.1zM284.8 506.1h1.1v1.1h-1.1zM288.6 502.2h1.1v1.1h-1.1zM292.4 506.1h1.1v1.1h-1.1zM296.1 502.2h1.1v1.1h-1.1zM299.9 506.1h1.1v1.1h-1.1zM307.6 506.1h1.1v1.1h-1.1zM315.1 506.1h1.1v1.1h-1.1zM254.3 513.7h1.1v1.1h-1.1zM258.1 509.9h1.1v1.1h-1.1zM261.9 513.7h1.1v1.1h-1.1zM265.8 509.9h1.1v1.1h-1.1zM269.6 513.7h1.1v1.1h-1.1zM273.3 509.9h1.1v1.1h-1.1zM277.1 513.7h1.1v1.1h-1.1zM280.9 509.9h1.1v1.1h-1.1zM284.8 513.7h1.1v1.1h-1.1zM288.6 509.9h1.1v1.1h-1.1zM292.4 513.7h1.1v1.1h-1.1zM296.1 509.9h1.1v1.1h-1.1zM299.9 513.7h1.1v1.1h-1.1zM303.8 509.9h1.1v1.1h-1.1zM307.6 513.7h1.1v1.1h-1.1zM311.3 509.9h1.1v1.1h-1.1zM315.1 513.7h1.1v1.1h-1.1zM318.9 509.9h1.1v1.1h-1.1zM322.8 513.7h1.1v1.1h-1.1zM326.6 509.9h1.1v1.1h-1.1zM330.4 513.7h1.1v1.1h-1.1zM246.8 521.2h1.1v1.1h-1.1zM250.5 517.5h1.1v1.1h-1.1zM254.3 521.2h1.1v1.1h-1.1zM258.1 517.5h1.1v1.1h-1.1zM261.9 521.2h1.1v1.1h-1.1zM265.8 517.5h1.1v1.1h-1.1zM269.6 521.2h1.1v1.1h-1.1zM273.3 517.5h1.1v1.1h-1.1zM277.1 521.2h1.1v1.1h-1.1zM280.9 517.5h1.1v1.1h-1.1zM284.8 521.2h1.1v1.1h-1.1zM288.6 517.5h1.1v1.1h-1.1zM292.4 521.2h1.1v1.1h-1.1zM296.1 517.5h1.1v1.1h-1.1zM299.9 521.2h1.1v1.1h-1.1zM303.8 517.5h1.1v1.1h-1.1zM307.6 521.2h1.1v1.1h-1.1zM311.3 517.5h1.1v1.1h-1.1zM315.1 521.2h1.1v1.1h-1.1zM318.9 517.5h1.1v1.1h-1.1zM322.8 521.2h1.1v1.1h-1.1zM326.6 517.5h1.1v1.1h-1.1zM330.4 521.2h1.1v1.1h-1.1zM334.1 517.5h1.1v1.1h-1.1zM337.9 521.2h1.1v1.1h-1.1zM231.6 528.9h1.1v1.1h-1.1zM235.3 525.1h1.1v1.1h-1.1zM239.2 528.9h1.1v1.1h-1.1zM242.9 525.1h1.1v1.1h-1.1zM246.8 528.9h1.1v1.1h-1.1zM250.5 525.1h1.1v1.1h-1.1zM254.3 528.9h1.1v1.1h-1.1zM258.1 525.1h1.1v1.1h-1.1zM261.9 528.9h1.1v1.1h-1.1zM265.8 525.1h1.1v1.1h-1.1zM269.6 528.9h1.1v1.1h-1.1zM273.3 525.1h1.1v1.1h-1.1zM277.1 528.9h1.1v1.1h-1.1zM280.9 525.1h1.1v1.1h-1.1zM284.8 528.9h1.1v1.1h-1.1zM288.6 525.1h1.1v1.1h-1.1zM292.4 528.9h1.1v1.1h-1.1zM296.1 525.1h1.1v1.1h-1.1zM299.9 528.9h1.1v1.1h-1.1zM303.8 525.1h1.1v1.1h-1.1zM307.6 528.9h1.1v1.1h-1.1zM311.3 525.1h1.1v1.1h-1.1zM315.1 528.9h1.1v1.1h-1.1zM318.9 525.1h1.1v1.1h-1.1zM322.8 528.9h1.1v1.1h-1.1zM326.6 525.1h1.1v1.1h-1.1zM330.4 528.9h1.1v1.1h-1.1zM334.1 525.1h1.1v1.1h-1.1zM337.9 528.9h1.1v1.1h-1.1zM341.8 525.1h1.1v1.1h-1.1zM345.6 528.9h1.1v1.1h-1.1zM231.6 536.5h1.1v1.1h-1.1zM235.3 532.7h1.1v1.1h-1.1zM239.2 536.5h1.1v1.1h-1.1zM242.9 532.7h1.1v1.1h-1.1zM246.8 536.5h1.1v1.1h-1.1zM250.5 532.7h1.1v1.1h-1.1zM254.3 536.5h1.1v1.1h-1.1zM258.1 532.7h1.1v1.1h-1.1zM261.9 536.5h1.1v1.1h-1.1zM265.8 532.7h1.1v1.1h-1.1zM269.6 536.5h1.1v1.1h-1.1zM273.3 532.7h1.1v1.1h-1.1zM277.1 536.5h1.1v1.1h-1.1zM280.9 532.7h1.1v1.1h-1.1zM284.8 536.5h1.1v1.1h-1.1zM288.6 532.7h1.1v1.1h-1.1zM292.4 536.5h1.1v1.1h-1.1zM296.1 532.7h1.1v1.1h-1.1zM299.9 536.5h1.1v1.1h-1.1zM303.8 532.7h1.1v1.1h-1.1zM307.6 536.5h1.1v1.1h-1.1zM311.3 532.7h1.1v1.1h-1.1zM315.1 536.5h1.1v1.1h-1.1zM318.9 532.7h1.1v1.1h-1.1zM322.8 536.5h1.1v1.1h-1.1zM326.6 532.7h1.1v1.1h-1.1zM330.4 536.5h1.1v1.1h-1.1zM334.1 532.7h1.1v1.1h-1.1zM337.9 536.5h1.1v1.1h-1.1zM341.8 532.7h1.1v1.1h-1.1zM345.6 536.5h1.1v1.1h-1.1zM349.3 532.7h1.1v1.1h-1.1zM353.1 536.5h1.1v1.1h-1.1zM223.9 544.1h1.1v1.1h-1.1zM227.8 540.3h1.1v1.1h-1.1zM231.6 544.1h1.1v1.1h-1.1zM235.3 540.3h1.1v1.1h-1.1zM239.2 544.1h1.1v1.1h-1.1zM242.9 540.3h1.1v1.1h-1.1zM246.8 544.1h1.1v1.1h-1.1zM250.5 540.3h1.1v1.1h-1.1zM254.3 544.1h1.1v1.1h-1.1zM258.1 540.3h1.1v1.1h-1.1zM261.9 544.1h1.1v1.1h-1.1zM265.8 540.3h1.1v1.1h-1.1zM269.6 544.1h1.1v1.1h-1.1zM273.3 540.3h1.1v1.1h-1.1zM277.1 544.1h1.1v1.1h-1.1zM280.9 540.3h1.1v1.1h-1.1zM284.8 544.1h1.1v1.1h-1.1zM288.6 540.3h1.1v1.1h-1.1zM292.4 544.1h1.1v1.1h-1.1zM296.1 540.3h1.1v1.1h-1.1zM299.9 544.1h1.1v1.1h-1.1zM303.8 540.3h1.1v1.1h-1.1zM307.6 544.1h1.1v1.1h-1.1zM311.3 540.3h1.1v1.1h-1.1zM315.1 544.1h1.1v1.1h-1.1zM318.9 540.3h1.1v1.1h-1.1zM322.8 544.1h1.1v1.1h-1.1zM326.6 540.3h1.1v1.1h-1.1zM330.4 544.1h1.1v1.1h-1.1zM334.1 540.3h1.1v1.1h-1.1zM337.9 544.1h1.1v1.1h-1.1zM341.8 540.3h1.1v1.1h-1.1zM345.6 544.1h1.1v1.1h-1.1zM349.3 540.3h1.1v1.1h-1.1zM353.1 544.1h1.1v1.1h-1.1zM356.9 540.3h1.1v1.1h-1.1zM360.8 544.1h1.1v1.1h-1.1zM220.1 547.9h1.1v1.1h-1.1zM223.9 551.6h1.1v1.1h-1.1zM227.8 547.9h1.1v1.1h-1.1zM231.6 551.6h1.1v1.1h-1.1zM235.3 547.9h1.1v1.1h-1.1zM239.2 551.6h1.1v1.1h-1.1zM242.9 547.9h1.1v1.1h-1.1zM246.8 551.6h1.1v1.1h-1.1zM250.5 547.9h1.1v1.1h-1.1zM254.3 551.6h1.1v1.1h-1.1zM258.1 547.9h1.1v1.1h-1.1zM261.9 551.6h1.1v1.1h-1.1zM265.8 547.9h1.1v1.1h-1.1zM269.6 551.6h1.1v1.1h-1.1zM273.3 547.9h1.1v1.1h-1.1zM277.1 551.6h1.1v1.1h-1.1zM280.9 547.9h1.1v1.1h-1.1zM284.8 551.6h1.1v1.1h-1.1zM288.6 547.9h1.1v1.1h-1.1zM292.4 551.6h1.1v1.1h-1.1zM296.1 547.9h1.1v1.1h-1.1zM299.9 551.6h1.1v1.1h-1.1zM303.8 547.9h1.1v1.1h-1.1zM307.6 551.6h1.1v1.1h-1.1zM311.3 547.9h1.1v1.1h-1.1zM315.1 551.6h1.1v1.1h-1.1zM318.9 547.9h1.1v1.1h-1.1zM322.8 551.6h1.1v1.1h-1.1zM326.6 547.9h1.1v1.1h-1.1zM330.4 551.6h1.1v1.1h-1.1zM334.1 547.9h1.1v1.1h-1.1zM337.9 551.6h1.1v1.1h-1.1zM341.8 547.9h1.1v1.1h-1.1zM345.6 551.6h1.1v1.1h-1.1zM349.3 547.9h1.1v1.1h-1.1zM353.1 551.6h1.1v1.1h-1.1zM356.9 547.9h1.1v1.1h-1.1zM360.8 551.6h1.1v1.1h-1.1zM364.6 547.9h1.1v1.1h-1.1zM216.3 559.2h1.1v1.1h-1.1zM220.1 555.5h1.1v1.1h-1.1zM223.9 559.2h1.1v1.1h-1.1zM227.8 555.5h1.1v1.1h-1.1zM231.6 559.2h1.1v1.1h-1.1zM235.3 555.5h1.1v1.1h-1.1zM239.2 559.2h1.1v1.1h-1.1zM242.9 555.5h1.1v1.1h-1.1zM246.8 559.2h1.1v1.1h-1.1zM250.5 555.5h1.1v1.1h-1.1zM254.3 559.2h1.1v1.1h-1.1zM258.1 555.5h1.1v1.1h-1.1zM261.9 559.2h1.1v1.1h-1.1zM265.8 555.5h1.1v1.1h-1.1zM269.6 559.2h1.1v1.1h-1.1zM273.3 555.5h1.1v1.1h-1.1zM277.1 559.2h1.1v1.1h-1.1zM280.9 555.5h1.1v1.1h-1.1zM284.8 559.2h1.1v1.1h-1.1zM288.6 555.5h1.1v1.1h-1.1zM292.4 559.2h1.1v1.1h-1.1zM296.1 555.5h1.1v1.1h-1.1zM299.9 559.2h1.1v1.1h-1.1zM303.8 555.5h1.1v1.1h-1.1zM307.6 559.2h1.1v1.1h-1.1zM311.3 555.5h1.1v1.1h-1.1zM315.1 559.2h1.1v1.1h-1.1zM318.9 555.5h1.1v1.1h-1.1zM322.8 559.2h1.1v1.1h-1.1zM326.6 555.5h1.1v1.1h-1.1zM330.4 559.2h1.1v1.1h-1.1zM334.1 555.5h1.1v1.1h-1.1zM337.9 559.2h1.1v1.1h-1.1zM341.8 555.5h1.1v1.1h-1.1zM345.6 559.2h1.1v1.1h-1.1zM349.3 555.5h1.1v1.1h-1.1zM353.1 559.2h1.1v1.1h-1.1zM356.9 555.5h1.1v1.1h-1.1zM360.8 559.2h1.1v1.1h-1.1zM364.6 555.5h1.1v1.1h-1.1zM368.4 559.2h1.1v1.1h-1.1zM216.3 566.9h1.1v1.1h-1.1zM220.1 563.1h1.1v1.1h-1.1zM223.9 566.9h1.1v1.1h-1.1zM227.8 563.1h1.1v1.1h-1.1zM231.6 566.9h1.1v1.1h-1.1zM235.3 563.1h1.1v1.1h-1.1zM239.2 566.9h1.1v1.1h-1.1zM242.9 563.1h1.1v1.1h-1.1zM246.8 566.9h1.1v1.1h-1.1zM250.5 563.1h1.1v1.1h-1.1zM254.3 566.9h1.1v1.1h-1.1zM258.1 563.1h1.1v1.1h-1.1zM261.9 566.9h1.1v1.1h-1.1zM265.8 563.1h1.1v1.1h-1.1zM269.6 566.9h1.1v1.1h-1.1zM273.3 563.1h1.1v1.1h-1.1zM277.1 566.9h1.1v1.1h-1.1zM280.9 563.1h1.1v1.1h-1.1zM284.8 566.9h1.1v1.1h-1.1zM288.6 563.1h1.1v1.1h-1.1zM292.4 566.9h1.1v1.1h-1.1zM296.1 563.1h1.1v1.1h-1.1zM299.9 566.9h1.1v1.1h-1.1zM303.8 563.1h1.1v1.1h-1.1zM307.6 566.9h1.1v1.1h-1.1zM311.3 563.1h1.1v1.1h-1.1zM315.1 566.9h1.1v1.1h-1.1zM318.9 563.1h1.1v1.1h-1.1zM322.8 566.9h1.1v1.1h-1.1zM326.6 563.1h1.1v1.1h-1.1zM330.4 566.9h1.1v1.1h-1.1zM334.1 563.1h1.1v1.1h-1.1zM337.9 566.9h1.1v1.1h-1.1zM341.8 563.1h1.1v1.1h-1.1zM345.6 566.9h1.1v1.1h-1.1zM349.3 563.1h1.1v1.1h-1.1zM353.1 566.9h1.1v1.1h-1.1zM356.9 563.1h1.1v1.1h-1.1zM360.8 566.9h1.1v1.1h-1.1zM364.6 563.1h1.1v1.1h-1.1zM368.4 566.9h1.1v1.1h-1.1zM212.5 570.7h1.1v1.1h-1.1zM216.3 574.5h1.1v1.1h-1.1zM220.1 570.7h1.1v1.1h-1.1zM223.9 574.5h1.1v1.1h-1.1zM227.8 570.7h1.1v1.1h-1.1zM231.6 574.5h1.1v1.1h-1.1zM235.3 570.7h1.1v1.1h-1.1zM239.2 574.5h1.1v1.1h-1.1zM242.9 570.7h1.1v1.1h-1.1zM246.8 574.5h1.1v1.1h-1.1zM250.5 570.7h1.1v1.1h-1.1zM254.3 574.5h1.1v1.1h-1.1zM258.1 570.7h1.1v1.1h-1.1zM261.9 574.5h1.1v1.1h-1.1zM265.8 570.7h1.1v1.1h-1.1zM269.6 574.5h1.1v1.1h-1.1zM273.3 570.7h1.1v1.1h-1.1zM277.1 574.5h1.1v1.1h-1.1zM280.9 570.7h1.1v1.1h-1.1zM284.8 574.5h1.1v1.1h-1.1zM288.6 570.7h1.1v1.1h-1.1zM292.4 574.5h1.1v1.1h-1.1zM296.1 570.7h1.1v1.1h-1.1zM299.9 574.5h1.1v1.1h-1.1zM303.8 570.7h1.1v1.1h-1.1zM307.6 574.5h1.1v1.1h-1.1zM311.3 570.7h1.1v1.1h-1.1zM315.1 574.5h1.1v1.1h-1.1zM318.9 570.7h1.1v1.1h-1.1zM322.8 574.5h1.1v1.1h-1.1zM326.6 570.7h1.1v1.1h-1.1zM330.4 574.5h1.1v1.1h-1.1zM334.1 570.7h1.1v1.1h-1.1zM337.9 574.5h1.1v1.1h-1.1zM341.8 570.7h1.1v1.1h-1.1zM345.6 574.5h1.1v1.1h-1.1zM349.3 570.7h1.1v1.1h-1.1zM353.1 574.5h1.1v1.1h-1.1zM356.9 570.7h1.1v1.1h-1.1zM360.8 574.5h1.1v1.1h-1.1zM364.6 570.7h1.1v1.1h-1.1zM368.4 574.5h1.1v1.1h-1.1zM212.5 578.3h1.1v1.1h-1.1zM216.3 582.1h1.1v1.1h-1.1zM220.1 578.3h1.1v1.1h-1.1zM223.9 582.1h1.1v1.1h-1.1zM227.8 578.3h1.1v1.1h-1.1zM231.6 582.1h1.1v1.1h-1.1zM235.3 578.3h1.1v1.1h-1.1zM239.2 582.1h1.1v1.1h-1.1zM242.9 578.3h1.1v1.1h-1.1zM246.8 582.1h1.1v1.1h-1.1zM250.5 578.3h1.1v1.1h-1.1zM254.3 582.1h1.1v1.1h-1.1zM258.1 578.3h1.1v1.1h-1.1zM261.9 582.1h1.1v1.1h-1.1zM265.8 578.3h1.1v1.1h-1.1zM269.6 582.1h1.1v1.1h-1.1zM273.3 578.3h1.1v1.1h-1.1zM277.1 582.1h1.1v1.1h-1.1zM280.9 578.3h1.1v1.1h-1.1zM284.8 582.1h1.1v1.1h-1.1zM288.6 578.3h1.1v1.1h-1.1zM292.4 582.1h1.1v1.1h-1.1zM296.1 578.3h1.1v1.1h-1.1zM299.9 582.1h1.1v1.1h-1.1zM303.8 578.3h1.1v1.1h-1.1zM307.6 582.1h1.1v1.1h-1.1zM311.3 578.3h1.1v1.1h-1.1zM315.1 582.1h1.1v1.1h-1.1zM318.9 578.3h1.1v1.1h-1.1zM322.8 582.1h1.1v1.1h-1.1zM326.6 578.3h1.1v1.1h-1.1zM330.4 582.1h1.1v1.1h-1.1zM334.1 578.3h1.1v1.1h-1.1zM337.9 582.1h1.1v1.1h-1.1zM341.8 578.3h1.1v1.1h-1.1zM345.6 582.1h1.1v1.1h-1.1zM349.3 578.3h1.1v1.1h-1.1zM353.1 582.1h1.1v1.1h-1.1zM356.9 578.3h1.1v1.1h-1.1zM360.8 582.1h1.1v1.1h-1.1zM364.6 578.3h1.1v1.1h-1.1zM368.4 582.1h1.1v1.1h-1.1zM372.1 578.3h1.1v1.1h-1.1zM212.5 585.9h1.1v1.1h-1.1zM216.3 589.6h1.1v1.1h-1.1zM220.1 585.9h1.1v1.1h-1.1zM223.9 589.6h1.1v1.1h-1.1zM227.8 585.9h1.1v1.1h-1.1zM231.6 589.6h1.1v1.1h-1.1zM235.3 585.9h1.1v1.1h-1.1zM239.2 589.6h1.1v1.1h-1.1zM242.9 585.9h1.1v1.1h-1.1zM246.8 589.6h1.1v1.1h-1.1zM250.5 585.9h1.1v1.1h-1.1zM254.3 589.6h1.1v1.1h-1.1zM258.1 585.9h1.1v1.1h-1.1zM261.9 589.6h1.1v1.1h-1.1zM265.8 585.9h1.1v1.1h-1.1zM269.6 589.6h1.1v1.1h-1.1zM273.3 585.9h1.1v1.1h-1.1zM277.1 589.6h1.1v1.1h-1.1zM280.9 585.9h1.1v1.1h-1.1zM284.8 589.6h1.1v1.1h-1.1zM288.6 585.9h1.1v1.1h-1.1zM292.4 589.6h1.1v1.1h-1.1zM296.1 585.9h1.1v1.1h-1.1zM299.9 589.6h1.1v1.1h-1.1zM303.8 585.9h1.1v1.1h-1.1zM307.6 589.6h1.1v1.1h-1.1zM311.3 585.9h1.1v1.1h-1.1zM315.1 589.6h1.1v1.1h-1.1zM318.9 585.9h1.1v1.1h-1.1zM322.8 589.6h1.1v1.1h-1.1zM326.6 585.9h1.1v1.1h-1.1zM330.4 589.6h1.1v1.1h-1.1zM334.1 585.9h1.1v1.1h-1.1zM337.9 589.6h1.1v1.1h-1.1zM341.8 585.9h1.1v1.1h-1.1zM345.6 589.6h1.1v1.1h-1.1zM349.3 585.9h1.1v1.1h-1.1zM353.1 589.6h1.1v1.1h-1.1zM356.9 585.9h1.1v1.1h-1.1zM360.8 589.6h1.1v1.1h-1.1zM364.6 585.9h1.1v1.1h-1.1zM368.4 589.6h1.1v1.1h-1.1zM372.1 585.9h1.1v1.1h-1.1zM212.5 593.5h1.1v1.1h-1.1zM216.3 597.2h1.1v1.1h-1.1zM220.1 593.5h1.1v1.1h-1.1zM223.9 597.2h1.1v1.1h-1.1zM227.8 593.5h1.1v1.1h-1.1zM231.6 597.2h1.1v1.1h-1.1zM235.3 593.5h1.1v1.1h-1.1zM239.2 597.2h1.1v1.1h-1.1zM242.9 593.5h1.1v1.1h-1.1zM246.8 597.2h1.1v1.1h-1.1zM250.5 593.5h1.1v1.1h-1.1zM254.3 597.2h1.1v1.1h-1.1zM258.1 593.5h1.1v1.1h-1.1zM261.9 597.2h1.1v1.1h-1.1zM265.8 593.5h1.1v1.1h-1.1zM269.6 597.2h1.1v1.1h-1.1zM273.3 593.5h1.1v1.1h-1.1zM277.1 597.2h1.1v1.1h-1.1zM280.9 593.5h1.1v1.1h-1.1zM284.8 597.2h1.1v1.1h-1.1zM288.6 593.5h1.1v1.1h-1.1zM292.4 597.2h1.1v1.1h-1.1zM296.1 593.5h1.1v1.1h-1.1zM299.9 597.2h1.1v1.1h-1.1zM303.8 593.5h1.1v1.1h-1.1zM307.6 597.2h1.1v1.1h-1.1zM311.3 593.5h1.1v1.1h-1.1zM315.1 597.2h1.1v1.1h-1.1zM318.9 593.5h1.1v1.1h-1.1zM322.8 597.2h1.1v1.1h-1.1zM326.6 593.5h1.1v1.1h-1.1zM330.4 597.2h1.1v1.1h-1.1zM334.1 593.5h1.1v1.1h-1.1zM337.9 597.2h1.1v1.1h-1.1zM341.8 593.5h1.1v1.1h-1.1zM345.6 597.2h1.1v1.1h-1.1zM349.3 593.5h1.1v1.1h-1.1zM353.1 597.2h1.1v1.1h-1.1zM356.9 593.5h1.1v1.1h-1.1zM360.8 597.2h1.1v1.1h-1.1zM364.6 593.5h1.1v1.1h-1.1zM368.4 597.2h1.1v1.1h-1.1zM216.3 604.9h1.1v1.1h-1.1zM220.1 601.1h1.1v1.1h-1.1zM223.9 604.9h1.1v1.1h-1.1zM227.8 601.1h1.1v1.1h-1.1zM231.6 604.9h1.1v1.1h-1.1zM235.3 601.1h1.1v1.1h-1.1zM239.2 604.9h1.1v1.1h-1.1zM242.9 601.1h1.1v1.1h-1.1zM246.8 604.9h1.1v1.1h-1.1zM250.5 601.1h1.1v1.1h-1.1zM254.3 604.9h1.1v1.1h-1.1zM258.1 601.1h1.1v1.1h-1.1zM261.9 604.9h1.1v1.1h-1.1zM265.8 601.1h1.1v1.1h-1.1zM269.6 604.9h1.1v1.1h-1.1zM273.3 601.1h1.1v1.1h-1.1zM277.1 604.9h1.1v1.1h-1.1zM280.9 601.1h1.1v1.1h-1.1zM284.8 604.9h1.1v1.1h-1.1zM288.6 601.1h1.1v1.1h-1.1zM292.4 604.9h1.1v1.1h-1.1zM296.1 601.1h1.1v1.1h-1.1zM299.9 604.9h1.1v1.1h-1.1zM303.8 601.1h1.1v1.1h-1.1zM307.6 604.9h1.1v1.1h-1.1zM311.3 601.1h1.1v1.1h-1.1zM315.1 604.9h1.1v1.1h-1.1zM318.9 601.1h1.1v1.1h-1.1zM322.8 604.9h1.1v1.1h-1.1zM326.6 601.1h1.1v1.1h-1.1zM330.4 604.9h1.1v1.1h-1.1zM334.1 601.1h1.1v1.1h-1.1zM337.9 604.9h1.1v1.1h-1.1zM341.8 601.1h1.1v1.1h-1.1zM345.6 604.9h1.1v1.1h-1.1zM349.3 601.1h1.1v1.1h-1.1zM353.1 604.9h1.1v1.1h-1.1zM356.9 601.1h1.1v1.1h-1.1zM360.8 604.9h1.1v1.1h-1.1zM364.6 601.1h1.1v1.1h-1.1zM368.4 604.9h1.1v1.1h-1.1zM216.3 612.5h1.1v1.1h-1.1zM220.1 608.7h1.1v1.1h-1.1zM223.9 612.5h1.1v1.1h-1.1zM227.8 608.7h1.1v1.1h-1.1zM231.6 612.5h1.1v1.1h-1.1zM235.3 608.7h1.1v1.1h-1.1zM239.2 612.5h1.1v1.1h-1.1zM242.9 608.7h1.1v1.1h-1.1zM246.8 612.5h1.1v1.1h-1.1zM250.5 608.7h1.1v1.1h-1.1zM254.3 612.5h1.1v1.1h-1.1zM258.1 608.7h1.1v1.1h-1.1zM261.9 612.5h1.1v1.1h-1.1zM265.8 608.7h1.1v1.1h-1.1zM269.6 612.5h1.1v1.1h-1.1zM273.3 608.7h1.1v1.1h-1.1zM277.1 612.5h1.1v1.1h-1.1zM280.9 608.7h1.1v1.1h-1.1zM284.8 612.5h1.1v1.1h-1.1zM288.6 608.7h1.1v1.1h-1.1zM292.4 612.5h1.1v1.1h-1.1zM296.1 608.7h1.1v1.1h-1.1zM299.9 612.5h1.1v1.1h-1.1zM303.8 608.7h1.1v1.1h-1.1zM307.6 612.5h1.1v1.1h-1.1zM311.3 608.7h1.1v1.1h-1.1zM315.1 612.5h1.1v1.1h-1.1zM318.9 608.7h1.1v1.1h-1.1zM322.8 612.5h1.1v1.1h-1.1zM326.6 608.7h1.1v1.1h-1.1zM330.4 612.5h1.1v1.1h-1.1zM334.1 608.7h1.1v1.1h-1.1zM337.9 612.5h1.1v1.1h-1.1zM341.8 608.7h1.1v1.1h-1.1zM345.6 612.5h1.1v1.1h-1.1zM349.3 608.7h1.1v1.1h-1.1zM353.1 612.5h1.1v1.1h-1.1zM356.9 608.7h1.1v1.1h-1.1zM360.8 612.5h1.1v1.1h-1.1zM364.6 608.7h1.1v1.1h-1.1zM220.1 616.2h1.1v1.1h-1.1zM223.9 620.0h1.1v1.1h-1.1zM227.8 616.2h1.1v1.1h-1.1zM231.6 620.0h1.1v1.1h-1.1zM235.3 616.2h1.1v1.1h-1.1zM239.2 620.0h1.1v1.1h-1.1zM242.9 616.2h1.1v1.1h-1.1zM246.8 620.0h1.1v1.1h-1.1zM250.5 616.2h1.1v1.1h-1.1zM254.3 620.0h1.1v1.1h-1.1zM258.1 616.2h1.1v1.1h-1.1zM261.9 620.0h1.1v1.1h-1.1zM265.8 616.2h1.1v1.1h-1.1zM269.6 620.0h1.1v1.1h-1.1zM273.3 616.2h1.1v1.1h-1.1zM277.1 620.0h1.1v1.1h-1.1zM280.9 616.2h1.1v1.1h-1.1zM284.8 620.0h1.1v1.1h-1.1zM288.6 616.2h1.1v1.1h-1.1zM292.4 620.0h1.1v1.1h-1.1zM296.1 616.2h1.1v1.1h-1.1zM299.9 620.0h1.1v1.1h-1.1zM303.8 616.2h1.1v1.1h-1.1zM307.6 620.0h1.1v1.1h-1.1zM311.3 616.2h1.1v1.1h-1.1zM315.1 620.0h1.1v1.1h-1.1zM318.9 616.2h1.1v1.1h-1.1zM322.8 620.0h1.1v1.1h-1.1zM326.6 616.2h1.1v1.1h-1.1zM330.4 620.0h1.1v1.1h-1.1zM334.1 616.2h1.1v1.1h-1.1zM337.9 620.0h1.1v1.1h-1.1zM341.8 616.2h1.1v1.1h-1.1zM345.6 620.0h1.1v1.1h-1.1zM349.3 616.2h1.1v1.1h-1.1zM353.1 620.0h1.1v1.1h-1.1zM356.9 616.2h1.1v1.1h-1.1zM360.8 620.0h1.1v1.1h-1.1zM364.6 616.2h1.1v1.1h-1.1zM227.8 623.9h1.1v1.1h-1.1zM231.6 627.6h1.1v1.1h-1.1zM235.3 623.9h1.1v1.1h-1.1zM239.2 627.6h1.1v1.1h-1.1zM242.9 623.9h1.1v1.1h-1.1zM246.8 627.6h1.1v1.1h-1.1zM250.5 623.9h1.1v1.1h-1.1zM254.3 627.6h1.1v1.1h-1.1zM258.1 623.9h1.1v1.1h-1.1zM261.9 627.6h1.1v1.1h-1.1zM265.8 623.9h1.1v1.1h-1.1zM269.6 627.6h1.1v1.1h-1.1zM273.3 623.9h1.1v1.1h-1.1zM277.1 627.6h1.1v1.1h-1.1zM280.9 623.9h1.1v1.1h-1.1zM284.8 627.6h1.1v1.1h-1.1zM288.6 623.9h1.1v1.1h-1.1zM292.4 627.6h1.1v1.1h-1.1zM296.1 623.9h1.1v1.1h-1.1zM299.9 627.6h1.1v1.1h-1.1zM303.8 623.9h1.1v1.1h-1.1zM307.6 627.6h1.1v1.1h-1.1zM311.3 623.9h1.1v1.1h-1.1zM315.1 627.6h1.1v1.1h-1.1zM318.9 623.9h1.1v1.1h-1.1zM322.8 627.6h1.1v1.1h-1.1zM326.6 623.9h1.1v1.1h-1.1zM330.4 627.6h1.1v1.1h-1.1zM334.1 623.9h1.1v1.1h-1.1zM337.9 627.6h1.1v1.1h-1.1zM341.8 623.9h1.1v1.1h-1.1zM345.6 627.6h1.1v1.1h-1.1zM349.3 623.9h1.1v1.1h-1.1zM353.1 627.6h1.1v1.1h-1.1zM356.9 623.9h1.1v1.1h-1.1zM227.8 631.5h1.1v1.1h-1.1zM231.6 635.2h1.1v1.1h-1.1zM235.3 631.5h1.1v1.1h-1.1zM239.2 635.2h1.1v1.1h-1.1zM242.9 631.5h1.1v1.1h-1.1zM246.8 635.2h1.1v1.1h-1.1zM250.5 631.5h1.1v1.1h-1.1zM254.3 635.2h1.1v1.1h-1.1zM258.1 631.5h1.1v1.1h-1.1zM261.9 635.2h1.1v1.1h-1.1zM265.8 631.5h1.1v1.1h-1.1zM269.6 635.2h1.1v1.1h-1.1zM273.3 631.5h1.1v1.1h-1.1zM277.1 635.2h1.1v1.1h-1.1zM280.9 631.5h1.1v1.1h-1.1zM284.8 635.2h1.1v1.1h-1.1zM288.6 631.5h1.1v1.1h-1.1zM292.4 635.2h1.1v1.1h-1.1zM296.1 631.5h1.1v1.1h-1.1zM299.9 635.2h1.1v1.1h-1.1zM303.8 631.5h1.1v1.1h-1.1zM307.6 635.2h1.1v1.1h-1.1zM311.3 631.5h1.1v1.1h-1.1zM315.1 635.2h1.1v1.1h-1.1zM318.9 631.5h1.1v1.1h-1.1zM322.8 635.2h1.1v1.1h-1.1zM326.6 631.5h1.1v1.1h-1.1zM330.4 635.2h1.1v1.1h-1.1zM334.1 631.5h1.1v1.1h-1.1zM337.9 635.2h1.1v1.1h-1.1zM341.8 631.5h1.1v1.1h-1.1zM345.6 635.2h1.1v1.1h-1.1zM349.3 631.5h1.1v1.1h-1.1zM353.1 635.2h1.1v1.1h-1.1zM235.3 639.1h1.1v1.1h-1.1zM239.2 642.9h1.1v1.1h-1.1zM242.9 639.1h1.1v1.1h-1.1zM246.8 642.9h1.1v1.1h-1.1zM250.5 639.1h1.1v1.1h-1.1zM254.3 642.9h1.1v1.1h-1.1zM258.1 639.1h1.1v1.1h-1.1zM261.9 642.9h1.1v1.1h-1.1zM265.8 639.1h1.1v1.1h-1.1zM269.6 642.9h1.1v1.1h-1.1zM273.3 639.1h1.1v1.1h-1.1zM277.1 642.9h1.1v1.1h-1.1zM280.9 639.1h1.1v1.1h-1.1zM284.8 642.9h1.1v1.1h-1.1zM288.6 639.1h1.1v1.1h-1.1zM292.4 642.9h1.1v1.1h-1.1zM296.1 639.1h1.1v1.1h-1.1zM299.9 642.9h1.1v1.1h-1.1zM303.8 639.1h1.1v1.1h-1.1zM307.6 642.9h1.1v1.1h-1.1zM311.3 639.1h1.1v1.1h-1.1zM315.1 642.9h1.1v1.1h-1.1zM318.9 639.1h1.1v1.1h-1.1zM322.8 642.9h1.1v1.1h-1.1zM326.6 639.1h1.1v1.1h-1.1zM330.4 642.9h1.1v1.1h-1.1zM334.1 639.1h1.1v1.1h-1.1zM337.9 642.9h1.1v1.1h-1.1zM341.8 639.1h1.1v1.1h-1.1zM345.6 642.9h1.1v1.1h-1.1zM349.3 639.1h1.1v1.1h-1.1zM242.9 646.7h1.1v1.1h-1.1zM250.5 646.7h1.1v1.1h-1.1zM254.3 650.5h1.1v1.1h-1.1zM258.1 646.7h1.1v1.1h-1.1zM261.9 650.5h1.1v1.1h-1.1zM265.8 646.7h1.1v1.1h-1.1zM269.6 650.5h1.1v1.1h-1.1zM273.3 646.7h1.1v1.1h-1.1zM277.1 650.5h1.1v1.1h-1.1zM280.9 646.7h1.1v1.1h-1.1zM284.8 650.5h1.1v1.1h-1.1zM288.6 646.7h1.1v1.1h-1.1zM292.4 650.5h1.1v1.1h-1.1zM296.1 646.7h1.1v1.1h-1.1zM299.9 650.5h1.1v1.1h-1.1zM303.8 646.7h1.1v1.1h-1.1zM307.6 650.5h1.1v1.1h-1.1zM311.3 646.7h1.1v1.1h-1.1zM315.1 650.5h1.1v1.1h-1.1zM318.9 646.7h1.1v1.1h-1.1zM322.8 650.5h1.1v1.1h-1.1zM326.6 646.7h1.1v1.1h-1.1zM330.4 650.5h1.1v1.1h-1.1zM334.1 646.7h1.1v1.1h-1.1zM341.8 646.7h1.1v1.1h-1.1zM258.1 654.2h1.1v1.1h-1.1zM261.9 658.0h1.1v1.1h-1.1zM265.8 654.2h1.1v1.1h-1.1zM269.6 658.0h1.1v1.1h-1.1zM273.3 654.2h1.1v1.1h-1.1zM277.1 658.0h1.1v1.1h-1.1zM280.9 654.2h1.1v1.1h-1.1zM284.8 658.0h1.1v1.1h-1.1zM288.6 654.2h1.1v1.1h-1.1zM292.4 658.0h1.1v1.1h-1.1zM296.1 654.2h1.1v1.1h-1.1zM299.9 658.0h1.1v1.1h-1.1zM303.8 654.2h1.1v1.1h-1.1zM307.6 658.0h1.1v1.1h-1.1zM311.3 654.2h1.1v1.1h-1.1zM315.1 658.0h1.1v1.1h-1.1zM318.9 654.2h1.1v1.1h-1.1zM326.6 654.2h1.1v1.1h-1.1zM280.9 661.9h1.1v1.1h-1.1zM288.6 661.9h1.1v1.1h-1.1zM296.1 661.9h1.1v1.1h-1.1zM303.8 661.9h1.1v1.1h-1.1z" fill="#000" fill-opacity="0.18"/>
<path d="M209.2,586.5 209.9,584.8 210.6,582.3 210.9,580.5 211.2,577.7 211.4,574.8 211.3,572.0 211.2,569.2 210.7,566.3 210.7,566.2M212.0,606.0 212.7,604.7 213.5,603.3 214.9,600.6 215.7,599.0 216.4,597.6 217.7,594.8 218.4,593.3 219.2,591.4 219.9,589.1 220.6,586.4 220.9,584.8 221.2,581.9 221.3,579.1 221.4,576.3 221.3,573.4 221.1,570.6 220.8,567.7 220.6,565.8 220.2,563.5 219.6,560.6 219.2,558.7 218.6,556.4 218.0,553.5 217.7,552.1 217.3,549.7M341.5,518.2 341.7,520.9 342.1,523.7 342.7,526.2 343.2,528.0 344.1,530.1 345.2,532.2 346.1,533.7 347.3,535.1 348.6,536.5 350.5,537.9 352.7,539.1 354.1,539.6 356.9,540.1 359.8,540.1 361.6,539.8M217.7,621.6 218.4,620.3 219.2,618.8 220.6,616.0 221.4,614.6 222.1,613.2 223.4,610.7 224.4,608.9 225.1,607.5 226.3,605.3 227.2,603.3 227.9,601.8 229.0,599.0 229.5,597.6 230.4,594.7 230.8,593.3 231.4,590.5 231.9,587.7 232.2,586.2 232.7,583.4 233.0,580.5 233.3,577.7 233.4,576.3 233.5,573.4 233.4,570.7 233.3,569.2 233.0,566.3 232.9,563.5 232.9,560.6 232.8,557.8 232.6,555.0 232.5,552.1 232.5,549.3 232.7,546.4 233.2,543.6 233.6,542.2 234.6,539.3 235.2,537.9 236.2,535.7 237.2,533.7 237.9,532.2 239.0,530.0 240.2,528.0 240.9,526.6 241.9,524.8 243.3,522.3 244.1,520.9 244.9,519.5 246.1,517.4 247.4,515.4M328.4,510.8 328.5,512.4 328.6,513.8 328.7,516.6 328.9,519.5 329.3,522.3 329.8,525.1 330.1,526.6 330.8,529.4 331.4,531.2 332.3,533.7 333.0,535.1 334.2,537.1 335.6,538.9 337.0,540.4 338.5,541.6 339.9,542.6 341.6,543.6 344.1,544.8 345.6,545.4 348.4,546.3 349.8,546.7 352.7,547.5 354.1,547.9 356.9,548.7 359.8,549.2 361.2,549.4 364.0,549.7 366.9,549.8 367.4,549.8M223.3,631.5 223.8,630.2 224.7,627.4 225.3,626.0 226.3,623.7 227.1,621.7 227.8,620.3 229.1,617.9 230.1,616.0 230.9,614.6 231.9,612.8 233.3,610.4 234.2,608.9 235.0,607.5 236.2,605.2 237.1,603.3 237.7,601.8 238.9,599.0 239.5,597.6 240.5,594.9 241.0,593.3 241.9,590.9 242.5,589.1 243.3,586.6 243.9,584.8 244.7,582.3 245.3,580.5 246.1,577.7 246.7,576.3 247.5,573.4 247.9,572.0 248.7,569.2 249.0,567.5 249.5,564.9 249.7,562.1 249.7,559.2 249.7,556.4 249.8,553.5 250.0,550.7 250.4,547.9 250.8,546.4 251.5,543.6 251.8,542.1 252.8,539.3 253.2,537.9 254.5,535.1 255.2,533.7 256.1,531.9 257.4,529.4 258.3,528.0 259.1,526.6 260.3,524.7 261.8,522.7 263.1,520.9 264.2,519.5 265.4,518.0 266.5,516.6 267.6,515.2 268.9,513.6 270.3,511.9 271.7,509.8 272.8,508.1 273.6,506.7 274.5,504.6 274.8,503.8M294.4,557.5 293.0,558.0 290.5,559.2 288.8,560.6 287.5,562.1 286.8,563.5 286.1,566.3 286.6,569.2 287.3,570.7 288.7,572.5 290.2,573.7 292.1,574.8 294.4,575.7 297.3,576.3 298.7,576.4 300.2,576.3 303.0,575.8 305.4,574.8 307.2,573.9 308.6,572.7 310.1,571.4 311.4,569.2 312.0,567.7 312.2,564.9 311.5,562.7 310.1,560.8 308.6,559.5 307.2,558.7 305.3,557.8 303.0,557.2 300.1,556.9 297.3,557.0 294.4,557.5M349.8,591.4 348.4,592.0 346.5,593.3 345.1,594.7 344.1,596.5 343.5,599.0 343.6,601.8 344.1,603.7 345.4,606.1 346.6,607.5 348.4,608.9 349.8,609.7 351.5,610.4 354.1,610.9 356.9,610.9 359.4,610.4 361.2,609.5 362.6,608.7 364.0,607.3 365.4,605.0 366.1,603.3 366.4,600.4 365.8,597.6 365.2,596.2 364.0,594.6 362.6,593.2 360.6,591.9 358.3,591.1 355.5,590.6 352.7,590.7 349.8,591.4M308.9,503.8 310.1,505.3 311.5,507.6 312.3,509.5 312.9,510.9 313.6,513.8 314.1,516.6 314.3,518.1 314.7,520.9 314.9,523.7 315.2,526.6 315.3,529.4 315.3,532.2 315.1,535.1 314.6,537.9 313.9,539.3 312.9,541.1 311.5,542.3 308.6,543.2 306.7,543.6 304.4,544.0 301.5,544.4 298.7,544.9 297.3,545.3 294.4,546.1 292.9,546.4 290.2,546.8 287.3,546.8 284.5,546.9 281.6,546.8 279.7,546.4 277.4,545.6 276.0,544.1 275.3,542.2 275.2,539.3 275.5,536.5 276.1,535.1 277.0,532.2 277.9,530.8 278.8,528.9 280.2,526.6 281.0,525.1 282.0,523.7 283.1,521.7 284.2,519.5 285.0,518.0 285.9,515.9 286.8,513.8 287.4,512.4 288.5,509.5 289.2,508.1 290.2,506.2 291.6,504.4 293.0,503.0 293.7,502.4M375.4,581.9 372.5,581.0 371.1,580.5 368.3,579.7 365.4,579.1 364.0,578.9 361.2,578.9 359.1,579.1 356.9,579.4 354.1,579.9 351.2,580.4 349.8,580.8 347.0,581.4 344.9,581.9 342.7,582.9 341.3,583.7 339.6,584.8 338.3,586.2 337.0,588.2 336.1,590.5 335.6,593.0 335.5,594.7 335.6,596.5 336.1,599.0 336.9,601.8 337.5,603.3 338.5,605.2 339.9,607.4 341.1,608.9 342.4,610.4 344.1,611.8 345.6,612.7 347.0,613.5 349.4,614.6 351.2,615.3 354.1,616.0 355.5,616.2 358.3,616.7 361.2,617.0 364.0,616.9 366.9,616.6 369.0,616.0 369.7,615.8M231.1,642.1 231.2,640.2 231.5,637.3 231.9,634.5 232.2,633.1 232.8,630.2 233.4,628.4 234.2,626.0 234.8,624.5 236.1,621.7 236.9,620.3 237.7,618.9 239.0,616.5 240.2,614.6 241.1,613.2 242.0,611.8 243.3,609.5 244.6,607.5 245.4,606.1 246.3,604.7 247.6,602.6 248.8,600.4 249.7,599.0 250.7,597.6 251.8,595.6 253.2,593.5 254.3,591.9 255.3,590.5 256.5,589.1 257.7,587.6 258.9,586.0 260.3,584.4 261.8,583.0 263.2,581.7 264.7,580.5 266.7,579.1 268.9,578.1 270.3,577.7 272.2,577.7 274.5,578.1 277.4,579.1 278.8,579.5 281.6,580.5 283.1,580.9 285.9,581.6 287.3,582.0 290.2,582.5 293.0,582.9 295.3,583.4 297.3,583.6 300.1,583.9 303.0,583.8 305.8,583.6 307.3,583.4 310.1,582.7 312.9,582.0 314.3,581.5 316.8,580.5 318.6,579.6 320.0,578.8 321.8,577.7 323.3,576.3 324.6,574.8 325.7,573.0 326.8,570.6 327.5,569.2 328.4,566.3 329.0,564.9 329.9,562.8 331.4,560.9 332.8,559.6 334.2,558.6 336.3,557.8 338.5,557.3 341.3,557.0 344.1,557.0 347.0,557.3 349.8,557.7 351.2,558.1 354.1,559.0 355.5,559.6 357.7,560.6 359.8,561.7 361.2,562.6 362.6,563.6 364.6,564.9 366.4,566.3 368.3,567.6 369.7,568.7 371.1,569.9 372.5,571.3 374.0,572.5 375.4,573.7M238.5,649.6 237.9,647.3 237.5,645.9 237.3,643.0 237.3,640.2 237.3,637.3 237.4,634.5 237.6,632.9 238.5,630.2 239.0,627.4 239.9,626.0 240.5,624.0 241.6,621.7 242.6,620.3 243.3,618.5 244.7,616.0 245.8,614.6 246.9,613.2 247.6,611.6 249.0,609.8 250.3,607.5 251.5,606.1 252.7,604.7 253.5,603.3 254.7,601.5 256.1,599.9 257.5,598.1 258.9,596.3 260.3,594.7 261.8,593.5 263.2,592.5 264.6,591.4 266.0,590.2 268.2,589.1 270.3,588.4 271.7,587.6 274.5,587.2 277.4,586.9 280.2,586.8 283.1,586.8 285.9,586.9 288.7,587.1 291.6,587.2 294.4,587.4 296.9,587.6 298.7,588.1 301.5,588.4 304.4,588.4 307.2,588.3 310.1,587.9 311.5,587.6 314.3,587.4 317.2,587.4 320.0,587.4 322.8,587.6 324.3,588.3 326.0,589.1 327.3,590.5 328.5,592.4 329.3,594.7 330.2,596.2 331.4,598.6 331.9,600.4 332.9,601.8 334.2,604.3 335.1,606.1 336.0,607.5 337.3,608.9 338.6,610.4 340.1,611.8 341.6,613.2 343.7,614.6 345.6,615.8 347.0,616.5 349.8,617.4 351.2,618.2 354.1,618.8 355.5,619.5 358.3,620.1 359.8,620.4 362.6,621.4 365.0,621.7 366.9,622.5M338.0,654.8 335.8,654.4 334.2,654.1 331.4,653.6 328.5,653.5 325.7,653.4 322.8,653.3 320.0,653.1 317.8,653.0 315.7,652.8 312.9,652.6 310.1,652.4 307.2,652.2 304.4,652.1 301.5,652.0 298.7,652.0 295.9,652.0 293.0,651.9 290.2,651.7 287.9,651.5 285.9,651.3 283.1,651.0 280.2,650.7 277.4,650.2 276.0,650.1 273.1,649.5 270.3,648.8 268.9,648.5 266.0,647.4 264.6,646.8 262.9,645.9 260.9,644.4 259.4,643.0 258.2,641.6 257.4,640.2 256.2,637.3 255.9,635.9 255.7,633.1 255.9,630.2 256.1,628.6 256.8,626.0 257.5,623.9 258.5,621.7 259.3,620.3 260.3,618.5 261.8,616.4 263.2,614.6 264.4,613.2 265.8,611.8 267.3,610.4 268.9,609.0 270.3,608.0 271.7,607.0 273.3,606.1 276.0,604.8 277.4,604.3 280.2,603.3 281.6,603.0 284.5,602.4 287.3,602.0 289.4,601.8 291.6,601.7 294.4,601.7 297.3,601.7 300.1,601.8 301.5,601.9 304.4,602.1 307.2,602.5 310.1,603.0 311.5,603.3 314.3,604.0 316.3,604.7 318.6,605.6 320.0,606.3 322.1,607.5 324.3,608.9 325.7,610.0 327.1,611.1 328.5,612.2 329.9,613.4 331.4,614.6 333.1,616.0 335.0,617.5 336.9,618.9 338.5,620.0 339.9,621.0 341.3,621.7 343.9,623.1 345.6,624.0 347.2,624.6 349.8,625.8 351.2,626.7 352.7,627.9 354.1,629.3 355.5,631.0 356.9,632.8 358.0,634.5 358.6,635.7M310.1,621.6 312.9,621.3 315.7,621.4 318.4,621.7 320.0,622.1 322.8,623.1 324.3,623.8 325.7,624.6 327.3,626.0 328.5,627.4 329.5,630.2 328.5,632.8 327.1,633.9 325.7,634.6 322.8,635.2 320.0,635.3 317.2,634.8 315.4,634.5 312.9,633.7 311.2,633.1 308.6,631.9 307.2,631.1 305.8,630.2 304.1,628.8 303.0,626.9 303.0,625.6 304.4,623.8 305.8,622.9 308.6,621.9 310.1,621.6" fill="none" stroke="#222" stroke-width="0.8" stroke-opacity="0.62" clip-path="url(#disk1)"/>
<circle cx="292.3" cy="585.5" r="89.3" fill="none" stroke="#333" stroke-width="1.1" stroke-dasharray="2 1.3 1 1.6" stroke-opacity="0.75"/>
<circle cx="292.3" cy="585.5" r="78.2" fill="none" stroke="#111" stroke-width="2"/>
<path d="M279.1,507.3L289.6,494.5 M295.1,494.5L306.5,507.3" stroke="#111" stroke-width="2" fill="none"/>
<path d="M214.5,568.5C211.5,564.7 206.9,566.0 206.7,571.5L207.1,586.0L206.7,601.0C206.9,607.0 211.5,607.3 214.2,605.5" stroke="#111" stroke-width="1.7" fill="none" stroke-linejoin="round"/>
<path d="M370.1,568.5C373.1,564.7 377.7,566.0 377.9,571.5L377.5,586.0L377.9,601.0C377.7,607.0 373.1,607.3 370.4,605.5" stroke="#111" stroke-width="1.7" fill="none" stroke-linejoin="round"/>
<g fill="#111">
<circle cx="267.4" cy="507.5" r="1.1"/>
<circle cx="317.0" cy="507.5" r="1.1"/>
<circle cx="225.3" cy="536.1" r="1.1"/>
<circle cx="257.4" cy="544.3" r="1.1"/>
<circle cx="292.3" cy="545.4" r="1.1"/>
<circle cx="327.5" cy="544.3" r="1.1"/>
<circle cx="359.6" cy="536.1" r="1.1"/>
<circle cx="231.9" cy="562.0" r="1.1"/>
<circle cx="272.4" cy="565.1" r="1.1"/>
<circle cx="312.0" cy="565.1" r="1.1"/>
<circle cx="353.0" cy="562.0" r="1.1"/>
<circle cx="292.3" cy="570.2" r="1.1"/>
<circle cx="214.1" cy="585.5" r="1.1"/>
<circle cx="250.1" cy="585.5" r="1.1"/>
<circle cx="292.3" cy="585.5" r="1.1"/>
<circle cx="334.5" cy="585.5" r="1.1"/>
<circle cx="370.5" cy="585.5" r="1.1"/>
<circle cx="231.9" cy="608.0" r="1.1"/>
<circle cx="272.4" cy="605.5" r="1.1"/>
<circle cx="312.0" cy="605.5" r="1.1"/>
<circle cx="353.0" cy="608.0" r="1.1"/>
<circle cx="225.3" cy="634.1" r="1.1"/>
<circle cx="359.6" cy="634.1" r="1.1"/>
<circle cx="268.2" cy="662.0" r="1.1"/>
<circle cx="316.2" cy="662.0" r="1.1"/>
<circle cx="257.2" cy="626.3" r="2"/>
<circle cx="291.5" cy="625.5" r="2"/>
<circle cx="326.1" cy="626.3" r="2"/>
</g>
<rect x="59.3" y="618.6" width="77.2" height="49.4" fill="none" stroke="#000" stroke-width="2.4"/>
<rect x="252.6" y="617.3" width="77.8" height="49.1" fill="none" stroke="#000" stroke-width="2.4"/>
<path d="M98.7,626.5H184.7" stroke="#000" stroke-width="2"/>
<text x="188.3" y="632.9" fill="#000" style='font-family:"Liberation Serif",serif;font-weight:bold;font-size:15.5px'>Pz</text>
<g fill="#7b7b7b" style='font-family:"Liberation Serif",serif;font-weight:bold;font-size:20.5px' text-anchor="middle">
<text x="102.3" y="702.7">Good</text>
<text x="294" y="702.7">Poor</text>
</g>
<defs><linearGradient id="cb" x1="0" y1="0" x2="0" y2="1">
<stop offset="0.000" stop-color="rgb(135,18,20)"/>
<stop offset="0.017" stop-color="rgb(140,20,20)"/>
<stop offset="0.083" stop-color="rgb(210,30,20)"/>
<stop offset="0.138" stop-color="rgb(240,30,20)"/>
<stop offset="0.200" stop-color="rgb(240,80,25)"/>
<stop offset="0.255" stop-color="rgb(240,130,30)"/>
<stop offset="0.295" stop-color="rgb(240,180,40)"/>
<stop offset="0.340" stop-color="rgb(240,235,45)"/>
<stop offset="0.380" stop-color="rgb(240,245,50)"/>
<stop offset="0.432" stop-color="rgb(210,245,60)"/>
<stop offset="0.468" stop-color="rgb(180,240,80)"/>
<stop offset="0.495" stop-color="rgb(150,240,100)"/>
<stop offset="0.522" stop-color="rgb(130,235,140)"/>
<stop offset="0.578" stop-color="rgb(100,240,220)"/>
<stop offset="0.620" stop-color="rgb(100,240,245)"/>
<stop offset="0.668" stop-color="rgb(90,210,245)"/>
<stop offset="0.718" stop-color="rgb(70,160,240)"/>
<stop offset="0.767" stop-color="rgb(50,100,235)"/>
<stop offset="0.810" stop-color="rgb(30,40,230)"/>
<stop offset="0.850" stop-color="rgb(20,15,230)"/>
<stop offset="0.913" stop-color="rgb(25,15,225)"/>
<stop offset="1.000" stop-color="rgb(35,15,205)"/>
</linearGradient></defs>
<rect x="395.2" y="515.2" width="19" height="164" fill="url(#cb)" stroke="#333" stroke-width="0.6" stroke-opacity="0.6"/>
<g fill="#6e6e6e" style='font-family:"Liberation Serif",serif'>
<text x="391.6" y="506.5" style="font-size:16px">3<tspan dx="1.6" style="font-size:12.5px">&#181;V</tspan></text>
<text x="390.5" y="699" style="font-size:16px">-3<tspan dx="1.6" style="font-size:12.5px">&#181;V</tspan></text>
</g>
<text x="435" y="452.3" fill="#000" style='font-family:"Liberation Serif",serif;font-weight:bold;font-size:20px'>(c)</text>
<rect x="495.5" y="444.9" width="12" height="12" fill="#8b2a52"/>
<rect x="600.4" y="444.9" width="12" height="12" fill="#264696"/>
<g fill="#7b7b7b" style='font-family:"Liberation Serif",serif;font-weight:bold;font-size:20.5px'>
<text x="514.6" y="458.6">Non-AM</text>
<text x="616.4" y="458.6">AM</text>
</g>
<rect x="506.8" y="563.8" width="29.5" height="106.5" fill="#89284f"/>
<rect x="539.6" y="595" width="29.8" height="75.3" fill="#264696"/>
<rect x="590.6" y="605.7" width="29.4" height="64.6" fill="#89284f"/>
<rect x="624" y="544.4" width="29.2" height="125.9" fill="#264696"/>
<g stroke="#8c8c8c" stroke-width="1.6" fill="none">
<path d="M521.55,563.8V539.3M514.05,539.3H529.05"/>
<path d="M554.5,595V570.4M547,570.4H562"/>
<path d="M605.3,605.7V577.9M597.8,577.9H612.8"/>
<path d="M638.6,544.4V517.2M631.1,517.2H646.1"/>
</g>
<g stroke="#9a9a9a" stroke-width="3" stroke-linecap="round" fill="none">
<path d="M494.1,466.5V670.3H667.6"/>
<path d="M485,670.5H494.1"/>
<path d="M485,619.8H494.1"/>
<path d="M485,569.1H494.1"/>
<path d="M485,518.4H494.1"/>
<path d="M485,467.7H494.1"/>
<path d="M537.6,670.3V681M621.4,670.3V681"/>
<path d="M519.2,529H554.4M605,507.2H640.1"/>
</g>
<g fill="#7b7b7b" style='font-family:"Liberation Serif",serif;font-weight:bold;font-size:18.5px' text-anchor="end">
<text x="482" y="676.8">1</text>
<text x="482" y="626.1">2</text>
<text x="482" y="575.4">3</text>
<text x="482" y="524.7">4</text>
<text x="482" y="474.0">5</text>
</g>
<text x="530" y="518.5" fill="#7b7b7b" style='font-family:"Liberation Serif",serif;font-style:italic;font-size:16px'>ns</text>
<text x="615.8" y="504" fill="#7b7b7b" style='font-family:"Liberation Serif",serif;font-weight:bold;font-size:23px'>*</text>
<g fill="#7b7b7b" style='font-family:"Liberation Serif",serif;font-weight:bold;font-size:20px' text-anchor="middle">
<text x="538.3" y="702">Good</text>
<text x="622.2" y="702">Poor</text>
</g>
<text transform="translate(456.4,675.3) rotate(-90)" fill="#7b7b7b" style='font-family:"Liberation Serif",serif;font-weight:bold;font-size:23px'>LPP Amplitude (&#181;V)</text>
</svg></body></html>
